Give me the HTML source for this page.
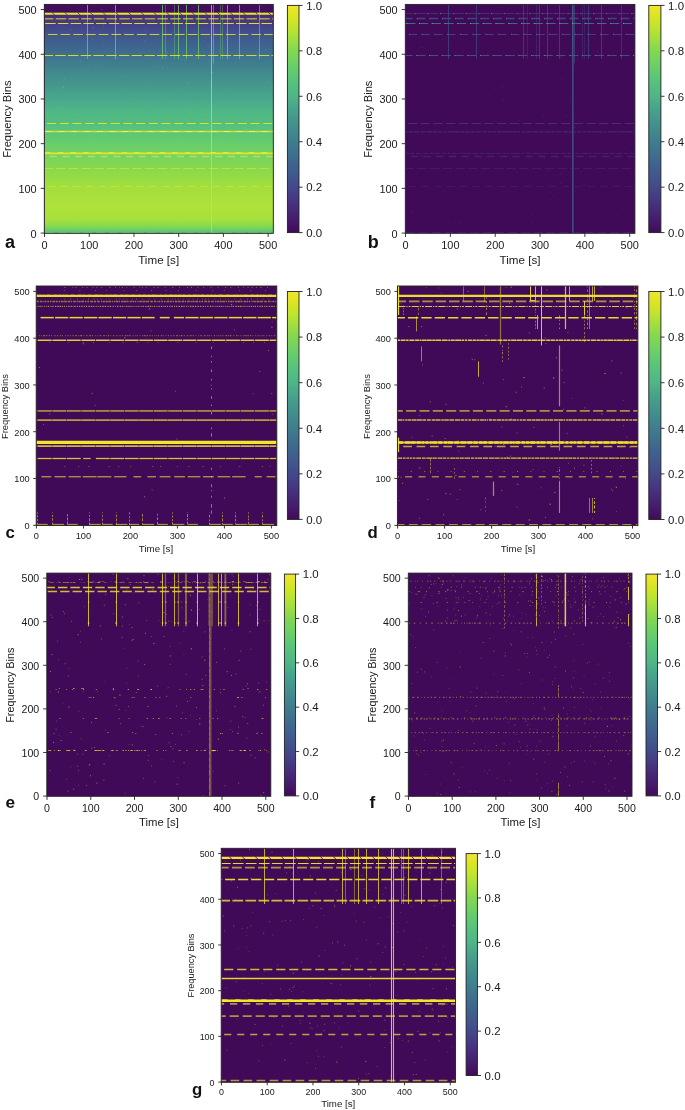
<!DOCTYPE html>
<html><head><meta charset="utf-8"><title>Spectrogram panels</title>
<style>html,body{margin:0;padding:0;background:#fff;}body{width:685px;height:1110px;overflow:hidden;font-family:"Liberation Sans",sans-serif;}svg{display:block}</style>
</head><body>
<svg width="685" height="1110" viewBox="0 0 685 1110" font-family="Liberation Sans, sans-serif">
<defs><linearGradient id="vir" x1="0" y1="1" x2="0" y2="0">
<stop offset="0.00" stop-color="#410a59"/>
<stop offset="0.05" stop-color="#451a6a"/>
<stop offset="0.10" stop-color="#462979"/>
<stop offset="0.15" stop-color="#463983"/>
<stop offset="0.20" stop-color="#43498a"/>
<stop offset="0.25" stop-color="#41578d"/>
<stop offset="0.30" stop-color="#3f638e"/>
<stop offset="0.35" stop-color="#3e708f"/>
<stop offset="0.40" stop-color="#3f7d8e"/>
<stop offset="0.45" stop-color="#418a8e"/>
<stop offset="0.50" stop-color="#45978c"/>
<stop offset="0.55" stop-color="#47a58b"/>
<stop offset="0.60" stop-color="#50b587"/>
<stop offset="0.65" stop-color="#54bf7f"/>
<stop offset="0.70" stop-color="#5fc973"/>
<stop offset="0.75" stop-color="#70d163"/>
<stop offset="0.80" stop-color="#83d750"/>
<stop offset="0.85" stop-color="#a0de41"/>
<stop offset="0.90" stop-color="#bee430"/>
<stop offset="0.95" stop-color="#dae522"/>
<stop offset="1.00" stop-color="#f1e62f"/>
</linearGradient>
<linearGradient id="abg" x1="0" y1="0" x2="0" y2="1">
<stop offset="0.0000" stop-color="#420d5d"/>
<stop offset="0.0340" stop-color="#420d5d"/>
<stop offset="0.0352" stop-color="#462777"/>
<stop offset="0.0469" stop-color="#462b7b"/>
<stop offset="0.0625" stop-color="#463380"/>
<stop offset="0.0781" stop-color="#453c85"/>
<stop offset="0.0938" stop-color="#444388"/>
<stop offset="0.1094" stop-color="#434a8a"/>
<stop offset="0.1250" stop-color="#42518c"/>
<stop offset="0.1406" stop-color="#41578d"/>
<stop offset="0.1562" stop-color="#405c8e"/>
<stop offset="0.1719" stop-color="#3f618e"/>
<stop offset="0.1875" stop-color="#3e668e"/>
<stop offset="0.2031" stop-color="#3e6b8e"/>
<stop offset="0.2188" stop-color="#3e718f"/>
<stop offset="0.2344" stop-color="#3e768f"/>
<stop offset="0.2500" stop-color="#3f7b8e"/>
<stop offset="0.2656" stop-color="#3f808e"/>
<stop offset="0.2812" stop-color="#40858e"/>
<stop offset="0.2969" stop-color="#41898e"/>
<stop offset="0.3125" stop-color="#428d8e"/>
<stop offset="0.3281" stop-color="#43918d"/>
<stop offset="0.3438" stop-color="#44958d"/>
<stop offset="0.3594" stop-color="#45998c"/>
<stop offset="0.3750" stop-color="#469d8c"/>
<stop offset="0.3906" stop-color="#46a28b"/>
<stop offset="0.4062" stop-color="#48a58b"/>
<stop offset="0.4219" stop-color="#49aa8a"/>
<stop offset="0.4375" stop-color="#4bae89"/>
<stop offset="0.4531" stop-color="#4eb388"/>
<stop offset="0.4688" stop-color="#50b686"/>
<stop offset="0.4844" stop-color="#51b984"/>
<stop offset="0.5000" stop-color="#51bb82"/>
<stop offset="0.5156" stop-color="#53be7f"/>
<stop offset="0.5312" stop-color="#55c17d"/>
<stop offset="0.5469" stop-color="#58c47a"/>
<stop offset="0.5625" stop-color="#5bc677"/>
<stop offset="0.5781" stop-color="#5fc973"/>
<stop offset="0.5938" stop-color="#62cb70"/>
<stop offset="0.6094" stop-color="#68ce6b"/>
<stop offset="0.6250" stop-color="#6ccf67"/>
<stop offset="0.6406" stop-color="#70d163"/>
<stop offset="0.6562" stop-color="#74d35e"/>
<stop offset="0.6719" stop-color="#79d45a"/>
<stop offset="0.6875" stop-color="#7ed655"/>
<stop offset="0.7031" stop-color="#81d752"/>
<stop offset="0.7188" stop-color="#87d94e"/>
<stop offset="0.7344" stop-color="#8eda4a"/>
<stop offset="0.7500" stop-color="#92db48"/>
<stop offset="0.7656" stop-color="#99dd44"/>
<stop offset="0.7812" stop-color="#9dde42"/>
<stop offset="0.7969" stop-color="#a2df3f"/>
<stop offset="0.8125" stop-color="#a4df3e"/>
<stop offset="0.8281" stop-color="#a7e03d"/>
<stop offset="0.8438" stop-color="#a9e03c"/>
<stop offset="0.8594" stop-color="#abe13a"/>
<stop offset="0.8750" stop-color="#aee139"/>
<stop offset="0.8906" stop-color="#aee139"/>
<stop offset="0.9062" stop-color="#abe13a"/>
<stop offset="0.9219" stop-color="#a9e03c"/>
<stop offset="0.9375" stop-color="#a7e03d"/>
<stop offset="0.9531" stop-color="#99dd44"/>
<stop offset="0.9688" stop-color="#85d84f"/>
<stop offset="0.9844" stop-color="#6acf68"/>
<stop offset="0.9922" stop-color="#5bc677"/>
<stop offset="0.9961" stop-color="#55c07e"/>
<stop offset="1.0000" stop-color="#50b984"/>
</linearGradient></defs>
<rect width="685" height="1110" fill="#fff"/>
<g id="pa">
<rect x="44.30" y="4.40" width="229.00" height="228.90" fill="#410a59"/>
<clipPath id="clipa"><rect x="44.30" y="4.40" width="229.00" height="228.90"/></clipPath>
<g clip-path="url(#clipa)">
<rect x="44.30" y="4.40" width="229.00" height="228.90" fill="url(#abg)"/>
<rect x="147.42" y="104.71" width="1.08" height="1.08" fill="#dae522" opacity="0.19"/>
<rect x="160.16" y="98.54" width="0.86" height="0.86" fill="#dae522" opacity="0.2"/>
<rect x="187.95" y="51.77" width="0.83" height="0.83" fill="#dae522" opacity="0.16"/>
<rect x="65.11" y="47.88" width="1.01" height="1.01" fill="#dae522" opacity="0.11"/>
<rect x="268.08" y="12.59" width="1.00" height="1.00" fill="#dae522" opacity="0.22"/>
<rect x="80.35" y="228.74" width="0.96" height="0.96" fill="#dae522" opacity="0.11"/>
<rect x="87.87" y="177.17" width="0.81" height="0.81" fill="#dae522" opacity="0.19"/>
<rect x="144.78" y="40.45" width="0.96" height="0.96" fill="#dae522" opacity="0.23"/>
<rect x="158.28" y="81.41" width="0.94" height="0.94" fill="#dae522" opacity="0.16"/>
<rect x="271.57" y="5.52" width="1.05" height="1.05" fill="#dae522" opacity="0.24"/>
<rect x="116.30" y="179.92" width="0.89" height="0.89" fill="#dae522" opacity="0.11"/>
<rect x="218.90" y="140.99" width="1.05" height="1.05" fill="#dae522" opacity="0.18"/>
<rect x="262.68" y="39.42" width="0.80" height="0.80" fill="#dae522" opacity="0.14"/>
<rect x="251.65" y="125.13" width="1.09" height="1.09" fill="#dae522" opacity="0.18"/>
<rect x="61.08" y="88.87" width="1.03" height="1.03" fill="#dae522" opacity="0.15"/>
<rect x="64.27" y="156.40" width="1.09" height="1.09" fill="#dae522" opacity="0.25"/>
<rect x="71.42" y="176.15" width="0.83" height="0.83" fill="#dae522" opacity="0.11"/>
<rect x="225.94" y="191.71" width="0.97" height="0.97" fill="#dae522" opacity="0.19"/>
<rect x="87.96" y="65.66" width="0.84" height="0.84" fill="#dae522" opacity="0.23"/>
<rect x="71.06" y="136.45" width="0.86" height="0.86" fill="#dae522" opacity="0.15"/>
<rect x="265.57" y="49.36" width="0.89" height="0.89" fill="#dae522" opacity="0.28"/>
<rect x="92.41" y="142.38" width="1.06" height="1.06" fill="#dae522" opacity="0.23"/>
<rect x="67.38" y="7.07" width="0.86" height="0.86" fill="#dae522" opacity="0.15"/>
<rect x="220.44" y="157.33" width="0.89" height="0.89" fill="#dae522" opacity="0.11"/>
<rect x="65.05" y="99.59" width="0.87" height="0.87" fill="#dae522" opacity="0.22"/>
<rect x="129.05" y="128.95" width="1.09" height="1.09" fill="#dae522" opacity="0.2"/>
<rect x="175.35" y="35.02" width="0.85" height="0.85" fill="#dae522" opacity="0.13"/>
<rect x="251.34" y="46.09" width="0.87" height="0.87" fill="#dae522" opacity="0.14"/>
<rect x="212.88" y="18.20" width="0.86" height="0.86" fill="#dae522" opacity="0.29"/>
<rect x="245.35" y="94.83" width="0.93" height="0.93" fill="#dae522" opacity="0.12"/>
<rect x="53.34" y="13.13" width="0.87" height="0.87" fill="#dae522" opacity="0.24"/>
<rect x="102.99" y="44.70" width="0.98" height="0.98" fill="#dae522" opacity="0.16"/>
<rect x="84.50" y="68.30" width="0.82" height="0.82" fill="#dae522" opacity="0.15"/>
<rect x="171.82" y="38.17" width="0.98" height="0.98" fill="#dae522" opacity="0.16"/>
<rect x="253.41" y="185.81" width="0.80" height="0.80" fill="#dae522" opacity="0.15"/>
<rect x="146.01" y="218.45" width="0.85" height="0.85" fill="#dae522" opacity="0.17"/>
<rect x="174.78" y="202.23" width="0.91" height="0.91" fill="#dae522" opacity="0.28"/>
<rect x="267.68" y="82.64" width="1.01" height="1.01" fill="#dae522" opacity="0.22"/>
<rect x="76.52" y="224.24" width="0.81" height="0.81" fill="#dae522" opacity="0.28"/>
<rect x="204.15" y="13.14" width="0.81" height="0.81" fill="#dae522" opacity="0.23"/>
<rect x="154.31" y="65.95" width="0.90" height="0.90" fill="#dae522" opacity="0.3"/>
<rect x="61.59" y="107.85" width="1.02" height="1.02" fill="#dae522" opacity="0.28"/>
<rect x="212.26" y="71.98" width="1.04" height="1.04" fill="#dae522" opacity="0.28"/>
<rect x="124.53" y="76.18" width="1.07" height="1.07" fill="#dae522" opacity="0.27"/>
<rect x="139.41" y="52.21" width="1.06" height="1.06" fill="#dae522" opacity="0.21"/>
<rect x="186.76" y="145.14" width="0.97" height="0.97" fill="#dae522" opacity="0.22"/>
<rect x="62.68" y="86.58" width="1.10" height="1.10" fill="#dae522" opacity="0.28"/>
<rect x="210.24" y="143.73" width="1.02" height="1.02" fill="#dae522" opacity="0.22"/>
<rect x="144.85" y="41.44" width="0.83" height="0.83" fill="#dae522" opacity="0.25"/>
<rect x="51.28" y="95.33" width="0.94" height="0.94" fill="#dae522" opacity="0.15"/>
<rect x="203.46" y="118.98" width="0.98" height="0.98" fill="#dae522" opacity="0.28"/>
<rect x="102.77" y="229.61" width="0.89" height="0.89" fill="#dae522" opacity="0.24"/>
<rect x="90.55" y="193.50" width="1.07" height="1.07" fill="#dae522" opacity="0.23"/>
<rect x="145.13" y="29.26" width="0.90" height="0.90" fill="#dae522" opacity="0.23"/>
<rect x="89.64" y="134.05" width="1.04" height="1.04" fill="#dae522" opacity="0.28"/>
<rect x="244.88" y="144.66" width="0.97" height="0.97" fill="#dae522" opacity="0.16"/>
<rect x="75.45" y="119.13" width="1.05" height="1.05" fill="#dae522" opacity="0.27"/>
<rect x="206.44" y="16.01" width="0.88" height="0.88" fill="#dae522" opacity="0.13"/>
<rect x="147.13" y="169.58" width="0.86" height="0.86" fill="#dae522" opacity="0.18"/>
<rect x="186.98" y="119.80" width="0.89" height="0.89" fill="#dae522" opacity="0.27"/>
<rect x="268.13" y="129.25" width="0.82" height="0.82" fill="#dae522" opacity="0.11"/>
<rect x="243.17" y="222.68" width="1.01" height="1.01" fill="#dae522" opacity="0.21"/>
<rect x="114.92" y="52.11" width="0.81" height="0.81" fill="#dae522" opacity="0.13"/>
<rect x="147.99" y="226.48" width="1.05" height="1.05" fill="#dae522" opacity="0.15"/>
<rect x="76.55" y="221.45" width="0.99" height="0.99" fill="#dae522" opacity="0.19"/>
<rect x="187.87" y="83.05" width="1.04" height="1.04" fill="#dae522" opacity="0.29"/>
<rect x="200.33" y="186.80" width="0.94" height="0.94" fill="#dae522" opacity="0.14"/>
<rect x="46.91" y="124.67" width="1.01" height="1.01" fill="#dae522" opacity="0.14"/>
<rect x="106.47" y="153.45" width="1.01" height="1.01" fill="#dae522" opacity="0.2"/>
<rect x="184.40" y="60.09" width="0.92" height="0.92" fill="#dae522" opacity="0.26"/>
<rect x="250.74" y="212.24" width="1.08" height="1.08" fill="#dae522" opacity="0.24"/>
<rect x="74.05" y="128.93" width="0.99" height="0.99" fill="#dae522" opacity="0.28"/>
<rect x="130.22" y="102.66" width="1.06" height="1.06" fill="#dae522" opacity="0.26"/>
<rect x="259.44" y="126.61" width="1.00" height="1.00" fill="#dae522" opacity="0.14"/>
<rect x="208.83" y="45.91" width="0.99" height="0.99" fill="#dae522" opacity="0.24"/>
<rect x="92.98" y="27.28" width="1.09" height="1.09" fill="#dae522" opacity="0.3"/>
<rect x="166.77" y="52.23" width="0.90" height="0.90" fill="#dae522" opacity="0.28"/>
<rect x="239.38" y="152.91" width="0.82" height="0.82" fill="#dae522" opacity="0.19"/>
<rect x="169.78" y="57.34" width="0.95" height="0.95" fill="#dae522" opacity="0.11"/>
<rect x="228.66" y="217.53" width="1.04" height="1.04" fill="#dae522" opacity="0.13"/>
<rect x="120.82" y="52.91" width="0.84" height="0.84" fill="#dae522" opacity="0.13"/>
<rect x="162.04" y="67.45" width="1.05" height="1.05" fill="#dae522" opacity="0.24"/>
<rect x="259.74" y="120.00" width="1.08" height="1.08" fill="#dae522" opacity="0.12"/>
<rect x="94.93" y="112.34" width="0.89" height="0.89" fill="#dae522" opacity="0.25"/>
<rect x="189.89" y="113.14" width="1.05" height="1.05" fill="#dae522" opacity="0.21"/>
<rect x="115.40" y="145.35" width="1.05" height="1.05" fill="#dae522" opacity="0.28"/>
<rect x="91.83" y="38.48" width="1.09" height="1.09" fill="#dae522" opacity="0.2"/>
<rect x="174.94" y="186.42" width="0.96" height="0.96" fill="#dae522" opacity="0.2"/>
<rect x="182.21" y="225.77" width="1.09" height="1.09" fill="#dae522" opacity="0.2"/>
<rect x="135.68" y="49.85" width="0.97" height="0.97" fill="#dae522" opacity="0.2"/>
<rect x="201.80" y="217.15" width="0.96" height="0.96" fill="#dae522" opacity="0.18"/>
<rect x="262.37" y="22.06" width="0.88" height="0.88" fill="#dae522" opacity="0.19"/>
<rect x="73.35" y="133.42" width="1.04" height="1.04" fill="#dae522" opacity="0.28"/>
<rect x="153.03" y="160.02" width="0.86" height="0.86" fill="#dae522" opacity="0.22"/>
<rect x="255.10" y="202.65" width="1.03" height="1.03" fill="#dae522" opacity="0.1"/>
<rect x="88.66" y="180.41" width="1.01" height="1.01" fill="#dae522" opacity="0.16"/>
<rect x="125.45" y="91.18" width="0.83" height="0.83" fill="#dae522" opacity="0.25"/>
<rect x="72.49" y="116.03" width="0.88" height="0.88" fill="#dae522" opacity="0.14"/>
<rect x="165.25" y="132.78" width="0.91" height="0.91" fill="#dae522" opacity="0.18"/>
<rect x="165.05" y="195.85" width="0.86" height="0.86" fill="#dae522" opacity="0.23"/>
<rect x="189.80" y="111.58" width="1.06" height="1.06" fill="#dae522" opacity="0.22"/>
<rect x="239.51" y="179.17" width="1.02" height="1.02" fill="#dae522" opacity="0.26"/>
<rect x="250.03" y="160.30" width="0.89" height="0.89" fill="#dae522" opacity="0.28"/>
<rect x="94.10" y="4.91" width="1.07" height="1.07" fill="#dae522" opacity="0.13"/>
<rect x="99.02" y="66.85" width="0.88" height="0.88" fill="#dae522" opacity="0.12"/>
<rect x="233.90" y="136.17" width="1.04" height="1.04" fill="#dae522" opacity="0.13"/>
<rect x="136.26" y="76.30" width="0.81" height="0.81" fill="#dae522" opacity="0.14"/>
<rect x="199.78" y="24.69" width="1.09" height="1.09" fill="#dae522" opacity="0.12"/>
<rect x="159.62" y="59.63" width="0.95" height="0.95" fill="#dae522" opacity="0.24"/>
<rect x="87.58" y="216.16" width="0.83" height="0.83" fill="#dae522" opacity="0.11"/>
<rect x="170.08" y="114.99" width="0.97" height="0.97" fill="#dae522" opacity="0.13"/>
<rect x="86.46" y="185.70" width="1.05" height="1.05" fill="#dae522" opacity="0.3"/>
<rect x="255.58" y="210.55" width="0.82" height="0.82" fill="#dae522" opacity="0.29"/>
<rect x="149.72" y="58.16" width="0.90" height="0.90" fill="#dae522" opacity="0.19"/>
<rect x="161.79" y="134.27" width="0.98" height="0.98" fill="#dae522" opacity="0.1"/>
<rect x="204.14" y="40.08" width="0.85" height="0.85" fill="#dae522" opacity="0.19"/>
<rect x="212.86" y="139.97" width="0.86" height="0.86" fill="#dae522" opacity="0.13"/>
<rect x="161.13" y="228.59" width="1.07" height="1.07" fill="#dae522" opacity="0.26"/>
<rect x="204.90" y="36.27" width="0.99" height="0.99" fill="#dae522" opacity="0.18"/>
<rect x="180.93" y="117.33" width="1.09" height="1.09" fill="#dae522" opacity="0.26"/>
<rect x="103.26" y="24.74" width="1.02" height="1.02" fill="#dae522" opacity="0.26"/>
<rect x="229.90" y="139.79" width="1.07" height="1.07" fill="#dae522" opacity="0.28"/>
<rect x="202.63" y="57.52" width="1.03" height="1.03" fill="#dae522" opacity="0.18"/>
<rect x="209.03" y="216.12" width="0.90" height="0.90" fill="#dae522" opacity="0.19"/>
<rect x="46.89" y="151.21" width="0.99" height="0.99" fill="#dae522" opacity="0.22"/>
<rect x="97.31" y="17.16" width="1.00" height="1.00" fill="#dae522" opacity="0.17"/>
<rect x="194.69" y="102.54" width="0.96" height="0.96" fill="#dae522" opacity="0.18"/>
<rect x="272.10" y="85.97" width="1.01" height="1.01" fill="#dae522" opacity="0.25"/>
<rect x="267.60" y="226.94" width="0.98" height="0.98" fill="#dae522" opacity="0.25"/>
<rect x="102.99" y="140.84" width="0.82" height="0.82" fill="#dae522" opacity="0.14"/>
<rect x="130.06" y="209.79" width="0.88" height="0.88" fill="#dae522" opacity="0.28"/>
<rect x="169.65" y="116.53" width="1.09" height="1.09" fill="#dae522" opacity="0.21"/>
<rect x="270.99" y="86.92" width="1.04" height="1.04" fill="#dae522" opacity="0.12"/>
<rect x="180.60" y="59.45" width="0.81" height="0.81" fill="#dae522" opacity="0.29"/>
<rect x="80.96" y="124.85" width="0.85" height="0.85" fill="#dae522" opacity="0.2"/>
<rect x="183.57" y="218.77" width="1.08" height="1.08" fill="#dae522" opacity="0.18"/>
<rect x="164.44" y="96.13" width="0.91" height="0.91" fill="#dae522" opacity="0.16"/>
<rect x="193.67" y="104.61" width="0.89" height="0.89" fill="#dae522" opacity="0.24"/>
<rect x="111.93" y="229.00" width="0.87" height="0.87" fill="#dae522" opacity="0.11"/>
<rect x="80.16" y="60.44" width="0.92" height="0.92" fill="#dae522" opacity="0.28"/>
<rect x="214.79" y="220.67" width="1.10" height="1.10" fill="#dae522" opacity="0.29"/>
<rect x="61.24" y="26.10" width="0.93" height="0.93" fill="#dae522" opacity="0.2"/>
<rect x="266.04" y="176.69" width="0.96" height="0.96" fill="#dae522" opacity="0.29"/>
<rect x="208.96" y="125.51" width="1.09" height="1.09" fill="#dae522" opacity="0.26"/>
<rect x="181.90" y="205.95" width="0.99" height="0.99" fill="#dae522" opacity="0.19"/>
<rect x="90.86" y="220.30" width="0.96" height="0.96" fill="#dae522" opacity="0.12"/>
<rect x="145.32" y="80.18" width="0.94" height="0.94" fill="#dae522" opacity="0.15"/>
<rect x="177.01" y="136.64" width="1.03" height="1.03" fill="#dae522" opacity="0.21"/>
<rect x="271.58" y="15.34" width="1.02" height="1.02" fill="#dae522" opacity="0.15"/>
<rect x="70.38" y="28.97" width="1.04" height="1.04" fill="#dae522" opacity="0.22"/>
<rect x="126.24" y="170.34" width="1.01" height="1.01" fill="#dae522" opacity="0.21"/>
<rect x="179.16" y="88.05" width="1.03" height="1.03" fill="#dae522" opacity="0.14"/>
<rect x="101.11" y="9.15" width="1.07" height="1.07" fill="#dae522" opacity="0.28"/>
<rect x="53.52" y="218.36" width="0.88" height="0.88" fill="#dae522" opacity="0.19"/>
<rect x="186.40" y="208.83" width="0.96" height="0.96" fill="#dae522" opacity="0.11"/>
<rect x="64.17" y="78.25" width="0.97" height="0.97" fill="#dae522" opacity="0.23"/>
<rect x="129.50" y="123.30" width="0.86" height="0.86" fill="#dae522" opacity="0.17"/>
<rect x="214.13" y="41.40" width="0.82" height="0.82" fill="#dae522" opacity="0.12"/>
<rect x="228.67" y="90.18" width="1.03" height="1.03" fill="#dae522" opacity="0.14"/>
<rect x="141.06" y="173.38" width="1.04" height="1.04" fill="#dae522" opacity="0.17"/>
<rect x="193.33" y="7.08" width="0.90" height="0.90" fill="#dae522" opacity="0.21"/>
<rect x="214.36" y="22.62" width="0.93" height="0.93" fill="#dae522" opacity="0.17"/>
<rect x="66.65" y="33.06" width="0.82" height="0.82" fill="#dae522" opacity="0.12"/>
<rect x="172.92" y="121.79" width="1.01" height="1.01" fill="#dae522" opacity="0.16"/>
<rect x="221.09" y="214.88" width="0.86" height="0.86" fill="#dae522" opacity="0.23"/>
<rect x="63.06" y="162.99" width="1.02" height="1.02" fill="#dae522" opacity="0.24"/>
<rect x="108.93" y="199.65" width="0.91" height="0.91" fill="#dae522" opacity="0.25"/>
<rect x="127.88" y="205.41" width="1.01" height="1.01" fill="#dae522" opacity="0.21"/>
<rect x="253.55" y="18.20" width="1.07" height="1.07" fill="#dae522" opacity="0.19"/>
<rect x="227.34" y="162.83" width="0.90" height="0.90" fill="#dae522" opacity="0.18"/>
<line x1="87.50" y1="58.94" x2="87.50" y2="4.40" stroke="#6ccf67" stroke-width="0.9" opacity="0.85"/>
<line x1="115.50" y1="58.94" x2="115.50" y2="4.40" stroke="#6ccf67" stroke-width="0.9" opacity="0.85"/>
<line x1="162.50" y1="58.94" x2="162.50" y2="4.40" stroke="#6ccf67" stroke-width="0.9" opacity="0.85"/>
<line x1="165.50" y1="58.94" x2="165.50" y2="4.40" stroke="#6ccf67" stroke-width="0.9" opacity="0.425"/>
<line x1="174.50" y1="58.94" x2="174.50" y2="4.40" stroke="#6ccf67" stroke-width="0.9" opacity="0.425"/>
<line x1="178.50" y1="58.94" x2="178.50" y2="4.40" stroke="#6ccf67" stroke-width="0.9" opacity="0.85"/>
<line x1="186.50" y1="58.94" x2="186.50" y2="4.40" stroke="#6ccf67" stroke-width="0.9" opacity="0.85"/>
<line x1="198.50" y1="58.94" x2="198.50" y2="4.40" stroke="#6ccf67" stroke-width="0.9" opacity="0.85"/>
<line x1="220.50" y1="58.94" x2="220.50" y2="4.40" stroke="#6ccf67" stroke-width="0.9" opacity="0.3825"/>
<line x1="222.50" y1="58.94" x2="222.50" y2="4.40" stroke="#6ccf67" stroke-width="0.9" opacity="0.3825"/>
<line x1="227.50" y1="58.94" x2="227.50" y2="4.40" stroke="#6ccf67" stroke-width="0.9" opacity="0.85"/>
<line x1="239.50" y1="58.94" x2="239.50" y2="4.40" stroke="#6ccf67" stroke-width="0.9" opacity="0.85"/>
<line x1="259.50" y1="58.94" x2="259.50" y2="4.40" stroke="#6ccf67" stroke-width="0.9" opacity="0.68"/>
<line x1="211.50" y1="233.30" x2="211.50" y2="4.40" stroke="#cfe53a" stroke-width="0.9" opacity="0.8"/>
<line x1="213.50" y1="63.41" x2="213.50" y2="4.40" stroke="#7bd558" stroke-width="0.9" opacity="0.6"/>
<line x1="44.30" y1="13.79" x2="273.30" y2="13.79" stroke="#ece51b" stroke-width="1.9" opacity="1.0"/>
<line x1="26.50" y1="12.54" x2="29.50" y2="15.04" stroke="#462979" stroke-width="0.9" opacity="0.9"/>
<line x1="39.22" y1="12.54" x2="42.22" y2="15.04" stroke="#462979" stroke-width="0.9" opacity="0.9"/>
<line x1="51.94" y1="12.54" x2="54.94" y2="15.04" stroke="#462979" stroke-width="0.9" opacity="0.9"/>
<line x1="64.67" y1="12.54" x2="67.67" y2="15.04" stroke="#462979" stroke-width="0.9" opacity="0.9"/>
<line x1="77.39" y1="12.54" x2="80.39" y2="15.04" stroke="#462979" stroke-width="0.9" opacity="0.9"/>
<line x1="90.11" y1="12.54" x2="93.11" y2="15.04" stroke="#462979" stroke-width="0.9" opacity="0.9"/>
<line x1="102.83" y1="12.54" x2="105.83" y2="15.04" stroke="#462979" stroke-width="0.9" opacity="0.9"/>
<line x1="115.56" y1="12.54" x2="118.56" y2="15.04" stroke="#462979" stroke-width="0.9" opacity="0.9"/>
<line x1="128.28" y1="12.54" x2="131.28" y2="15.04" stroke="#462979" stroke-width="0.9" opacity="0.9"/>
<line x1="141.00" y1="12.54" x2="144.00" y2="15.04" stroke="#462979" stroke-width="0.9" opacity="0.9"/>
<line x1="153.72" y1="12.54" x2="156.72" y2="15.04" stroke="#462979" stroke-width="0.9" opacity="0.9"/>
<line x1="166.44" y1="12.54" x2="169.44" y2="15.04" stroke="#462979" stroke-width="0.9" opacity="0.9"/>
<line x1="179.17" y1="12.54" x2="182.17" y2="15.04" stroke="#462979" stroke-width="0.9" opacity="0.9"/>
<line x1="191.89" y1="12.54" x2="194.89" y2="15.04" stroke="#462979" stroke-width="0.9" opacity="0.9"/>
<line x1="204.61" y1="12.54" x2="207.61" y2="15.04" stroke="#462979" stroke-width="0.9" opacity="0.9"/>
<line x1="217.33" y1="12.54" x2="220.33" y2="15.04" stroke="#462979" stroke-width="0.9" opacity="0.9"/>
<line x1="230.06" y1="12.54" x2="233.06" y2="15.04" stroke="#462979" stroke-width="0.9" opacity="0.9"/>
<line x1="242.78" y1="12.54" x2="245.78" y2="15.04" stroke="#462979" stroke-width="0.9" opacity="0.9"/>
<line x1="255.50" y1="12.54" x2="258.50" y2="15.04" stroke="#462979" stroke-width="0.9" opacity="0.9"/>
<line x1="268.22" y1="12.54" x2="271.22" y2="15.04" stroke="#462979" stroke-width="0.9" opacity="0.9"/>
<line x1="44.30" y1="18.71" x2="273.30" y2="18.71" stroke="#ece51b" stroke-width="1.6" opacity="0.62" stroke-dasharray="10.51 2.21" stroke-dashoffset="1.34"/>
<line x1="44.30" y1="23.50" x2="273.30" y2="23.50" stroke="#ece51b" stroke-width="1.2" opacity="0.95" stroke-dasharray="10.51 2.21" stroke-dashoffset="-0.89"/>
<line x1="44.30" y1="34.50" x2="273.30" y2="34.50" stroke="#ece51b" stroke-width="1.0" opacity="0.85" stroke-dasharray="9.62 3.10" stroke-dashoffset="-3.58"/>
<line x1="44.30" y1="55.50" x2="273.30" y2="55.50" stroke="#ece51b" stroke-width="1.2" opacity="0.9" stroke-dasharray="10.51 2.21" stroke-dashoffset="1.79"/>
<line x1="44.30" y1="123.50" x2="273.30" y2="123.50" stroke="#ece51b" stroke-width="1.1" opacity="0.9" stroke-dasharray="9.17 3.55" stroke-dashoffset="-2.68"/>
<line x1="44.30" y1="131.50" x2="273.30" y2="131.50" stroke="#ece51b" stroke-width="1.3" opacity="0.85"/>
<line x1="44.30" y1="131.50" x2="273.30" y2="131.50" stroke="#ffffd0" stroke-width="0.8" opacity="0.55" stroke-dasharray="6.26 6.46" stroke-dashoffset="-1.34"/>
<line x1="44.30" y1="153.36" x2="273.30" y2="153.36" stroke="#ece51b" stroke-width="1.8" opacity="0.97"/>
<line x1="44.30" y1="152.50" x2="273.30" y2="152.50" stroke="#ffffb0" stroke-width="0.8" opacity="0.5" stroke-dasharray="5.37 7.35" stroke-dashoffset="-0.89"/>
<line x1="44.30" y1="156.54" x2="273.30" y2="156.54" stroke="#e8e86a" stroke-width="1.6" opacity="0.55" stroke-dasharray="7.16 5.56" stroke-dashoffset="-5.37"/>
<line x1="44.30" y1="168.50" x2="273.30" y2="168.50" stroke="#ece51b" stroke-width="0.9" opacity="0.65" stroke-dasharray="9.39 3.33" stroke-dashoffset="0.89"/>
<line x1="44.30" y1="186.50" x2="273.30" y2="186.50" stroke="#ece51b" stroke-width="0.9" opacity="0.6" stroke-dasharray="7.16 5.56" stroke-dashoffset="-3.58"/>
<line x1="44.30" y1="232.50" x2="273.30" y2="232.50" stroke="#ece51b" stroke-width="0.9" opacity="0.35" stroke-dasharray="8.95 3.77" stroke-dashoffset="-0.89"/>
</g>
<rect x="44.30" y="4.40" width="229.00" height="228.90" fill="none" stroke="#222" stroke-width="0.9"/>
<line x1="44.52" y1="233.30" x2="44.52" y2="236.90" stroke="#222" stroke-width="0.9"/>
<line x1="40.70" y1="233.08" x2="44.30" y2="233.08" stroke="#222" stroke-width="0.9"/>
<text x="44.52" y="249.30" font-size="10.5" text-anchor="middle" fill="#1a1a1a" textLength="6.08" lengthAdjust="spacingAndGlyphs">0</text>
<text x="36.70" y="237.54" font-size="10.5" text-anchor="end" fill="#1a1a1a" textLength="6.08" lengthAdjust="spacingAndGlyphs">0</text>
<line x1="89.25" y1="233.30" x2="89.25" y2="236.90" stroke="#222" stroke-width="0.9"/>
<line x1="40.70" y1="188.37" x2="44.30" y2="188.37" stroke="#222" stroke-width="0.9"/>
<text x="89.25" y="249.30" font-size="10.5" text-anchor="middle" fill="#1a1a1a" textLength="18.24" lengthAdjust="spacingAndGlyphs">100</text>
<text x="36.70" y="192.83" font-size="10.5" text-anchor="end" fill="#1a1a1a" textLength="18.24" lengthAdjust="spacingAndGlyphs">100</text>
<line x1="133.98" y1="233.30" x2="133.98" y2="236.90" stroke="#222" stroke-width="0.9"/>
<line x1="40.70" y1="143.66" x2="44.30" y2="143.66" stroke="#222" stroke-width="0.9"/>
<text x="133.98" y="249.30" font-size="10.5" text-anchor="middle" fill="#1a1a1a" textLength="18.24" lengthAdjust="spacingAndGlyphs">200</text>
<text x="36.70" y="148.12" font-size="10.5" text-anchor="end" fill="#1a1a1a" textLength="18.24" lengthAdjust="spacingAndGlyphs">200</text>
<line x1="178.70" y1="233.30" x2="178.70" y2="236.90" stroke="#222" stroke-width="0.9"/>
<line x1="40.70" y1="98.96" x2="44.30" y2="98.96" stroke="#222" stroke-width="0.9"/>
<text x="178.70" y="249.30" font-size="10.5" text-anchor="middle" fill="#1a1a1a" textLength="18.24" lengthAdjust="spacingAndGlyphs">300</text>
<text x="36.70" y="103.41" font-size="10.5" text-anchor="end" fill="#1a1a1a" textLength="18.24" lengthAdjust="spacingAndGlyphs">300</text>
<line x1="223.43" y1="233.30" x2="223.43" y2="236.90" stroke="#222" stroke-width="0.9"/>
<line x1="40.70" y1="54.25" x2="44.30" y2="54.25" stroke="#222" stroke-width="0.9"/>
<text x="223.43" y="249.30" font-size="10.5" text-anchor="middle" fill="#1a1a1a" textLength="18.24" lengthAdjust="spacingAndGlyphs">400</text>
<text x="36.70" y="58.71" font-size="10.5" text-anchor="end" fill="#1a1a1a" textLength="18.24" lengthAdjust="spacingAndGlyphs">400</text>
<line x1="268.16" y1="233.30" x2="268.16" y2="236.90" stroke="#222" stroke-width="0.9"/>
<line x1="40.70" y1="9.54" x2="44.30" y2="9.54" stroke="#222" stroke-width="0.9"/>
<text x="268.16" y="249.30" font-size="10.5" text-anchor="middle" fill="#1a1a1a" textLength="18.24" lengthAdjust="spacingAndGlyphs">500</text>
<text x="36.70" y="14.00" font-size="10.5" text-anchor="end" fill="#1a1a1a" textLength="18.24" lengthAdjust="spacingAndGlyphs">500</text>
<text x="158.70" y="263.50" font-size="11.0" text-anchor="middle" fill="#1a1a1a" textLength="41.00" lengthAdjust="spacingAndGlyphs">Time [s]</text>
<text x="10.80" y="119.20" font-size="11.0" text-anchor="middle" fill="#1a1a1a" textLength="77.30" lengthAdjust="spacingAndGlyphs" transform="rotate(-90 10.80 119.20)">Frequency Bins</text>
<text x="5.10" y="248.10" font-size="18" text-anchor="start" fill="#111" font-weight="bold">a</text>
<rect x="287.40" y="5.40" width="11.60" height="227.20" fill="url(#vir)" stroke="#222" stroke-width="0.9"/>
<line x1="299.00" y1="232.60" x2="302.60" y2="232.60" stroke="#222" stroke-width="0.9"/>
<text x="306.20" y="236.90" font-size="10.6" text-anchor="start" fill="#1a1a1a" textLength="15.90" lengthAdjust="spacingAndGlyphs">0.0</text>
<line x1="299.00" y1="187.16" x2="302.60" y2="187.16" stroke="#222" stroke-width="0.9"/>
<text x="306.20" y="191.46" font-size="10.6" text-anchor="start" fill="#1a1a1a" textLength="15.90" lengthAdjust="spacingAndGlyphs">0.2</text>
<line x1="299.00" y1="141.72" x2="302.60" y2="141.72" stroke="#222" stroke-width="0.9"/>
<text x="306.20" y="146.02" font-size="10.6" text-anchor="start" fill="#1a1a1a" textLength="15.90" lengthAdjust="spacingAndGlyphs">0.4</text>
<line x1="299.00" y1="96.28" x2="302.60" y2="96.28" stroke="#222" stroke-width="0.9"/>
<text x="306.20" y="100.58" font-size="10.6" text-anchor="start" fill="#1a1a1a" textLength="15.90" lengthAdjust="spacingAndGlyphs">0.6</text>
<line x1="299.00" y1="50.84" x2="302.60" y2="50.84" stroke="#222" stroke-width="0.9"/>
<text x="306.20" y="55.14" font-size="10.6" text-anchor="start" fill="#1a1a1a" textLength="15.90" lengthAdjust="spacingAndGlyphs">0.8</text>
<line x1="299.00" y1="5.40" x2="302.60" y2="5.40" stroke="#222" stroke-width="0.9"/>
<text x="306.20" y="9.70" font-size="10.6" text-anchor="start" fill="#1a1a1a" textLength="15.90" lengthAdjust="spacingAndGlyphs">1.0</text>
</g>
<g id="pb">
<rect x="405.30" y="4.40" width="229.60" height="228.90" fill="#410a59"/>
<clipPath id="clipb"><rect x="405.30" y="4.40" width="229.60" height="228.90"/></clipPath>
<g clip-path="url(#clipb)">
<rect x="443.13" y="75.17" width="0.99" height="0.99" fill="#3f638e" opacity="0.27"/>
<rect x="454.76" y="51.74" width="1.04" height="1.04" fill="#3f638e" opacity="0.28"/>
<rect x="520.86" y="178.51" width="0.80" height="0.80" fill="#3f638e" opacity="0.24"/>
<rect x="539.07" y="216.35" width="1.04" height="1.04" fill="#3f638e" opacity="0.21"/>
<rect x="458.54" y="222.45" width="1.10" height="1.10" fill="#3f638e" opacity="0.33"/>
<rect x="605.30" y="92.07" width="0.81" height="0.81" fill="#3f638e" opacity="0.23"/>
<rect x="519.00" y="205.73" width="1.09" height="1.09" fill="#3f638e" opacity="0.24"/>
<rect x="440.89" y="46.18" width="0.84" height="0.84" fill="#3f638e" opacity="0.38"/>
<rect x="508.95" y="106.56" width="0.90" height="0.90" fill="#3f638e" opacity="0.27"/>
<rect x="448.11" y="223.65" width="1.06" height="1.06" fill="#3f638e" opacity="0.21"/>
<rect x="583.53" y="184.62" width="1.09" height="1.09" fill="#3f638e" opacity="0.37"/>
<rect x="577.77" y="58.56" width="0.97" height="0.97" fill="#3f638e" opacity="0.33"/>
<rect x="433.40" y="123.71" width="1.05" height="1.05" fill="#3f638e" opacity="0.2"/>
<rect x="616.23" y="30.20" width="0.92" height="0.92" fill="#3f638e" opacity="0.24"/>
<rect x="508.44" y="144.29" width="1.10" height="1.10" fill="#3f638e" opacity="0.25"/>
<rect x="411.59" y="210.90" width="1.02" height="1.02" fill="#3f638e" opacity="0.4"/>
<rect x="518.71" y="120.29" width="0.97" height="0.97" fill="#3f638e" opacity="0.34"/>
<rect x="456.17" y="93.59" width="0.97" height="0.97" fill="#3f638e" opacity="0.31"/>
<rect x="446.76" y="193.47" width="0.90" height="0.90" fill="#3f638e" opacity="0.38"/>
<rect x="484.64" y="96.28" width="0.89" height="0.89" fill="#3f638e" opacity="0.18"/>
<rect x="420.44" y="46.95" width="1.03" height="1.03" fill="#3f638e" opacity="0.24"/>
<rect x="561.42" y="78.29" width="1.07" height="1.07" fill="#3f638e" opacity="0.39"/>
<rect x="498.33" y="7.00" width="1.09" height="1.09" fill="#3f638e" opacity="0.3"/>
<rect x="607.10" y="120.46" width="0.91" height="0.91" fill="#3f638e" opacity="0.21"/>
<rect x="605.55" y="195.29" width="0.82" height="0.82" fill="#3f638e" opacity="0.35"/>
<rect x="582.10" y="122.15" width="1.05" height="1.05" fill="#3f638e" opacity="0.16"/>
<rect x="464.39" y="166.20" width="0.93" height="0.93" fill="#3f638e" opacity="0.19"/>
<rect x="421.29" y="155.16" width="1.07" height="1.07" fill="#3f638e" opacity="0.4"/>
<rect x="575.78" y="123.20" width="0.88" height="0.88" fill="#3f638e" opacity="0.39"/>
<rect x="525.55" y="66.42" width="0.81" height="0.81" fill="#3f638e" opacity="0.2"/>
<rect x="596.78" y="51.14" width="1.06" height="1.06" fill="#3f638e" opacity="0.3"/>
<rect x="502.70" y="99.86" width="1.05" height="1.05" fill="#3f638e" opacity="0.23"/>
<rect x="527.42" y="169.31" width="1.03" height="1.03" fill="#3f638e" opacity="0.15"/>
<rect x="561.99" y="15.14" width="0.81" height="0.81" fill="#3f638e" opacity="0.3"/>
<rect x="552.45" y="38.33" width="0.98" height="0.98" fill="#3f638e" opacity="0.21"/>
<rect x="498.02" y="13.93" width="1.07" height="1.07" fill="#3f638e" opacity="0.18"/>
<rect x="427.22" y="210.85" width="0.81" height="0.81" fill="#3f638e" opacity="0.26"/>
<rect x="437.62" y="34.76" width="1.00" height="1.00" fill="#3f638e" opacity="0.18"/>
<rect x="528.45" y="158.36" width="0.95" height="0.95" fill="#3f638e" opacity="0.2"/>
<rect x="443.42" y="190.31" width="0.91" height="0.91" fill="#3f638e" opacity="0.33"/>
<rect x="531.01" y="221.61" width="1.01" height="1.01" fill="#3f638e" opacity="0.37"/>
<rect x="582.30" y="52.29" width="0.80" height="0.80" fill="#3f638e" opacity="0.27"/>
<rect x="420.04" y="58.37" width="0.85" height="0.85" fill="#3f638e" opacity="0.33"/>
<rect x="463.25" y="73.63" width="0.89" height="0.89" fill="#3f638e" opacity="0.16"/>
<rect x="494.20" y="161.68" width="1.07" height="1.07" fill="#3f638e" opacity="0.22"/>
<rect x="520.27" y="107.08" width="1.08" height="1.08" fill="#3f638e" opacity="0.17"/>
<rect x="542.68" y="116.47" width="1.02" height="1.02" fill="#3f638e" opacity="0.39"/>
<rect x="476.29" y="72.99" width="0.96" height="0.96" fill="#3f638e" opacity="0.29"/>
<rect x="419.97" y="46.69" width="1.09" height="1.09" fill="#3f638e" opacity="0.24"/>
<rect x="478.16" y="6.20" width="0.83" height="0.83" fill="#3f638e" opacity="0.17"/>
<rect x="422.20" y="46.81" width="1.03" height="1.03" fill="#3f638e" opacity="0.26"/>
<rect x="547.31" y="227.63" width="0.99" height="0.99" fill="#3f638e" opacity="0.26"/>
<rect x="523.62" y="143.56" width="0.92" height="0.92" fill="#3f638e" opacity="0.21"/>
<rect x="416.68" y="133.45" width="0.87" height="0.87" fill="#3f638e" opacity="0.33"/>
<rect x="592.06" y="67.46" width="0.94" height="0.94" fill="#3f638e" opacity="0.21"/>
<rect x="493.45" y="121.36" width="0.99" height="0.99" fill="#3f638e" opacity="0.39"/>
<rect x="424.99" y="122.99" width="0.95" height="0.95" fill="#3f638e" opacity="0.33"/>
<rect x="608.74" y="54.75" width="0.99" height="0.99" fill="#3f638e" opacity="0.34"/>
<rect x="557.95" y="36.67" width="1.01" height="1.01" fill="#3f638e" opacity="0.32"/>
<rect x="461.51" y="23.57" width="0.92" height="0.92" fill="#3f638e" opacity="0.3"/>
<rect x="593.70" y="12.78" width="1.10" height="1.10" fill="#3f638e" opacity="0.15"/>
<rect x="476.87" y="161.23" width="0.92" height="0.92" fill="#3f638e" opacity="0.19"/>
<rect x="531.81" y="214.09" width="0.89" height="0.89" fill="#3f638e" opacity="0.39"/>
<rect x="575.00" y="127.00" width="0.83" height="0.83" fill="#3f638e" opacity="0.39"/>
<rect x="566.20" y="185.34" width="0.90" height="0.90" fill="#3f638e" opacity="0.31"/>
<rect x="561.02" y="172.72" width="1.09" height="1.09" fill="#3f638e" opacity="0.23"/>
<rect x="463.58" y="39.83" width="0.85" height="0.85" fill="#3f638e" opacity="0.32"/>
<rect x="451.15" y="96.11" width="0.88" height="0.88" fill="#3f638e" opacity="0.24"/>
<rect x="620.23" y="125.90" width="0.93" height="0.93" fill="#3f638e" opacity="0.3"/>
<rect x="469.57" y="192.50" width="0.92" height="0.92" fill="#3f638e" opacity="0.22"/>
<rect x="448.58" y="13.59" width="0.81" height="0.81" fill="#3f638e" opacity="0.35"/>
<rect x="618.93" y="71.89" width="0.81" height="0.81" fill="#3f638e" opacity="0.28"/>
<rect x="414.43" y="93.80" width="1.01" height="1.01" fill="#3f638e" opacity="0.21"/>
<rect x="407.29" y="108.33" width="0.83" height="0.83" fill="#3f638e" opacity="0.23"/>
<rect x="509.17" y="28.63" width="0.91" height="0.91" fill="#3f638e" opacity="0.18"/>
<rect x="586.21" y="45.02" width="0.96" height="0.96" fill="#3f638e" opacity="0.16"/>
<rect x="448.30" y="140.45" width="0.97" height="0.97" fill="#3f638e" opacity="0.21"/>
<rect x="588.58" y="40.15" width="1.08" height="1.08" fill="#3f638e" opacity="0.37"/>
<rect x="409.58" y="99.76" width="0.82" height="0.82" fill="#3f638e" opacity="0.37"/>
<rect x="576.03" y="59.42" width="0.86" height="0.86" fill="#3f638e" opacity="0.16"/>
<rect x="591.55" y="94.12" width="0.99" height="0.99" fill="#3f638e" opacity="0.27"/>
<rect x="588.16" y="155.28" width="0.88" height="0.88" fill="#3f638e" opacity="0.24"/>
<rect x="473.46" y="89.39" width="1.07" height="1.07" fill="#3f638e" opacity="0.17"/>
<rect x="420.91" y="115.67" width="1.00" height="1.00" fill="#3f638e" opacity="0.2"/>
<rect x="467.16" y="218.85" width="0.81" height="0.81" fill="#3f638e" opacity="0.27"/>
<rect x="560.93" y="83.57" width="0.85" height="0.85" fill="#3f638e" opacity="0.18"/>
<rect x="617.99" y="109.61" width="0.92" height="0.92" fill="#3f638e" opacity="0.32"/>
<rect x="571.69" y="112.84" width="0.82" height="0.82" fill="#3f638e" opacity="0.36"/>
<rect x="454.30" y="222.97" width="0.91" height="0.91" fill="#3f638e" opacity="0.28"/>
<rect x="548.86" y="192.51" width="1.01" height="1.01" fill="#3f638e" opacity="0.27"/>
<rect x="442.43" y="38.47" width="1.04" height="1.04" fill="#3f638e" opacity="0.38"/>
<rect x="560.55" y="182.66" width="1.03" height="1.03" fill="#3f638e" opacity="0.38"/>
<rect x="527.15" y="25.35" width="1.09" height="1.09" fill="#3f638e" opacity="0.25"/>
<rect x="620.43" y="18.94" width="1.04" height="1.04" fill="#3f638e" opacity="0.15"/>
<rect x="485.81" y="92.51" width="0.98" height="0.98" fill="#3f638e" opacity="0.34"/>
<rect x="553.08" y="195.34" width="1.08" height="1.08" fill="#3f638e" opacity="0.28"/>
<rect x="606.67" y="185.01" width="1.10" height="1.10" fill="#3f638e" opacity="0.29"/>
<rect x="582.47" y="63.71" width="1.06" height="1.06" fill="#3f638e" opacity="0.24"/>
<rect x="424.45" y="139.91" width="0.85" height="0.85" fill="#3f638e" opacity="0.28"/>
<rect x="591.57" y="149.78" width="0.84" height="0.84" fill="#3f638e" opacity="0.16"/>
<rect x="502.11" y="100.14" width="0.81" height="0.81" fill="#3f638e" opacity="0.32"/>
<rect x="453.57" y="207.73" width="1.08" height="1.08" fill="#3f638e" opacity="0.28"/>
<rect x="609.86" y="115.26" width="0.84" height="0.84" fill="#3f638e" opacity="0.21"/>
<rect x="502.30" y="86.28" width="1.03" height="1.03" fill="#3f638e" opacity="0.34"/>
<rect x="554.05" y="174.60" width="0.93" height="0.93" fill="#3f638e" opacity="0.24"/>
<rect x="517.24" y="171.73" width="0.96" height="0.96" fill="#3f638e" opacity="0.26"/>
<rect x="413.60" y="44.88" width="0.98" height="0.98" fill="#3f638e" opacity="0.35"/>
<rect x="573.54" y="65.77" width="1.10" height="1.10" fill="#3f638e" opacity="0.24"/>
<rect x="495.32" y="231.28" width="1.00" height="1.00" fill="#3f638e" opacity="0.3"/>
<rect x="537.12" y="5.18" width="0.86" height="0.86" fill="#3f638e" opacity="0.21"/>
<rect x="573.07" y="47.29" width="0.94" height="0.94" fill="#3f638e" opacity="0.16"/>
<rect x="490.05" y="44.11" width="0.95" height="0.95" fill="#3f638e" opacity="0.27"/>
<rect x="494.38" y="89.12" width="0.98" height="0.98" fill="#3f638e" opacity="0.32"/>
<rect x="603.02" y="61.21" width="0.91" height="0.91" fill="#3f638e" opacity="0.21"/>
<rect x="583.90" y="51.65" width="1.08" height="1.08" fill="#3f638e" opacity="0.2"/>
<rect x="599.05" y="29.55" width="0.82" height="0.82" fill="#3f638e" opacity="0.23"/>
<rect x="550.09" y="198.84" width="1.05" height="1.05" fill="#3f638e" opacity="0.22"/>
<rect x="561.29" y="164.88" width="0.87" height="0.87" fill="#3f638e" opacity="0.2"/>
<rect x="519.11" y="69.94" width="0.87" height="0.87" fill="#3f638e" opacity="0.32"/>
<rect x="482.01" y="84.43" width="0.91" height="0.91" fill="#3f638e" opacity="0.2"/>
<rect x="437.66" y="218.98" width="1.01" height="1.01" fill="#3f638e" opacity="0.25"/>
<rect x="433.61" y="31.75" width="1.00" height="1.00" fill="#3f638e" opacity="0.16"/>
<rect x="570.93" y="96.85" width="0.93" height="0.93" fill="#3f638e" opacity="0.28"/>
<rect x="625.11" y="147.05" width="0.99" height="0.99" fill="#3f638e" opacity="0.31"/>
<rect x="488.94" y="153.29" width="1.03" height="1.03" fill="#3f638e" opacity="0.31"/>
<rect x="509.83" y="115.28" width="0.87" height="0.87" fill="#3f638e" opacity="0.35"/>
<rect x="410.04" y="85.80" width="0.94" height="0.94" fill="#3f638e" opacity="0.21"/>
<rect x="539.50" y="99.54" width="0.83" height="0.83" fill="#3f638e" opacity="0.27"/>
<rect x="443.20" y="50.34" width="0.90" height="0.90" fill="#3f638e" opacity="0.23"/>
<rect x="454.71" y="221.25" width="0.86" height="0.86" fill="#3f638e" opacity="0.19"/>
<rect x="548.01" y="39.38" width="0.87" height="0.87" fill="#3f638e" opacity="0.18"/>
<rect x="527.51" y="205.86" width="0.92" height="0.92" fill="#3f638e" opacity="0.34"/>
<rect x="451.86" y="72.94" width="0.96" height="0.96" fill="#3f638e" opacity="0.17"/>
<rect x="460.92" y="95.82" width="0.83" height="0.83" fill="#3f638e" opacity="0.2"/>
<rect x="537.14" y="45.99" width="0.96" height="0.96" fill="#3f638e" opacity="0.32"/>
<rect x="407.60" y="163.32" width="0.90" height="0.90" fill="#3f638e" opacity="0.38"/>
<rect x="487.17" y="53.63" width="0.81" height="0.81" fill="#3f638e" opacity="0.27"/>
<rect x="608.96" y="56.62" width="0.97" height="0.97" fill="#3f638e" opacity="0.2"/>
<rect x="616.84" y="213.93" width="1.09" height="1.09" fill="#3f638e" opacity="0.34"/>
<rect x="569.82" y="111.45" width="0.85" height="0.85" fill="#3f638e" opacity="0.24"/>
<rect x="557.06" y="82.90" width="0.92" height="0.92" fill="#3f638e" opacity="0.35"/>
<rect x="417.75" y="166.85" width="0.83" height="0.83" fill="#3f638e" opacity="0.23"/>
<rect x="586.54" y="60.75" width="0.84" height="0.84" fill="#3f638e" opacity="0.23"/>
<rect x="431.10" y="81.54" width="0.93" height="0.93" fill="#3f638e" opacity="0.21"/>
<rect x="490.92" y="35.28" width="0.93" height="0.93" fill="#3f638e" opacity="0.32"/>
<rect x="548.77" y="124.37" width="0.97" height="0.97" fill="#3f638e" opacity="0.24"/>
<rect x="450.81" y="119.67" width="0.89" height="0.89" fill="#3f638e" opacity="0.23"/>
<rect x="448.09" y="24.32" width="0.93" height="0.93" fill="#3f638e" opacity="0.2"/>
<rect x="412.68" y="183.35" width="1.06" height="1.06" fill="#3f638e" opacity="0.23"/>
<rect x="557.73" y="179.68" width="1.00" height="1.00" fill="#3f638e" opacity="0.26"/>
<rect x="573.60" y="111.92" width="0.91" height="0.91" fill="#3f638e" opacity="0.22"/>
<rect x="541.11" y="42.83" width="1.01" height="1.01" fill="#3f638e" opacity="0.27"/>
<rect x="480.43" y="29.25" width="1.05" height="1.05" fill="#3f638e" opacity="0.19"/>
<rect x="560.51" y="56.43" width="1.00" height="1.00" fill="#3f638e" opacity="0.39"/>
<rect x="606.06" y="176.09" width="1.10" height="1.10" fill="#3f638e" opacity="0.23"/>
<rect x="492.24" y="10.02" width="0.85" height="0.85" fill="#3f638e" opacity="0.25"/>
<rect x="548.40" y="170.09" width="0.88" height="0.88" fill="#3f638e" opacity="0.35"/>
<rect x="545.26" y="62.84" width="1.04" height="1.04" fill="#3f638e" opacity="0.37"/>
<rect x="609.39" y="44.72" width="1.09" height="1.09" fill="#3f638e" opacity="0.27"/>
<rect x="565.57" y="115.15" width="1.09" height="1.09" fill="#3f638e" opacity="0.31"/>
<line x1="448.50" y1="58.94" x2="448.50" y2="4.40" stroke="#40598d" stroke-width="0.9" opacity="0.68"/>
<line x1="476.50" y1="58.94" x2="476.50" y2="4.40" stroke="#40598d" stroke-width="0.9" opacity="0.68"/>
<line x1="523.50" y1="58.94" x2="523.50" y2="4.40" stroke="#40598d" stroke-width="0.9" opacity="0.68"/>
<line x1="527.50" y1="58.94" x2="527.50" y2="4.40" stroke="#40598d" stroke-width="0.9" opacity="0.34"/>
<line x1="536.50" y1="58.94" x2="536.50" y2="4.40" stroke="#40598d" stroke-width="0.9" opacity="0.34"/>
<line x1="539.50" y1="58.94" x2="539.50" y2="4.40" stroke="#40598d" stroke-width="0.9" opacity="0.68"/>
<line x1="547.50" y1="58.94" x2="547.50" y2="4.40" stroke="#40598d" stroke-width="0.9" opacity="0.68"/>
<line x1="559.50" y1="58.94" x2="559.50" y2="4.40" stroke="#40598d" stroke-width="0.9" opacity="0.68"/>
<line x1="582.50" y1="58.94" x2="582.50" y2="4.40" stroke="#40598d" stroke-width="0.9" opacity="0.30600000000000005"/>
<line x1="584.50" y1="58.94" x2="584.50" y2="4.40" stroke="#40598d" stroke-width="0.9" opacity="0.30600000000000005"/>
<line x1="588.50" y1="58.94" x2="588.50" y2="4.40" stroke="#40598d" stroke-width="0.9" opacity="0.68"/>
<line x1="601.50" y1="58.94" x2="601.50" y2="4.40" stroke="#40598d" stroke-width="0.9" opacity="0.68"/>
<line x1="621.50" y1="58.94" x2="621.50" y2="4.40" stroke="#40598d" stroke-width="0.9" opacity="0.544"/>
<line x1="572.50" y1="233.30" x2="572.50" y2="58.94" stroke="#3f638e" stroke-width="0.9" opacity="0.8"/>
<line x1="572.50" y1="58.94" x2="572.50" y2="4.40" stroke="#3e708f" stroke-width="0.9" opacity="0.85"/>
<line x1="573.50" y1="233.30" x2="573.50" y2="4.40" stroke="#41578d" stroke-width="0.9" opacity="0.6"/>
<line x1="574.50" y1="63.41" x2="574.50" y2="4.40" stroke="#40598d" stroke-width="0.9" opacity="0.6"/>
<line x1="405.30" y1="13.50" x2="634.90" y2="13.50" stroke="#405c8e" stroke-width="0.8" opacity="0.6" stroke-dasharray="11.21 1.54" stroke-dashoffset="3.59"/>
<line x1="405.30" y1="18.50" x2="634.90" y2="18.50" stroke="#41578d" stroke-width="1.3" opacity="0.75" stroke-dasharray="8.74 4.01" stroke-dashoffset="1.35"/>
<line x1="405.30" y1="23.50" x2="634.90" y2="23.50" stroke="#3f758f" stroke-width="1.1" opacity="0.9" stroke-dasharray="9.19 3.56" stroke-dashoffset="-0.90"/>
<line x1="405.30" y1="34.50" x2="634.90" y2="34.50" stroke="#405e8e" stroke-width="0.9" opacity="0.75" stroke-dasharray="8.30 4.46" stroke-dashoffset="-3.59"/>
<line x1="405.30" y1="55.50" x2="634.90" y2="55.50" stroke="#3f618e" stroke-width="1.0" opacity="0.8" stroke-dasharray="9.19 3.56" stroke-dashoffset="1.79"/>
<line x1="405.30" y1="123.50" x2="634.90" y2="123.50" stroke="#43498a" stroke-width="0.9" opacity="0.65" stroke-dasharray="9.19 3.56" stroke-dashoffset="-2.69"/>
<line x1="405.30" y1="131.90" x2="634.90" y2="131.90" stroke="#444589" stroke-width="1.2" opacity="0.55" stroke-dasharray="2.3 0.7 4.7 0.7 5.8 1.3 5.0 1.0 5.3 0.7 4.4 0.9 4.0 1.5 2.9 1.3 5.1 0.6 6.0 0.9 4.2 0.8 4.2 1.5 3.4 1.2 5.1 1.4 4.8 0.9 3.4 0.9 3.5 1.4 5.3 0.7 3.1 0.5 5.7 0.6 3.6 0.7 2.8 1.4 3.7 1.1 5.3 1.0 5.3 1.3 4.4 1.1 5.5 1.2 3.4 1.4 5.3 1.5 4.7 0.9 3.4 1.1 2.7 1.2 4.8 1.4 2.9 1.1 4.2 1.1 3.6 0.5 5.7 1.4 2.6 1.4 4.4 0.5 4.5 0.8"/>
<line x1="405.30" y1="153.36" x2="634.90" y2="153.36" stroke="#453f86" stroke-width="1.0" opacity="0.5" stroke-dasharray="3.7 1.3 4.2 1.4 5.2 2.0 4.7 1.7 4.3 1.2 5.4 2.0 4.3 1.4 2.2 1.8 4.6 1.5 2.7 1.4 4.4 0.7 3.6 1.6 5.1 1.6 4.7 1.9 5.2 0.6 3.4 0.6 5.6 1.5 2.9 0.8 2.9 1.4 3.9 0.5 4.6 0.9 3.1 2.0 5.6 1.8 5.6 1.4 2.2 1.1 4.4 1.9 3.3 0.6 5.8 1.6 5.4 1.2 3.2 1.0 2.6 1.1 4.2 1.9 5.9 1.2 2.9 1.9 2.0 0.6 4.7 1.4 5.9 1.5 5.2 1.8 5.8 1.8 4.0 1.5"/>
<line x1="405.30" y1="156.54" x2="634.90" y2="156.54" stroke="#463983" stroke-width="1.4" opacity="0.5" stroke-dasharray="7.17 5.58" stroke-dashoffset="-5.38"/>
<line x1="405.30" y1="168.50" x2="634.90" y2="168.50" stroke="#463380" stroke-width="0.9" opacity="0.5" stroke-dasharray="9.42 3.34" stroke-dashoffset="0.90"/>
<line x1="405.30" y1="186.50" x2="634.90" y2="186.50" stroke="#462f7d" stroke-width="0.9" opacity="0.45" stroke-dasharray="7.17 5.58" stroke-dashoffset="-3.59"/>
<line x1="405.30" y1="232.50" x2="634.90" y2="232.50" stroke="#453f86" stroke-width="0.9" opacity="0.5" stroke-dasharray="8.97 3.78" stroke-dashoffset="-0.90"/>
<rect x="414.42" y="13.06" width="1.00" height="1.00" fill="#a0de41" opacity="0.5"/>
<rect x="427.17" y="13.06" width="1.00" height="1.00" fill="#a0de41" opacity="0.5"/>
<rect x="439.93" y="13.06" width="1.00" height="1.00" fill="#a0de41" opacity="0.5"/>
<rect x="452.68" y="13.06" width="1.00" height="1.00" fill="#a0de41" opacity="0.5"/>
<rect x="465.44" y="13.06" width="1.00" height="1.00" fill="#a0de41" opacity="0.5"/>
<rect x="478.19" y="13.06" width="1.00" height="1.00" fill="#a0de41" opacity="0.5"/>
<rect x="490.95" y="13.06" width="1.00" height="1.00" fill="#a0de41" opacity="0.5"/>
<rect x="503.71" y="13.06" width="1.00" height="1.00" fill="#a0de41" opacity="0.5"/>
<rect x="516.46" y="13.06" width="1.00" height="1.00" fill="#a0de41" opacity="0.5"/>
<rect x="529.22" y="13.06" width="1.00" height="1.00" fill="#a0de41" opacity="0.5"/>
<rect x="541.97" y="13.06" width="1.00" height="1.00" fill="#a0de41" opacity="0.5"/>
<rect x="554.73" y="13.06" width="1.00" height="1.00" fill="#a0de41" opacity="0.5"/>
<rect x="567.48" y="13.06" width="1.00" height="1.00" fill="#a0de41" opacity="0.5"/>
<rect x="580.24" y="13.06" width="1.00" height="1.00" fill="#a0de41" opacity="0.5"/>
<rect x="592.99" y="13.06" width="1.00" height="1.00" fill="#a0de41" opacity="0.5"/>
<rect x="605.75" y="13.06" width="1.00" height="1.00" fill="#a0de41" opacity="0.5"/>
<rect x="618.51" y="13.06" width="1.00" height="1.00" fill="#a0de41" opacity="0.5"/>
<rect x="631.26" y="13.06" width="1.00" height="1.00" fill="#a0de41" opacity="0.5"/>
<rect x="416.66" y="18.21" width="1.00" height="1.00" fill="#a0de41" opacity="0.35"/>
<rect x="429.41" y="18.21" width="1.00" height="1.00" fill="#a0de41" opacity="0.35"/>
<rect x="442.17" y="18.21" width="1.00" height="1.00" fill="#a0de41" opacity="0.35"/>
<rect x="454.93" y="18.21" width="1.00" height="1.00" fill="#a0de41" opacity="0.35"/>
<rect x="467.68" y="18.21" width="1.00" height="1.00" fill="#a0de41" opacity="0.35"/>
<rect x="480.44" y="18.21" width="1.00" height="1.00" fill="#a0de41" opacity="0.35"/>
<rect x="493.19" y="18.21" width="1.00" height="1.00" fill="#a0de41" opacity="0.35"/>
<rect x="505.95" y="18.21" width="1.00" height="1.00" fill="#a0de41" opacity="0.35"/>
<rect x="518.70" y="18.21" width="1.00" height="1.00" fill="#a0de41" opacity="0.35"/>
<rect x="531.46" y="18.21" width="1.00" height="1.00" fill="#a0de41" opacity="0.35"/>
<rect x="544.21" y="18.21" width="1.00" height="1.00" fill="#a0de41" opacity="0.35"/>
<rect x="556.97" y="18.21" width="1.00" height="1.00" fill="#a0de41" opacity="0.35"/>
<rect x="569.73" y="18.21" width="1.00" height="1.00" fill="#a0de41" opacity="0.35"/>
<rect x="582.48" y="18.21" width="1.00" height="1.00" fill="#a0de41" opacity="0.35"/>
<rect x="595.24" y="18.21" width="1.00" height="1.00" fill="#a0de41" opacity="0.35"/>
<rect x="607.99" y="18.21" width="1.00" height="1.00" fill="#a0de41" opacity="0.35"/>
<rect x="620.75" y="18.21" width="1.00" height="1.00" fill="#a0de41" opacity="0.35"/>
<rect x="633.50" y="18.21" width="1.00" height="1.00" fill="#a0de41" opacity="0.35"/>
<rect x="406.15" y="22.90" width="1.00" height="1.00" fill="#a0de41" opacity="0.6"/>
<rect x="418.90" y="22.90" width="1.00" height="1.00" fill="#a0de41" opacity="0.6"/>
<rect x="431.66" y="22.90" width="1.00" height="1.00" fill="#a0de41" opacity="0.6"/>
<rect x="444.41" y="22.90" width="1.00" height="1.00" fill="#a0de41" opacity="0.6"/>
<rect x="457.17" y="22.90" width="1.00" height="1.00" fill="#a0de41" opacity="0.6"/>
<rect x="469.92" y="22.90" width="1.00" height="1.00" fill="#a0de41" opacity="0.6"/>
<rect x="482.68" y="22.90" width="1.00" height="1.00" fill="#a0de41" opacity="0.6"/>
<rect x="495.43" y="22.90" width="1.00" height="1.00" fill="#a0de41" opacity="0.6"/>
<rect x="508.19" y="22.90" width="1.00" height="1.00" fill="#a0de41" opacity="0.6"/>
<rect x="520.95" y="22.90" width="1.00" height="1.00" fill="#a0de41" opacity="0.6"/>
<rect x="533.70" y="22.90" width="1.00" height="1.00" fill="#a0de41" opacity="0.6"/>
<rect x="546.46" y="22.90" width="1.00" height="1.00" fill="#a0de41" opacity="0.6"/>
<rect x="559.21" y="22.90" width="1.00" height="1.00" fill="#a0de41" opacity="0.6"/>
<rect x="571.97" y="22.90" width="1.00" height="1.00" fill="#a0de41" opacity="0.6"/>
<rect x="584.72" y="22.90" width="1.00" height="1.00" fill="#a0de41" opacity="0.6"/>
<rect x="597.48" y="22.90" width="1.00" height="1.00" fill="#a0de41" opacity="0.6"/>
<rect x="610.23" y="22.90" width="1.00" height="1.00" fill="#a0de41" opacity="0.6"/>
<rect x="622.99" y="22.90" width="1.00" height="1.00" fill="#a0de41" opacity="0.6"/>
<rect x="408.84" y="33.63" width="1.00" height="1.00" fill="#a0de41" opacity="0.4"/>
<rect x="421.59" y="33.63" width="1.00" height="1.00" fill="#a0de41" opacity="0.4"/>
<rect x="434.35" y="33.63" width="1.00" height="1.00" fill="#a0de41" opacity="0.4"/>
<rect x="447.10" y="33.63" width="1.00" height="1.00" fill="#a0de41" opacity="0.4"/>
<rect x="459.86" y="33.63" width="1.00" height="1.00" fill="#a0de41" opacity="0.4"/>
<rect x="472.61" y="33.63" width="1.00" height="1.00" fill="#a0de41" opacity="0.4"/>
<rect x="485.37" y="33.63" width="1.00" height="1.00" fill="#a0de41" opacity="0.4"/>
<rect x="498.12" y="33.63" width="1.00" height="1.00" fill="#a0de41" opacity="0.4"/>
<rect x="510.88" y="33.63" width="1.00" height="1.00" fill="#a0de41" opacity="0.4"/>
<rect x="523.64" y="33.63" width="1.00" height="1.00" fill="#a0de41" opacity="0.4"/>
<rect x="536.39" y="33.63" width="1.00" height="1.00" fill="#a0de41" opacity="0.4"/>
<rect x="549.15" y="33.63" width="1.00" height="1.00" fill="#a0de41" opacity="0.4"/>
<rect x="561.90" y="33.63" width="1.00" height="1.00" fill="#a0de41" opacity="0.4"/>
<rect x="574.66" y="33.63" width="1.00" height="1.00" fill="#a0de41" opacity="0.4"/>
<rect x="587.41" y="33.63" width="1.00" height="1.00" fill="#a0de41" opacity="0.4"/>
<rect x="600.17" y="33.63" width="1.00" height="1.00" fill="#a0de41" opacity="0.4"/>
<rect x="612.92" y="33.63" width="1.00" height="1.00" fill="#a0de41" opacity="0.4"/>
<rect x="625.68" y="33.63" width="1.00" height="1.00" fill="#a0de41" opacity="0.4"/>
<rect x="416.21" y="55.09" width="1.00" height="1.00" fill="#a0de41" opacity="0.45"/>
<rect x="428.97" y="55.09" width="1.00" height="1.00" fill="#a0de41" opacity="0.45"/>
<rect x="441.72" y="55.09" width="1.00" height="1.00" fill="#a0de41" opacity="0.45"/>
<rect x="454.48" y="55.09" width="1.00" height="1.00" fill="#a0de41" opacity="0.45"/>
<rect x="467.23" y="55.09" width="1.00" height="1.00" fill="#a0de41" opacity="0.45"/>
<rect x="479.99" y="55.09" width="1.00" height="1.00" fill="#a0de41" opacity="0.45"/>
<rect x="492.74" y="55.09" width="1.00" height="1.00" fill="#a0de41" opacity="0.45"/>
<rect x="505.50" y="55.09" width="1.00" height="1.00" fill="#a0de41" opacity="0.45"/>
<rect x="518.25" y="55.09" width="1.00" height="1.00" fill="#a0de41" opacity="0.45"/>
<rect x="531.01" y="55.09" width="1.00" height="1.00" fill="#a0de41" opacity="0.45"/>
<rect x="543.77" y="55.09" width="1.00" height="1.00" fill="#a0de41" opacity="0.45"/>
<rect x="556.52" y="55.09" width="1.00" height="1.00" fill="#a0de41" opacity="0.45"/>
<rect x="569.28" y="55.09" width="1.00" height="1.00" fill="#a0de41" opacity="0.45"/>
<rect x="582.03" y="55.09" width="1.00" height="1.00" fill="#a0de41" opacity="0.45"/>
<rect x="594.79" y="55.09" width="1.00" height="1.00" fill="#a0de41" opacity="0.45"/>
<rect x="607.54" y="55.09" width="1.00" height="1.00" fill="#a0de41" opacity="0.45"/>
<rect x="620.30" y="55.09" width="1.00" height="1.00" fill="#a0de41" opacity="0.45"/>
<rect x="633.05" y="55.09" width="1.00" height="1.00" fill="#a0de41" opacity="0.45"/>
</g>
<rect x="405.30" y="4.40" width="229.60" height="228.90" fill="none" stroke="#222" stroke-width="0.9"/>
<line x1="405.52" y1="233.30" x2="405.52" y2="236.90" stroke="#222" stroke-width="0.9"/>
<line x1="401.70" y1="233.08" x2="405.30" y2="233.08" stroke="#222" stroke-width="0.9"/>
<text x="405.52" y="249.30" font-size="10.5" text-anchor="middle" fill="#1a1a1a" textLength="6.08" lengthAdjust="spacingAndGlyphs">0</text>
<text x="397.70" y="237.54" font-size="10.5" text-anchor="end" fill="#1a1a1a" textLength="6.08" lengthAdjust="spacingAndGlyphs">0</text>
<line x1="450.37" y1="233.30" x2="450.37" y2="236.90" stroke="#222" stroke-width="0.9"/>
<line x1="401.70" y1="188.37" x2="405.30" y2="188.37" stroke="#222" stroke-width="0.9"/>
<text x="450.37" y="249.30" font-size="10.5" text-anchor="middle" fill="#1a1a1a" textLength="18.24" lengthAdjust="spacingAndGlyphs">100</text>
<text x="397.70" y="192.83" font-size="10.5" text-anchor="end" fill="#1a1a1a" textLength="18.24" lengthAdjust="spacingAndGlyphs">100</text>
<line x1="495.21" y1="233.30" x2="495.21" y2="236.90" stroke="#222" stroke-width="0.9"/>
<line x1="401.70" y1="143.66" x2="405.30" y2="143.66" stroke="#222" stroke-width="0.9"/>
<text x="495.21" y="249.30" font-size="10.5" text-anchor="middle" fill="#1a1a1a" textLength="18.24" lengthAdjust="spacingAndGlyphs">200</text>
<text x="397.70" y="148.12" font-size="10.5" text-anchor="end" fill="#1a1a1a" textLength="18.24" lengthAdjust="spacingAndGlyphs">200</text>
<line x1="540.06" y1="233.30" x2="540.06" y2="236.90" stroke="#222" stroke-width="0.9"/>
<line x1="401.70" y1="98.96" x2="405.30" y2="98.96" stroke="#222" stroke-width="0.9"/>
<text x="540.06" y="249.30" font-size="10.5" text-anchor="middle" fill="#1a1a1a" textLength="18.24" lengthAdjust="spacingAndGlyphs">300</text>
<text x="397.70" y="103.41" font-size="10.5" text-anchor="end" fill="#1a1a1a" textLength="18.24" lengthAdjust="spacingAndGlyphs">300</text>
<line x1="584.90" y1="233.30" x2="584.90" y2="236.90" stroke="#222" stroke-width="0.9"/>
<line x1="401.70" y1="54.25" x2="405.30" y2="54.25" stroke="#222" stroke-width="0.9"/>
<text x="584.90" y="249.30" font-size="10.5" text-anchor="middle" fill="#1a1a1a" textLength="18.24" lengthAdjust="spacingAndGlyphs">400</text>
<text x="397.70" y="58.71" font-size="10.5" text-anchor="end" fill="#1a1a1a" textLength="18.24" lengthAdjust="spacingAndGlyphs">400</text>
<line x1="629.74" y1="233.30" x2="629.74" y2="236.90" stroke="#222" stroke-width="0.9"/>
<line x1="401.70" y1="9.54" x2="405.30" y2="9.54" stroke="#222" stroke-width="0.9"/>
<text x="629.74" y="249.30" font-size="10.5" text-anchor="middle" fill="#1a1a1a" textLength="18.24" lengthAdjust="spacingAndGlyphs">500</text>
<text x="397.70" y="14.00" font-size="10.5" text-anchor="end" fill="#1a1a1a" textLength="18.24" lengthAdjust="spacingAndGlyphs">500</text>
<text x="520.00" y="263.50" font-size="11.0" text-anchor="middle" fill="#1a1a1a" textLength="41.00" lengthAdjust="spacingAndGlyphs">Time [s]</text>
<text x="372.20" y="119.20" font-size="11.0" text-anchor="middle" fill="#1a1a1a" textLength="77.30" lengthAdjust="spacingAndGlyphs" transform="rotate(-90 372.20 119.20)">Frequency Bins</text>
<text x="367.80" y="248.10" font-size="18" text-anchor="start" fill="#111" font-weight="bold">b</text>
<rect x="648.80" y="5.40" width="12.10" height="227.20" fill="url(#vir)" stroke="#222" stroke-width="0.9"/>
<line x1="660.90" y1="232.60" x2="664.50" y2="232.60" stroke="#222" stroke-width="0.9"/>
<text x="668.10" y="236.90" font-size="10.6" text-anchor="start" fill="#1a1a1a" textLength="15.90" lengthAdjust="spacingAndGlyphs">0.0</text>
<line x1="660.90" y1="187.16" x2="664.50" y2="187.16" stroke="#222" stroke-width="0.9"/>
<text x="668.10" y="191.46" font-size="10.6" text-anchor="start" fill="#1a1a1a" textLength="15.90" lengthAdjust="spacingAndGlyphs">0.2</text>
<line x1="660.90" y1="141.72" x2="664.50" y2="141.72" stroke="#222" stroke-width="0.9"/>
<text x="668.10" y="146.02" font-size="10.6" text-anchor="start" fill="#1a1a1a" textLength="15.90" lengthAdjust="spacingAndGlyphs">0.4</text>
<line x1="660.90" y1="96.28" x2="664.50" y2="96.28" stroke="#222" stroke-width="0.9"/>
<text x="668.10" y="100.58" font-size="10.6" text-anchor="start" fill="#1a1a1a" textLength="15.90" lengthAdjust="spacingAndGlyphs">0.6</text>
<line x1="660.90" y1="50.84" x2="664.50" y2="50.84" stroke="#222" stroke-width="0.9"/>
<text x="668.10" y="55.14" font-size="10.6" text-anchor="start" fill="#1a1a1a" textLength="15.90" lengthAdjust="spacingAndGlyphs">0.8</text>
<line x1="660.90" y1="5.40" x2="664.50" y2="5.40" stroke="#222" stroke-width="0.9"/>
<text x="668.10" y="9.70" font-size="10.6" text-anchor="start" fill="#1a1a1a" textLength="15.90" lengthAdjust="spacingAndGlyphs">1.0</text>
</g>
<g id="pe">
<rect x="46.80" y="573.10" width="224.00" height="223.20" fill="#410a59"/>
<clipPath id="clipe"><rect x="46.80" y="573.10" width="224.00" height="223.20"/></clipPath>
<g clip-path="url(#clipe)">
<rect x="49.74" y="770.26" width="0.89" height="0.89" fill="#f3e52c" opacity="0.49"/>
<rect x="77.92" y="770.28" width="0.84" height="0.84" fill="#f3e52c" opacity="0.52"/>
<rect x="79.79" y="630.81" width="0.99" height="0.99" fill="#f3e52c" opacity="0.3"/>
<rect x="166.29" y="695.84" width="0.90" height="0.90" fill="#f3e52c" opacity="0.6"/>
<rect x="67.65" y="790.59" width="1.08" height="1.08" fill="#f3e52c" opacity="0.39"/>
<rect x="91.22" y="721.91" width="0.88" height="0.88" fill="#f3e52c" opacity="0.58"/>
<rect x="93.82" y="747.03" width="0.96" height="0.96" fill="#f3e52c" opacity="0.44"/>
<rect x="259.40" y="609.11" width="0.88" height="0.88" fill="#f3e52c" opacity="0.32"/>
<rect x="233.33" y="575.81" width="0.77" height="0.77" fill="#f3e52c" opacity="0.51"/>
<rect x="240.41" y="650.74" width="0.83" height="0.83" fill="#f3e52c" opacity="0.53"/>
<rect x="209.49" y="752.15" width="0.98" height="0.98" fill="#f3e52c" opacity="0.33"/>
<rect x="56.24" y="720.65" width="0.87" height="0.87" fill="#f3e52c" opacity="0.39"/>
<rect x="190.94" y="609.56" width="1.09" height="1.09" fill="#f3e52c" opacity="0.59"/>
<rect x="268.27" y="619.95" width="0.86" height="0.86" fill="#f3e52c" opacity="0.31"/>
<rect x="185.86" y="674.04" width="0.99" height="0.99" fill="#f3e52c" opacity="0.28"/>
<rect x="89.91" y="590.80" width="0.96" height="0.96" fill="#f3e52c" opacity="0.49"/>
<rect x="68.22" y="706.54" width="1.07" height="1.07" fill="#f3e52c" opacity="0.48"/>
<rect x="267.83" y="751.50" width="0.91" height="0.91" fill="#f3e52c" opacity="0.53"/>
<rect x="146.00" y="620.12" width="0.95" height="0.95" fill="#f3e52c" opacity="0.29"/>
<rect x="69.07" y="577.13" width="0.80" height="0.80" fill="#f3e52c" opacity="0.32"/>
<rect x="121.58" y="636.81" width="1.05" height="1.05" fill="#f3e52c" opacity="0.42"/>
<rect x="157.96" y="620.27" width="0.85" height="0.85" fill="#f3e52c" opacity="0.38"/>
<rect x="183.52" y="654.09" width="0.77" height="0.77" fill="#f3e52c" opacity="0.29"/>
<rect x="77.67" y="634.25" width="1.00" height="1.00" fill="#f3e52c" opacity="0.59"/>
<rect x="217.87" y="738.61" width="1.02" height="1.02" fill="#f3e52c" opacity="0.59"/>
<rect x="124.66" y="792.72" width="0.89" height="0.89" fill="#f3e52c" opacity="0.35"/>
<rect x="86.27" y="785.24" width="0.80" height="0.80" fill="#f3e52c" opacity="0.55"/>
<rect x="58.17" y="659.00" width="0.83" height="0.83" fill="#f3e52c" opacity="0.32"/>
<rect x="229.81" y="728.95" width="0.82" height="0.82" fill="#f3e52c" opacity="0.41"/>
<rect x="201.68" y="678.76" width="1.05" height="1.05" fill="#f3e52c" opacity="0.39"/>
<rect x="163.69" y="636.07" width="0.92" height="0.92" fill="#f3e52c" opacity="0.5"/>
<rect x="151.03" y="765.59" width="0.80" height="0.80" fill="#f3e52c" opacity="0.52"/>
<rect x="212.83" y="585.96" width="0.99" height="0.99" fill="#f3e52c" opacity="0.45"/>
<rect x="84.06" y="605.94" width="0.80" height="0.80" fill="#f3e52c" opacity="0.4"/>
<rect x="78.34" y="710.74" width="0.86" height="0.86" fill="#f3e52c" opacity="0.4"/>
<rect x="205.39" y="675.06" width="0.84" height="0.84" fill="#f3e52c" opacity="0.52"/>
<rect x="210.77" y="611.71" width="0.77" height="0.77" fill="#f3e52c" opacity="0.47"/>
<rect x="246.43" y="737.80" width="0.83" height="0.83" fill="#f3e52c" opacity="0.53"/>
<rect x="127.97" y="706.09" width="1.04" height="1.04" fill="#f3e52c" opacity="0.38"/>
<rect x="91.21" y="747.64" width="0.88" height="0.88" fill="#f3e52c" opacity="0.49"/>
<rect x="129.07" y="624.16" width="0.78" height="0.78" fill="#f3e52c" opacity="0.34"/>
<rect x="186.15" y="688.78" width="0.93" height="0.93" fill="#f3e52c" opacity="0.58"/>
<rect x="108.83" y="754.97" width="0.77" height="0.77" fill="#f3e52c" opacity="0.42"/>
<rect x="113.25" y="690.14" width="0.76" height="0.76" fill="#f3e52c" opacity="0.25"/>
<rect x="131.57" y="627.11" width="0.86" height="0.86" fill="#f3e52c" opacity="0.57"/>
<rect x="175.97" y="705.61" width="1.02" height="1.02" fill="#f3e52c" opacity="0.33"/>
<rect x="181.75" y="607.34" width="0.94" height="0.94" fill="#f3e52c" opacity="0.36"/>
<rect x="68.42" y="667.84" width="0.82" height="0.82" fill="#f3e52c" opacity="0.38"/>
<rect x="167.76" y="586.33" width="0.99" height="0.99" fill="#f3e52c" opacity="0.43"/>
<rect x="238.15" y="726.72" width="0.89" height="0.89" fill="#f3e52c" opacity="0.49"/>
<rect x="170.43" y="746.02" width="0.90" height="0.90" fill="#f3e52c" opacity="0.54"/>
<rect x="101.03" y="638.64" width="0.78" height="0.78" fill="#f3e52c" opacity="0.58"/>
<rect x="199.24" y="723.27" width="1.09" height="1.09" fill="#f3e52c" opacity="0.53"/>
<rect x="60.73" y="740.09" width="0.93" height="0.93" fill="#f3e52c" opacity="0.6"/>
<rect x="78.35" y="784.64" width="0.87" height="0.87" fill="#f3e52c" opacity="0.27"/>
<rect x="138.06" y="675.70" width="0.91" height="0.91" fill="#f3e52c" opacity="0.3"/>
<rect x="52.16" y="617.04" width="0.91" height="0.91" fill="#f3e52c" opacity="0.42"/>
<rect x="153.38" y="642.97" width="1.07" height="1.07" fill="#f3e52c" opacity="0.54"/>
<rect x="208.98" y="720.05" width="0.82" height="0.82" fill="#f3e52c" opacity="0.28"/>
<rect x="238.28" y="782.55" width="0.95" height="0.95" fill="#f3e52c" opacity="0.57"/>
<rect x="118.77" y="708.85" width="0.90" height="0.90" fill="#f3e52c" opacity="0.58"/>
<rect x="199.42" y="609.13" width="0.77" height="0.77" fill="#f3e52c" opacity="0.51"/>
<rect x="147.36" y="706.04" width="1.04" height="1.04" fill="#f3e52c" opacity="0.51"/>
<rect x="249.67" y="631.24" width="1.07" height="1.07" fill="#f3e52c" opacity="0.4"/>
<rect x="170.84" y="621.06" width="0.91" height="0.91" fill="#f3e52c" opacity="0.3"/>
<rect x="177.30" y="601.80" width="1.06" height="1.06" fill="#f3e52c" opacity="0.29"/>
<rect x="131.88" y="744.49" width="0.88" height="0.88" fill="#f3e52c" opacity="0.59"/>
<rect x="140.80" y="725.72" width="0.85" height="0.85" fill="#f3e52c" opacity="0.4"/>
<rect x="196.18" y="719.22" width="0.82" height="0.82" fill="#f3e52c" opacity="0.33"/>
<rect x="104.93" y="594.15" width="0.82" height="0.82" fill="#f3e52c" opacity="0.51"/>
<rect x="71.12" y="620.83" width="0.85" height="0.85" fill="#f3e52c" opacity="0.52"/>
<rect x="143.28" y="777.89" width="0.79" height="0.79" fill="#f3e52c" opacity="0.53"/>
<rect x="167.71" y="687.37" width="0.88" height="0.88" fill="#f3e52c" opacity="0.49"/>
<rect x="154.39" y="781.40" width="0.96" height="0.96" fill="#f3e52c" opacity="0.36"/>
<rect x="235.49" y="673.31" width="1.02" height="1.02" fill="#f3e52c" opacity="0.29"/>
<rect x="204.39" y="659.66" width="1.05" height="1.05" fill="#f3e52c" opacity="0.56"/>
<rect x="169.75" y="663.76" width="1.02" height="1.02" fill="#f3e52c" opacity="0.34"/>
<rect x="168.32" y="620.57" width="0.96" height="0.96" fill="#f3e52c" opacity="0.44"/>
<rect x="237.61" y="578.81" width="0.85" height="0.85" fill="#f3e52c" opacity="0.28"/>
<rect x="183.51" y="762.15" width="1.09" height="1.09" fill="#f3e52c" opacity="0.42"/>
<rect x="165.87" y="613.75" width="1.06" height="1.06" fill="#f3e52c" opacity="0.3"/>
<rect x="147.96" y="755.15" width="0.92" height="0.92" fill="#f3e52c" opacity="0.3"/>
<rect x="242.31" y="716.27" width="0.89" height="0.89" fill="#f3e52c" opacity="0.56"/>
<rect x="230.35" y="720.62" width="0.93" height="0.93" fill="#f3e52c" opacity="0.48"/>
<rect x="88.76" y="764.90" width="1.05" height="1.05" fill="#f3e52c" opacity="0.31"/>
<rect x="204.60" y="631.41" width="0.96" height="0.96" fill="#f3e52c" opacity="0.37"/>
<rect x="238.06" y="620.73" width="0.78" height="0.78" fill="#f3e52c" opacity="0.56"/>
<rect x="188.82" y="731.03" width="0.82" height="0.82" fill="#f3e52c" opacity="0.28"/>
<rect x="227.70" y="607.07" width="0.88" height="0.88" fill="#f3e52c" opacity="0.31"/>
<rect x="63.34" y="703.35" width="0.86" height="0.86" fill="#f3e52c" opacity="0.27"/>
<rect x="113.36" y="613.04" width="0.78" height="0.78" fill="#f3e52c" opacity="0.39"/>
<rect x="161.59" y="759.35" width="0.77" height="0.77" fill="#f3e52c" opacity="0.28"/>
<rect x="78.96" y="578.90" width="1.05" height="1.05" fill="#f3e52c" opacity="0.5"/>
<rect x="247.35" y="723.01" width="0.84" height="0.84" fill="#f3e52c" opacity="0.55"/>
<rect x="182.03" y="590.31" width="0.88" height="0.88" fill="#f3e52c" opacity="0.39"/>
<rect x="206.90" y="599.44" width="0.82" height="0.82" fill="#f3e52c" opacity="0.34"/>
<rect x="49.97" y="670.94" width="1.07" height="1.07" fill="#f3e52c" opacity="0.45"/>
<rect x="80.06" y="641.78" width="0.98" height="0.98" fill="#f3e52c" opacity="0.29"/>
<rect x="250.58" y="648.75" width="0.93" height="0.93" fill="#f3e52c" opacity="0.37"/>
<rect x="82.75" y="691.41" width="0.88" height="0.88" fill="#f3e52c" opacity="0.33"/>
<rect x="190.86" y="648.26" width="1.08" height="1.08" fill="#f3e52c" opacity="0.59"/>
<rect x="150.77" y="636.28" width="0.89" height="0.89" fill="#f3e52c" opacity="0.4"/>
<rect x="173.33" y="577.52" width="0.77" height="0.77" fill="#f3e52c" opacity="0.41"/>
<rect x="121.83" y="616.52" width="1.08" height="1.08" fill="#f3e52c" opacity="0.42"/>
<rect x="64.74" y="663.28" width="0.96" height="0.96" fill="#f3e52c" opacity="0.49"/>
<rect x="219.92" y="692.37" width="0.95" height="0.95" fill="#f3e52c" opacity="0.52"/>
<rect x="53.06" y="741.89" width="0.99" height="0.99" fill="#f3e52c" opacity="0.59"/>
<rect x="256.97" y="732.58" width="1.09" height="1.09" fill="#f3e52c" opacity="0.35"/>
<rect x="147.80" y="759.93" width="0.96" height="0.96" fill="#f3e52c" opacity="0.39"/>
<rect x="199.61" y="582.86" width="0.80" height="0.80" fill="#f3e52c" opacity="0.48"/>
<rect x="181.04" y="734.41" width="0.77" height="0.77" fill="#f3e52c" opacity="0.58"/>
<rect x="201.86" y="656.52" width="0.79" height="0.79" fill="#f3e52c" opacity="0.56"/>
<rect x="135.84" y="691.95" width="0.95" height="0.95" fill="#f3e52c" opacity="0.41"/>
<rect x="259.31" y="691.44" width="0.99" height="0.99" fill="#f3e52c" opacity="0.52"/>
<rect x="254.76" y="757.41" width="0.88" height="0.88" fill="#f3e52c" opacity="0.58"/>
<rect x="181.90" y="712.44" width="1.06" height="1.06" fill="#f3e52c" opacity="0.29"/>
<rect x="103.36" y="779.81" width="0.99" height="0.99" fill="#f3e52c" opacity="0.42"/>
<rect x="114.83" y="697.70" width="0.85" height="0.85" fill="#f3e52c" opacity="0.5"/>
<rect x="216.10" y="710.45" width="1.06" height="1.06" fill="#f3e52c" opacity="0.27"/>
<rect x="173.03" y="761.19" width="0.80" height="0.80" fill="#f3e52c" opacity="0.45"/>
<rect x="66.42" y="778.77" width="0.81" height="0.81" fill="#f3e52c" opacity="0.38"/>
<rect x="231.95" y="731.11" width="0.80" height="0.80" fill="#f3e52c" opacity="0.52"/>
<rect x="229.03" y="574.22" width="0.78" height="0.78" fill="#f3e52c" opacity="0.31"/>
<rect x="143.53" y="575.20" width="0.94" height="0.94" fill="#f3e52c" opacity="0.56"/>
<rect x="96.89" y="690.71" width="0.99" height="0.99" fill="#f3e52c" opacity="0.33"/>
<rect x="163.26" y="612.07" width="1.04" height="1.04" fill="#f3e52c" opacity="0.49"/>
<rect x="231.55" y="574.16" width="0.97" height="0.97" fill="#f3e52c" opacity="0.34"/>
<rect x="96.35" y="782.56" width="1.07" height="1.07" fill="#f3e52c" opacity="0.45"/>
<rect x="181.20" y="601.49" width="0.99" height="0.99" fill="#f3e52c" opacity="0.39"/>
<rect x="177.45" y="776.99" width="0.85" height="0.85" fill="#f3e52c" opacity="0.37"/>
<rect x="223.93" y="648.40" width="0.97" height="0.97" fill="#f3e52c" opacity="0.39"/>
<rect x="125.40" y="709.91" width="0.78" height="0.78" fill="#f3e52c" opacity="0.38"/>
<rect x="249.53" y="614.35" width="0.84" height="0.84" fill="#f3e52c" opacity="0.42"/>
<rect x="212.84" y="750.79" width="0.88" height="0.88" fill="#f3e52c" opacity="0.46"/>
<rect x="88.89" y="593.46" width="0.77" height="0.77" fill="#f3e52c" opacity="0.56"/>
<rect x="196.04" y="707.03" width="0.86" height="0.86" fill="#f3e52c" opacity="0.55"/>
<rect x="205.48" y="748.50" width="0.87" height="0.87" fill="#f3e52c" opacity="0.28"/>
<rect x="187.02" y="701.20" width="0.87" height="0.87" fill="#f3e52c" opacity="0.5"/>
<rect x="103.53" y="763.66" width="1.03" height="1.03" fill="#f3e52c" opacity="0.56"/>
<rect x="226.72" y="671.19" width="1.00" height="1.00" fill="#f3e52c" opacity="0.55"/>
<rect x="55.66" y="728.79" width="0.88" height="0.88" fill="#f3e52c" opacity="0.51"/>
<rect x="121.86" y="625.71" width="0.85" height="0.85" fill="#f3e52c" opacity="0.58"/>
<rect x="143.90" y="664.13" width="0.97" height="0.97" fill="#f3e52c" opacity="0.54"/>
<rect x="172.50" y="748.25" width="0.91" height="0.91" fill="#f3e52c" opacity="0.45"/>
<rect x="63.17" y="611.26" width="0.86" height="0.86" fill="#f3e52c" opacity="0.57"/>
<rect x="129.78" y="584.11" width="1.01" height="1.01" fill="#f3e52c" opacity="0.39"/>
<rect x="203.24" y="795.19" width="0.79" height="0.79" fill="#f3e52c" opacity="0.45"/>
<rect x="115.46" y="704.87" width="1.00" height="1.00" fill="#f3e52c" opacity="0.42"/>
<rect x="183.28" y="630.49" width="1.04" height="1.04" fill="#f3e52c" opacity="0.29"/>
<rect x="231.56" y="630.33" width="0.84" height="0.84" fill="#f3e52c" opacity="0.28"/>
<rect x="89.99" y="775.33" width="0.95" height="0.95" fill="#f3e52c" opacity="0.6"/>
<rect x="155.26" y="733.99" width="0.82" height="0.82" fill="#f3e52c" opacity="0.59"/>
<rect x="168.62" y="742.23" width="1.07" height="1.07" fill="#f3e52c" opacity="0.4"/>
<rect x="266.31" y="681.84" width="0.85" height="0.85" fill="#f3e52c" opacity="0.32"/>
<rect x="50.70" y="614.54" width="0.87" height="0.87" fill="#f3e52c" opacity="0.5"/>
<rect x="234.39" y="705.91" width="0.93" height="0.93" fill="#f3e52c" opacity="0.5"/>
<rect x="190.13" y="714.69" width="0.83" height="0.83" fill="#f3e52c" opacity="0.35"/>
<rect x="51.61" y="654.19" width="0.98" height="0.98" fill="#f3e52c" opacity="0.52"/>
<rect x="144.87" y="632.84" width="0.95" height="0.95" fill="#f3e52c" opacity="0.55"/>
<rect x="169.53" y="645.86" width="0.96" height="0.96" fill="#f3e52c" opacity="0.32"/>
<rect x="64.13" y="613.23" width="1.00" height="1.00" fill="#f3e52c" opacity="0.43"/>
<rect x="250.43" y="754.73" width="1.01" height="1.01" fill="#f3e52c" opacity="0.43"/>
<rect x="70.52" y="766.65" width="0.77" height="0.77" fill="#f3e52c" opacity="0.32"/>
<rect x="220.09" y="689.13" width="0.78" height="0.78" fill="#f3e52c" opacity="0.42"/>
<rect x="263.71" y="620.55" width="0.86" height="0.86" fill="#f3e52c" opacity="0.42"/>
<rect x="128.69" y="743.85" width="0.98" height="0.98" fill="#f3e52c" opacity="0.26"/>
<rect x="152.33" y="589.30" width="1.02" height="1.02" fill="#f3e52c" opacity="0.48"/>
<rect x="232.27" y="583.99" width="0.85" height="0.85" fill="#f3e52c" opacity="0.58"/>
<rect x="246.07" y="685.59" width="0.81" height="0.81" fill="#f3e52c" opacity="0.44"/>
<rect x="157.66" y="574.17" width="0.84" height="0.84" fill="#f3e52c" opacity="0.5"/>
<rect x="216.05" y="661.83" width="0.86" height="0.86" fill="#f3e52c" opacity="0.57"/>
<rect x="103.75" y="604.71" width="1.06" height="1.06" fill="#f3e52c" opacity="0.44"/>
<rect x="58.66" y="734.81" width="0.78" height="0.78" fill="#f3e52c" opacity="0.32"/>
<rect x="126.20" y="667.78" width="1.03" height="1.03" fill="#f3e52c" opacity="0.27"/>
<rect x="212.73" y="770.75" width="1.00" height="1.00" fill="#f3e52c" opacity="0.25"/>
<rect x="126.31" y="589.34" width="1.06" height="1.06" fill="#f3e52c" opacity="0.27"/>
<rect x="133.48" y="592.39" width="0.82" height="0.82" fill="#f3e52c" opacity="0.41"/>
<rect x="105.20" y="729.49" width="0.93" height="0.93" fill="#f3e52c" opacity="0.3"/>
<rect x="81.28" y="578.76" width="1.02" height="1.02" fill="#f3e52c" opacity="0.46"/>
<rect x="77.23" y="765.71" width="0.97" height="0.97" fill="#f3e52c" opacity="0.47"/>
<rect x="49.29" y="581.33" width="0.89" height="0.89" fill="#f3e52c" opacity="0.34"/>
<rect x="188.51" y="592.36" width="0.88" height="0.88" fill="#f3e52c" opacity="0.43"/>
<rect x="57.81" y="691.50" width="1.07" height="1.07" fill="#f3e52c" opacity="0.58"/>
<rect x="124.83" y="604.10" width="1.10" height="1.10" fill="#f3e52c" opacity="0.36"/>
<rect x="237.40" y="732.81" width="1.09" height="1.09" fill="#f3e52c" opacity="0.57"/>
<rect x="263.16" y="704.66" width="0.99" height="0.99" fill="#f3e52c" opacity="0.5"/>
<rect x="176.66" y="783.71" width="0.99" height="0.99" fill="#f3e52c" opacity="0.53"/>
<rect x="189.98" y="594.76" width="1.09" height="1.09" fill="#f3e52c" opacity="0.47"/>
<rect x="126.42" y="682.67" width="0.82" height="0.82" fill="#f3e52c" opacity="0.33"/>
<rect x="264.96" y="697.18" width="0.92" height="0.92" fill="#f3e52c" opacity="0.56"/>
<rect x="224.53" y="785.30" width="0.90" height="0.90" fill="#f3e52c" opacity="0.44"/>
<rect x="99.78" y="625.45" width="0.97" height="0.97" fill="#f3e52c" opacity="0.55"/>
<rect x="77.03" y="753.63" width="0.86" height="0.86" fill="#f3e52c" opacity="0.43"/>
<rect x="103.69" y="681.16" width="0.88" height="0.88" fill="#f3e52c" opacity="0.27"/>
<rect x="230.89" y="674.92" width="1.07" height="1.07" fill="#f3e52c" opacity="0.43"/>
<rect x="238.47" y="659.96" width="0.93" height="0.93" fill="#f3e52c" opacity="0.58"/>
<rect x="127.38" y="578.32" width="0.96" height="0.96" fill="#f3e52c" opacity="0.58"/>
<rect x="67.81" y="675.50" width="0.87" height="0.87" fill="#f3e52c" opacity="0.54"/>
<rect x="249.86" y="604.42" width="0.89" height="0.89" fill="#f3e52c" opacity="0.28"/>
<rect x="263.89" y="749.30" width="1.04" height="1.04" fill="#f3e52c" opacity="0.46"/>
<rect x="209.89" y="638.36" width="0.84" height="0.84" fill="#f3e52c" opacity="0.39"/>
<rect x="132.56" y="639.11" width="0.99" height="0.99" fill="#f3e52c" opacity="0.6"/>
<rect x="166.78" y="717.59" width="0.80" height="0.80" fill="#f3e52c" opacity="0.4"/>
<rect x="179.67" y="642.59" width="0.77" height="0.77" fill="#f3e52c" opacity="0.32"/>
<rect x="188.62" y="620.85" width="1.08" height="1.08" fill="#f3e52c" opacity="0.3"/>
<rect x="209.12" y="695.63" width="0.96" height="0.96" fill="#f3e52c" opacity="0.49"/>
<rect x="137.49" y="660.48" width="1.09" height="1.09" fill="#f3e52c" opacity="0.26"/>
<rect x="169.58" y="573.28" width="1.06" height="1.06" fill="#f3e52c" opacity="0.34"/>
<rect x="221.26" y="592.46" width="0.90" height="0.90" fill="#f3e52c" opacity="0.44"/>
<rect x="112.72" y="573.95" width="0.82" height="0.82" fill="#f3e52c" opacity="0.5"/>
<rect x="267.38" y="578.79" width="1.05" height="1.05" fill="#f3e52c" opacity="0.4"/>
<rect x="255.95" y="604.91" width="0.90" height="0.90" fill="#f3e52c" opacity="0.38"/>
<rect x="120.15" y="723.22" width="0.95" height="0.95" fill="#f3e52c" opacity="0.4"/>
<rect x="260.45" y="794.96" width="0.97" height="0.97" fill="#f3e52c" opacity="0.4"/>
<rect x="269.18" y="574.21" width="1.00" height="1.00" fill="#f3e52c" opacity="0.51"/>
<rect x="131.58" y="640.30" width="0.84" height="0.84" fill="#f3e52c" opacity="0.54"/>
<rect x="175.03" y="743.93" width="0.83" height="0.83" fill="#f3e52c" opacity="0.39"/>
<rect x="123.94" y="647.72" width="0.92" height="0.92" fill="#f3e52c" opacity="0.26"/>
<rect x="119.43" y="694.52" width="1.10" height="1.10" fill="#f3e52c" opacity="0.57"/>
<rect x="184.21" y="581.24" width="0.81" height="0.81" fill="#f3e52c" opacity="0.32"/>
<rect x="80.64" y="738.35" width="0.86" height="0.86" fill="#f3e52c" opacity="0.44"/>
<rect x="244.58" y="716.85" width="0.87" height="0.87" fill="#f3e52c" opacity="0.42"/>
<rect x="258.17" y="682.71" width="1.09" height="1.09" fill="#f3e52c" opacity="0.36"/>
<rect x="169.91" y="655.45" width="1.00" height="1.00" fill="#f3e52c" opacity="0.54"/>
<rect x="73.60" y="749.52" width="0.80" height="0.80" fill="#f3e52c" opacity="0.52"/>
<rect x="157.06" y="685.74" width="0.77" height="0.77" fill="#f3e52c" opacity="0.53"/>
<rect x="263.09" y="791.99" width="1.10" height="1.10" fill="#f3e52c" opacity="0.42"/>
<rect x="73.18" y="788.65" width="1.00" height="1.00" fill="#f3e52c" opacity="0.53"/>
<rect x="138.41" y="602.44" width="0.76" height="0.76" fill="#f3e52c" opacity="0.55"/>
<rect x="82.30" y="753.86" width="0.87" height="0.87" fill="#f3e52c" opacity="0.37"/>
<rect x="247.09" y="683.25" width="0.91" height="0.91" fill="#f3e52c" opacity="0.53"/>
<rect x="143.17" y="726.11" width="0.88" height="0.88" fill="#f3e52c" opacity="0.45"/>
<rect x="249.65" y="589.94" width="0.77" height="0.77" fill="#f3e52c" opacity="0.38"/>
<rect x="202.29" y="685.11" width="1.01" height="1.01" fill="#f3e52c" opacity="0.58"/>
<rect x="57.22" y="640.69" width="0.84" height="0.84" fill="#f3e52c" opacity="0.48"/>
<rect x="89.26" y="763.96" width="1.05" height="1.05" fill="#f3e52c" opacity="0.48"/>
<rect x="189.34" y="699.89" width="0.85" height="0.85" fill="#f3e52c" opacity="0.27"/>
<rect x="258.26" y="619.18" width="1.02" height="1.02" fill="#f3e52c" opacity="0.28"/>
<rect x="49.74" y="691.62" width="0.79" height="0.79" fill="#f3e52c" opacity="0.46"/>
<rect x="115.55" y="622.62" width="0.82" height="0.82" fill="#f3e52c" opacity="0.42"/>
<line x1="64.81" y1="582.50" x2="65.78" y2="582.50" stroke="#f3e52c" stroke-width="1.0" opacity="0.2810161756219596"/>
<line x1="246.96" y1="582.50" x2="249.37" y2="582.50" stroke="#f3e52c" stroke-width="1.0" opacity="0.3498396941971838"/>
<line x1="69.86" y1="582.50" x2="71.31" y2="582.50" stroke="#f3e52c" stroke-width="1.0" opacity="0.31726188627588453"/>
<line x1="256.81" y1="581.50" x2="259.21" y2="581.50" stroke="#f3e52c" stroke-width="1.0" opacity="0.33020002464296744"/>
<line x1="167.75" y1="582.50" x2="168.71" y2="582.50" stroke="#f3e52c" stroke-width="1.0" opacity="0.31110246433737043"/>
<line x1="218.80" y1="581.50" x2="219.76" y2="581.50" stroke="#f3e52c" stroke-width="1.0" opacity="0.38831692550807817"/>
<line x1="92.32" y1="581.50" x2="93.28" y2="581.50" stroke="#f3e52c" stroke-width="1.0" opacity="0.25092376030088326"/>
<line x1="264.12" y1="582.50" x2="265.09" y2="582.50" stroke="#f3e52c" stroke-width="1.0" opacity="0.3034114278205963"/>
<line x1="143.17" y1="581.50" x2="144.14" y2="581.50" stroke="#f3e52c" stroke-width="1.0" opacity="0.26841980740382726"/>
<line x1="151.28" y1="582.50" x2="153.69" y2="582.50" stroke="#f3e52c" stroke-width="1.0" opacity="0.3192158774835526"/>
<line x1="227.55" y1="582.50" x2="229.00" y2="582.50" stroke="#f3e52c" stroke-width="1.0" opacity="0.35807382407388416"/>
<line x1="177.64" y1="581.50" x2="178.61" y2="581.50" stroke="#f3e52c" stroke-width="1.0" opacity="0.2853639037980325"/>
<line x1="101.69" y1="581.50" x2="104.10" y2="581.50" stroke="#f3e52c" stroke-width="1.0" opacity="0.301414068735728"/>
<line x1="63.09" y1="582.50" x2="65.50" y2="582.50" stroke="#f3e52c" stroke-width="1.0" opacity="0.36509346744211835"/>
<line x1="146.31" y1="582.50" x2="147.27" y2="582.50" stroke="#f3e52c" stroke-width="1.0" opacity="0.25282841602107875"/>
<line x1="105.21" y1="582.50" x2="106.65" y2="582.50" stroke="#f3e52c" stroke-width="1.0" opacity="0.2944627616348019"/>
<line x1="90.51" y1="582.50" x2="91.48" y2="582.50" stroke="#f3e52c" stroke-width="1.0" opacity="0.23211184308842048"/>
<line x1="258.34" y1="581.50" x2="259.79" y2="581.50" stroke="#f3e52c" stroke-width="1.0" opacity="0.312131550624806"/>
<line x1="258.96" y1="581.50" x2="259.92" y2="581.50" stroke="#f3e52c" stroke-width="1.0" opacity="0.3176514695005728"/>
<line x1="160.28" y1="582.50" x2="161.24" y2="582.50" stroke="#f3e52c" stroke-width="1.0" opacity="0.2930750337153432"/>
<line x1="207.71" y1="582.50" x2="208.67" y2="582.50" stroke="#f3e52c" stroke-width="1.0" opacity="0.3306878225201053"/>
<line x1="229.61" y1="582.50" x2="231.05" y2="582.50" stroke="#f3e52c" stroke-width="1.0" opacity="0.33349702957182414"/>
<line x1="261.91" y1="582.50" x2="264.32" y2="582.50" stroke="#f3e52c" stroke-width="1.0" opacity="0.24877059668298276"/>
<line x1="47.93" y1="581.50" x2="48.89" y2="581.50" stroke="#f3e52c" stroke-width="1.0" opacity="0.359317802694311"/>
<line x1="139.95" y1="582.50" x2="140.91" y2="582.50" stroke="#f3e52c" stroke-width="1.0" opacity="0.2971077507863808"/>
<line x1="264.21" y1="582.50" x2="266.62" y2="582.50" stroke="#f3e52c" stroke-width="1.0" opacity="0.3861317085722186"/>
<line x1="114.73" y1="582.50" x2="115.69" y2="582.50" stroke="#f3e52c" stroke-width="1.0" opacity="0.3597057273398601"/>
<line x1="177.05" y1="581.50" x2="179.46" y2="581.50" stroke="#f3e52c" stroke-width="1.0" opacity="0.29325690499214957"/>
<line x1="229.44" y1="582.50" x2="230.40" y2="582.50" stroke="#f3e52c" stroke-width="1.0" opacity="0.37682015131128604"/>
<line x1="58.36" y1="581.50" x2="59.32" y2="581.50" stroke="#f3e52c" stroke-width="1.0" opacity="0.2932647250175797"/>
<line x1="73.00" y1="582.50" x2="74.45" y2="582.50" stroke="#f3e52c" stroke-width="1.0" opacity="0.38835372195456835"/>
<line x1="264.95" y1="582.50" x2="265.91" y2="582.50" stroke="#f3e52c" stroke-width="1.0" opacity="0.2405648099806217"/>
<line x1="198.35" y1="582.50" x2="199.31" y2="582.50" stroke="#f3e52c" stroke-width="1.0" opacity="0.3076545527191496"/>
<line x1="234.99" y1="582.50" x2="235.95" y2="582.50" stroke="#f3e52c" stroke-width="1.0" opacity="0.2523013299360323"/>
<line x1="66.29" y1="582.50" x2="67.25" y2="582.50" stroke="#f3e52c" stroke-width="1.0" opacity="0.39135005935904194"/>
<line x1="239.13" y1="581.50" x2="240.09" y2="581.50" stroke="#f3e52c" stroke-width="1.0" opacity="0.3282346869480176"/>
<line x1="267.33" y1="582.50" x2="268.29" y2="582.50" stroke="#f3e52c" stroke-width="1.0" opacity="0.2614775475904426"/>
<line x1="266.38" y1="582.50" x2="267.35" y2="582.50" stroke="#f3e52c" stroke-width="1.0" opacity="0.3920309800322668"/>
<line x1="128.42" y1="582.50" x2="129.86" y2="582.50" stroke="#f3e52c" stroke-width="1.0" opacity="0.33260790489939945"/>
<line x1="49.70" y1="582.50" x2="51.14" y2="582.50" stroke="#f3e52c" stroke-width="1.0" opacity="0.23462749895178703"/>
<line x1="160.66" y1="582.50" x2="161.62" y2="582.50" stroke="#f3e52c" stroke-width="1.0" opacity="0.24539550859825232"/>
<line x1="207.97" y1="582.50" x2="208.94" y2="582.50" stroke="#f3e52c" stroke-width="1.0" opacity="0.32465198394686706"/>
<line x1="59.44" y1="582.50" x2="60.40" y2="582.50" stroke="#f3e52c" stroke-width="1.0" opacity="0.27636185522517515"/>
<line x1="93.30" y1="581.50" x2="94.26" y2="581.50" stroke="#f3e52c" stroke-width="1.0" opacity="0.2455516539251162"/>
<line x1="134.28" y1="582.50" x2="135.24" y2="582.50" stroke="#f3e52c" stroke-width="1.0" opacity="0.28413242430652186"/>
<line x1="260.90" y1="582.50" x2="262.34" y2="582.50" stroke="#f3e52c" stroke-width="1.0" opacity="0.369898937623185"/>
<line x1="95.06" y1="582.50" x2="96.51" y2="582.50" stroke="#f3e52c" stroke-width="1.0" opacity="0.2354840517464304"/>
<line x1="129.64" y1="582.50" x2="132.05" y2="582.50" stroke="#f3e52c" stroke-width="1.0" opacity="0.27311148000754654"/>
<line x1="251.85" y1="582.50" x2="253.29" y2="582.50" stroke="#f3e52c" stroke-width="1.0" opacity="0.23138364648778528"/>
<line x1="146.73" y1="582.50" x2="147.69" y2="582.50" stroke="#f3e52c" stroke-width="1.0" opacity="0.3607482009463739"/>
<line x1="140.87" y1="582.50" x2="141.84" y2="582.50" stroke="#f3e52c" stroke-width="1.0" opacity="0.3628787698156658"/>
<line x1="182.21" y1="581.50" x2="183.17" y2="581.50" stroke="#f3e52c" stroke-width="1.0" opacity="0.39311419572588574"/>
<line x1="114.47" y1="581.50" x2="116.88" y2="581.50" stroke="#f3e52c" stroke-width="1.0" opacity="0.3089398260538017"/>
<line x1="51.70" y1="582.50" x2="54.11" y2="582.50" stroke="#f3e52c" stroke-width="1.0" opacity="0.2732155083493157"/>
<line x1="205.18" y1="581.50" x2="206.14" y2="581.50" stroke="#f3e52c" stroke-width="1.0" opacity="0.28868076044793467"/>
<line x1="70.87" y1="582.50" x2="72.31" y2="582.50" stroke="#f3e52c" stroke-width="1.0" opacity="0.3302687674434565"/>
<line x1="221.87" y1="582.50" x2="222.83" y2="582.50" stroke="#f3e52c" stroke-width="1.0" opacity="0.3408996706686492"/>
<line x1="174.93" y1="581.50" x2="175.89" y2="581.50" stroke="#f3e52c" stroke-width="1.0" opacity="0.2771660150209541"/>
<line x1="98.63" y1="581.50" x2="101.04" y2="581.50" stroke="#f3e52c" stroke-width="1.0" opacity="0.3001092595127194"/>
<line x1="51.50" y1="582.50" x2="52.46" y2="582.50" stroke="#f3e52c" stroke-width="1.0" opacity="0.3748712415907716"/>
<line x1="201.68" y1="582.50" x2="202.64" y2="582.50" stroke="#f3e52c" stroke-width="1.0" opacity="0.28848730868566796"/>
<line x1="139.92" y1="582.50" x2="140.88" y2="582.50" stroke="#f3e52c" stroke-width="1.0" opacity="0.33446317918710516"/>
<line x1="255.38" y1="582.50" x2="256.34" y2="582.50" stroke="#f3e52c" stroke-width="1.0" opacity="0.2976896686360473"/>
<line x1="217.19" y1="582.50" x2="218.16" y2="582.50" stroke="#f3e52c" stroke-width="1.0" opacity="0.36843605598512424"/>
<line x1="170.96" y1="582.50" x2="171.93" y2="582.50" stroke="#f3e52c" stroke-width="1.0" opacity="0.25235176146392274"/>
<line x1="146.59" y1="582.50" x2="149.00" y2="582.50" stroke="#f3e52c" stroke-width="1.0" opacity="0.26170877441862744"/>
<line x1="188.40" y1="582.50" x2="190.81" y2="582.50" stroke="#f3e52c" stroke-width="1.0" opacity="0.2505206919576831"/>
<line x1="232.58" y1="581.50" x2="234.02" y2="581.50" stroke="#f3e52c" stroke-width="1.0" opacity="0.2508021380348214"/>
<line x1="213.00" y1="581.50" x2="213.97" y2="581.50" stroke="#f3e52c" stroke-width="1.0" opacity="0.3109299433662291"/>
<line x1="256.74" y1="582.50" x2="259.15" y2="582.50" stroke="#f3e52c" stroke-width="1.0" opacity="0.2901648162090391"/>
<line x1="138.63" y1="582.50" x2="139.59" y2="582.50" stroke="#f3e52c" stroke-width="1.0" opacity="0.2542928186399627"/>
<line x1="96.90" y1="582.50" x2="99.31" y2="582.50" stroke="#f3e52c" stroke-width="1.0" opacity="0.32347115885966043"/>
<line x1="110.47" y1="581.50" x2="111.43" y2="581.50" stroke="#f3e52c" stroke-width="1.0" opacity="0.27055584255231624"/>
<line x1="210.78" y1="582.50" x2="211.74" y2="582.50" stroke="#f3e52c" stroke-width="1.0" opacity="0.32365673736710027"/>
<line x1="66.37" y1="582.50" x2="68.78" y2="582.50" stroke="#f3e52c" stroke-width="1.0" opacity="0.3048429158583362"/>
<line x1="89.73" y1="581.50" x2="90.69" y2="581.50" stroke="#f3e52c" stroke-width="1.0" opacity="0.28984270230249976"/>
<line x1="224.48" y1="582.50" x2="226.88" y2="582.50" stroke="#f3e52c" stroke-width="1.0" opacity="0.24157301616446974"/>
<line x1="194.73" y1="582.50" x2="195.69" y2="582.50" stroke="#f3e52c" stroke-width="1.0" opacity="0.30518057739012905"/>
<line x1="232.04" y1="582.50" x2="233.00" y2="582.50" stroke="#f3e52c" stroke-width="1.0" opacity="0.38800295648351296"/>
<line x1="217.18" y1="581.50" x2="218.14" y2="581.50" stroke="#f3e52c" stroke-width="1.0" opacity="0.3062250550477749"/>
<line x1="231.65" y1="581.50" x2="234.06" y2="581.50" stroke="#f3e52c" stroke-width="1.0" opacity="0.3586605174645428"/>
<line x1="236.36" y1="582.50" x2="237.80" y2="582.50" stroke="#f3e52c" stroke-width="1.0" opacity="0.34440725226507074"/>
<line x1="250.83" y1="582.50" x2="251.79" y2="582.50" stroke="#f3e52c" stroke-width="1.0" opacity="0.25572605467013293"/>
<line x1="136.12" y1="582.50" x2="137.08" y2="582.50" stroke="#f3e52c" stroke-width="1.0" opacity="0.2809408675586046"/>
<line x1="146.53" y1="582.50" x2="147.49" y2="582.50" stroke="#f3e52c" stroke-width="1.0" opacity="0.24175430311745158"/>
<line x1="257.43" y1="582.50" x2="258.40" y2="582.50" stroke="#f3e52c" stroke-width="1.0" opacity="0.3101685504289878"/>
<line x1="62.77" y1="582.50" x2="63.73" y2="582.50" stroke="#f3e52c" stroke-width="1.0" opacity="0.29475081596516167"/>
<line x1="243.28" y1="581.50" x2="245.69" y2="581.50" stroke="#f3e52c" stroke-width="1.0" opacity="0.3854940172076379"/>
<line x1="193.33" y1="581.50" x2="195.74" y2="581.50" stroke="#f3e52c" stroke-width="1.0" opacity="0.3480758656980705"/>
<line x1="143.45" y1="582.50" x2="144.89" y2="582.50" stroke="#f3e52c" stroke-width="1.0" opacity="0.2631628132506562"/>
<line x1="145.14" y1="582.50" x2="147.55" y2="582.50" stroke="#f3e52c" stroke-width="1.0" opacity="0.26403971762912554"/>
<line x1="202.42" y1="582.50" x2="203.87" y2="582.50" stroke="#f3e52c" stroke-width="1.0" opacity="0.24289589265164918"/>
<line x1="88.47" y1="582.50" x2="89.43" y2="582.50" stroke="#f3e52c" stroke-width="1.0" opacity="0.26676346362824654"/>
<line x1="80.48" y1="582.50" x2="81.44" y2="582.50" stroke="#f3e52c" stroke-width="1.0" opacity="0.2425453809040253"/>
<line x1="98.22" y1="582.50" x2="99.18" y2="582.50" stroke="#f3e52c" stroke-width="1.0" opacity="0.2535582115487137"/>
<line x1="145.47" y1="582.50" x2="146.91" y2="582.50" stroke="#f3e52c" stroke-width="1.0" opacity="0.29201538913171227"/>
<line x1="184.70" y1="582.50" x2="185.66" y2="582.50" stroke="#f3e52c" stroke-width="1.0" opacity="0.2704651780004761"/>
<line x1="122.42" y1="582.50" x2="124.83" y2="582.50" stroke="#f3e52c" stroke-width="1.0" opacity="0.3006204856296372"/>
<line x1="179.64" y1="582.50" x2="182.05" y2="582.50" stroke="#f3e52c" stroke-width="1.0" opacity="0.3236563599729557"/>
<line x1="218.51" y1="582.50" x2="220.91" y2="582.50" stroke="#f3e52c" stroke-width="1.0" opacity="0.3024522513703798"/>
<line x1="245.22" y1="582.50" x2="247.62" y2="582.50" stroke="#f3e52c" stroke-width="1.0" opacity="0.23820324267350984"/>
<line x1="200.41" y1="582.50" x2="201.37" y2="582.50" stroke="#f3e52c" stroke-width="1.0" opacity="0.25087620683406114"/>
<line x1="120.56" y1="582.50" x2="122.01" y2="582.50" stroke="#f3e52c" stroke-width="1.0" opacity="0.34143181638197995"/>
<line x1="49.93" y1="582.50" x2="50.89" y2="582.50" stroke="#f3e52c" stroke-width="1.0" opacity="0.32316821214873104"/>
<line x1="248.06" y1="582.50" x2="250.47" y2="582.50" stroke="#f3e52c" stroke-width="1.0" opacity="0.30885464666169393"/>
<line x1="73.25" y1="582.50" x2="75.66" y2="582.50" stroke="#f3e52c" stroke-width="1.0" opacity="0.3403377218401795"/>
<line x1="233.18" y1="582.50" x2="234.62" y2="582.50" stroke="#f3e52c" stroke-width="1.0" opacity="0.23892820130146356"/>
<line x1="144.62" y1="582.50" x2="145.59" y2="582.50" stroke="#f3e52c" stroke-width="1.0" opacity="0.27802018989776245"/>
<line x1="203.19" y1="582.50" x2="204.63" y2="582.50" stroke="#f3e52c" stroke-width="1.0" opacity="0.32741300951095775"/>
<line x1="199.99" y1="582.50" x2="200.95" y2="582.50" stroke="#f3e52c" stroke-width="1.0" opacity="0.32509569076391986"/>
<line x1="89.45" y1="582.50" x2="91.85" y2="582.50" stroke="#f3e52c" stroke-width="1.0" opacity="0.3471763767883117"/>
<line x1="245.65" y1="582.50" x2="247.09" y2="582.50" stroke="#f3e52c" stroke-width="1.0" opacity="0.3615257428100362"/>
<line x1="264.13" y1="581.50" x2="265.57" y2="581.50" stroke="#f3e52c" stroke-width="1.0" opacity="0.30681310296516334"/>
<line x1="212.97" y1="582.50" x2="215.38" y2="582.50" stroke="#f3e52c" stroke-width="1.0" opacity="0.25326207173432846"/>
<line x1="175.93" y1="582.50" x2="176.89" y2="582.50" stroke="#f3e52c" stroke-width="1.0" opacity="0.2710878420371484"/>
<line x1="135.80" y1="582.50" x2="137.24" y2="582.50" stroke="#f3e52c" stroke-width="1.0" opacity="0.30646003481043693"/>
<line x1="224.66" y1="581.50" x2="226.10" y2="581.50" stroke="#f3e52c" stroke-width="1.0" opacity="0.3084181501881014"/>
<line x1="232.74" y1="581.50" x2="233.70" y2="581.50" stroke="#f3e52c" stroke-width="1.0" opacity="0.37163505952043957"/>
<line x1="247.99" y1="582.50" x2="249.44" y2="582.50" stroke="#f3e52c" stroke-width="1.0" opacity="0.3702745854642497"/>
<line x1="58.41" y1="582.50" x2="60.82" y2="582.50" stroke="#f3e52c" stroke-width="1.0" opacity="0.2509857042455597"/>
<line x1="197.42" y1="582.50" x2="198.38" y2="582.50" stroke="#f3e52c" stroke-width="1.0" opacity="0.2727199857120566"/>
<line x1="238.49" y1="582.50" x2="240.89" y2="582.50" stroke="#f3e52c" stroke-width="1.0" opacity="0.2850176735132341"/>
<line x1="67.07" y1="582.50" x2="68.51" y2="582.50" stroke="#f3e52c" stroke-width="1.0" opacity="0.335870670663307"/>
<line x1="119.38" y1="582.50" x2="121.78" y2="582.50" stroke="#f3e52c" stroke-width="1.0" opacity="0.24875975716949708"/>
<line x1="91.24" y1="582.50" x2="93.65" y2="582.50" stroke="#f3e52c" stroke-width="1.0" opacity="0.32024499649381993"/>
<line x1="250.89" y1="582.50" x2="251.85" y2="582.50" stroke="#f3e52c" stroke-width="1.0" opacity="0.2589187529242812"/>
<line x1="203.41" y1="582.50" x2="205.82" y2="582.50" stroke="#f3e52c" stroke-width="1.0" opacity="0.24078474137792855"/>
<line x1="143.81" y1="582.50" x2="145.25" y2="582.50" stroke="#f3e52c" stroke-width="1.0" opacity="0.3453521520592772"/>
<line x1="196.14" y1="582.50" x2="198.54" y2="582.50" stroke="#f3e52c" stroke-width="1.0" opacity="0.32857320548511526"/>
<line x1="253.12" y1="582.50" x2="254.08" y2="582.50" stroke="#f3e52c" stroke-width="1.0" opacity="0.35437827170468417"/>
<line x1="196.50" y1="582.50" x2="197.94" y2="582.50" stroke="#f3e52c" stroke-width="1.0" opacity="0.27188198625491905"/>
<line x1="264.48" y1="582.50" x2="266.88" y2="582.50" stroke="#f3e52c" stroke-width="1.0" opacity="0.2900604768751284"/>
<line x1="197.47" y1="582.50" x2="198.91" y2="582.50" stroke="#f3e52c" stroke-width="1.0" opacity="0.2330138139692027"/>
<line x1="138.08" y1="582.50" x2="139.04" y2="582.50" stroke="#f3e52c" stroke-width="1.0" opacity="0.24381307033432092"/>
<line x1="99.08" y1="582.50" x2="100.04" y2="582.50" stroke="#f3e52c" stroke-width="1.0" opacity="0.23955595666781612"/>
<line x1="97.81" y1="582.50" x2="100.22" y2="582.50" stroke="#f3e52c" stroke-width="1.0" opacity="0.39121372906531726"/>
<line x1="56.58" y1="582.50" x2="57.54" y2="582.50" stroke="#f3e52c" stroke-width="1.0" opacity="0.27873807677125073"/>
<line x1="161.58" y1="582.50" x2="163.03" y2="582.50" stroke="#f3e52c" stroke-width="1.0" opacity="0.3869957185159087"/>
<line x1="223.93" y1="582.50" x2="224.89" y2="582.50" stroke="#f3e52c" stroke-width="1.0" opacity="0.25066790775526343"/>
<line x1="256.02" y1="582.50" x2="256.98" y2="582.50" stroke="#f3e52c" stroke-width="1.0" opacity="0.2918059812279571"/>
<line x1="246.23" y1="582.50" x2="247.20" y2="582.50" stroke="#f3e52c" stroke-width="1.0" opacity="0.24728516622468585"/>
<line x1="122.68" y1="581.50" x2="123.64" y2="581.50" stroke="#f3e52c" stroke-width="1.0" opacity="0.2676697985945508"/>
<line x1="249.93" y1="582.50" x2="252.33" y2="582.50" stroke="#f3e52c" stroke-width="1.0" opacity="0.3934243978819874"/>
<line x1="103.88" y1="582.50" x2="104.85" y2="582.50" stroke="#f3e52c" stroke-width="1.0" opacity="0.37801380794346107"/>
<line x1="115.74" y1="582.50" x2="118.14" y2="582.50" stroke="#f3e52c" stroke-width="1.0" opacity="0.264096712040285"/>
<line x1="192.11" y1="582.50" x2="193.07" y2="582.50" stroke="#f3e52c" stroke-width="1.0" opacity="0.313550919941077"/>
<line x1="83.54" y1="582.50" x2="84.98" y2="582.50" stroke="#f3e52c" stroke-width="1.0" opacity="0.2829068984579348"/>
<line x1="160.08" y1="581.50" x2="162.49" y2="581.50" stroke="#f3e52c" stroke-width="1.0" opacity="0.3679686097586378"/>
<line x1="186.17" y1="581.50" x2="188.58" y2="581.50" stroke="#f3e52c" stroke-width="1.0" opacity="0.24276367689212042"/>
<line x1="87.31" y1="581.50" x2="88.27" y2="581.50" stroke="#f3e52c" stroke-width="1.0" opacity="0.34906521921555667"/>
<line x1="127.71" y1="689.50" x2="128.86" y2="689.50" stroke="#f3e52c" stroke-width="1.0" opacity="0.6757066654055582"/>
<line x1="193.82" y1="689.50" x2="194.97" y2="689.50" stroke="#f3e52c" stroke-width="1.0" opacity="0.4798404655194069"/>
<line x1="137.63" y1="689.50" x2="138.79" y2="689.50" stroke="#f3e52c" stroke-width="1.0" opacity="0.6593744483705071"/>
<line x1="242.73" y1="689.50" x2="243.88" y2="689.50" stroke="#f3e52c" stroke-width="1.0" opacity="0.5212096190120362"/>
<line x1="266.08" y1="689.50" x2="267.23" y2="689.50" stroke="#f3e52c" stroke-width="1.0" opacity="0.516864118918248"/>
<line x1="200.60" y1="689.50" x2="201.75" y2="689.50" stroke="#f3e52c" stroke-width="1.0" opacity="0.5949667702805478"/>
<line x1="202.15" y1="689.50" x2="203.31" y2="689.50" stroke="#f3e52c" stroke-width="1.0" opacity="0.6525842968592502"/>
<line x1="73.23" y1="688.50" x2="74.39" y2="688.50" stroke="#f3e52c" stroke-width="1.0" opacity="0.46446777034841763"/>
<line x1="65.93" y1="689.50" x2="67.08" y2="689.50" stroke="#f3e52c" stroke-width="1.0" opacity="0.45268982063504315"/>
<line x1="58.81" y1="688.50" x2="59.97" y2="688.50" stroke="#f3e52c" stroke-width="1.0" opacity="0.46133902368007385"/>
<line x1="81.18" y1="688.50" x2="82.33" y2="688.50" stroke="#f3e52c" stroke-width="1.0" opacity="0.5526997888129158"/>
<line x1="247.45" y1="688.50" x2="248.60" y2="688.50" stroke="#f3e52c" stroke-width="1.0" opacity="0.5583769451474097"/>
<line x1="190.10" y1="689.50" x2="191.26" y2="689.50" stroke="#f3e52c" stroke-width="1.0" opacity="0.6447142073931403"/>
<line x1="150.49" y1="689.50" x2="151.64" y2="689.50" stroke="#f3e52c" stroke-width="1.0" opacity="0.699395235344131"/>
<line x1="257.19" y1="689.50" x2="258.34" y2="689.50" stroke="#f3e52c" stroke-width="1.0" opacity="0.7116305326216754"/>
<line x1="223.40" y1="689.50" x2="224.55" y2="689.50" stroke="#f3e52c" stroke-width="1.0" opacity="0.6397036667886644"/>
<line x1="112.84" y1="688.50" x2="114.00" y2="688.50" stroke="#f3e52c" stroke-width="1.0" opacity="0.46898683125789137"/>
<line x1="112.92" y1="689.50" x2="114.08" y2="689.50" stroke="#f3e52c" stroke-width="1.0" opacity="0.6031116354450973"/>
<line x1="71.89" y1="689.50" x2="73.05" y2="689.50" stroke="#f3e52c" stroke-width="1.0" opacity="0.425413752862035"/>
<line x1="137.31" y1="689.50" x2="138.47" y2="689.50" stroke="#f3e52c" stroke-width="1.0" opacity="0.4919553920790347"/>
<line x1="82.55" y1="688.50" x2="83.71" y2="688.50" stroke="#f3e52c" stroke-width="1.0" opacity="0.6918979728202972"/>
<line x1="82.90" y1="689.50" x2="84.06" y2="689.50" stroke="#f3e52c" stroke-width="1.0" opacity="0.5758399408472336"/>
<line x1="55.58" y1="689.50" x2="56.73" y2="689.50" stroke="#f3e52c" stroke-width="1.0" opacity="0.43323038738978636"/>
<line x1="179.38" y1="689.50" x2="180.54" y2="689.50" stroke="#f3e52c" stroke-width="1.0" opacity="0.46014111832013493"/>
<line x1="213.72" y1="689.50" x2="214.87" y2="689.50" stroke="#f3e52c" stroke-width="1.0" opacity="0.5170592779545123"/>
<line x1="150.88" y1="689.50" x2="152.04" y2="689.50" stroke="#f3e52c" stroke-width="1.0" opacity="0.6083732477811523"/>
<line x1="73.25" y1="688.50" x2="74.40" y2="688.50" stroke="#f3e52c" stroke-width="1.0" opacity="0.5367162826099324"/>
<line x1="95.77" y1="689.50" x2="96.92" y2="689.50" stroke="#f3e52c" stroke-width="1.0" opacity="0.49745202136628963"/>
<line x1="90.34" y1="697.50" x2="91.49" y2="697.50" stroke="#f3e52c" stroke-width="1.0" opacity="0.5479402878862897"/>
<line x1="190.16" y1="697.50" x2="191.32" y2="697.50" stroke="#f3e52c" stroke-width="1.0" opacity="0.4017620066904123"/>
<line x1="155.39" y1="697.50" x2="156.55" y2="697.50" stroke="#f3e52c" stroke-width="1.0" opacity="0.44664576413909773"/>
<line x1="133.60" y1="697.50" x2="134.75" y2="697.50" stroke="#f3e52c" stroke-width="1.0" opacity="0.5214611814738732"/>
<line x1="88.52" y1="697.50" x2="89.68" y2="697.50" stroke="#f3e52c" stroke-width="1.0" opacity="0.3988036298128814"/>
<line x1="237.29" y1="697.50" x2="238.44" y2="697.50" stroke="#f3e52c" stroke-width="1.0" opacity="0.4817619141673671"/>
<line x1="241.35" y1="697.50" x2="242.51" y2="697.50" stroke="#f3e52c" stroke-width="1.0" opacity="0.5334755092714152"/>
<line x1="144.53" y1="697.50" x2="145.69" y2="697.50" stroke="#f3e52c" stroke-width="1.0" opacity="0.5899981663681895"/>
<line x1="237.19" y1="697.50" x2="238.34" y2="697.50" stroke="#f3e52c" stroke-width="1.0" opacity="0.43531245990955736"/>
<line x1="93.03" y1="697.50" x2="94.18" y2="697.50" stroke="#f3e52c" stroke-width="1.0" opacity="0.5516829499791394"/>
<line x1="159.22" y1="697.50" x2="160.38" y2="697.50" stroke="#f3e52c" stroke-width="1.0" opacity="0.4336704798622546"/>
<line x1="131.57" y1="697.50" x2="132.72" y2="697.50" stroke="#f3e52c" stroke-width="1.0" opacity="0.44082066892190497"/>
<line x1="237.81" y1="697.50" x2="238.96" y2="697.50" stroke="#f3e52c" stroke-width="1.0" opacity="0.5492128830305523"/>
<line x1="113.81" y1="697.50" x2="114.96" y2="697.50" stroke="#f3e52c" stroke-width="1.0" opacity="0.4439128980127397"/>
<line x1="199.24" y1="718.50" x2="200.40" y2="718.50" stroke="#f3e52c" stroke-width="1.0" opacity="0.43989357359184955"/>
<line x1="59.39" y1="718.50" x2="60.55" y2="718.50" stroke="#f3e52c" stroke-width="1.0" opacity="0.5822871195762456"/>
<line x1="158.44" y1="718.50" x2="159.59" y2="718.50" stroke="#f3e52c" stroke-width="1.0" opacity="0.4638411459802155"/>
<line x1="146.75" y1="718.50" x2="147.90" y2="718.50" stroke="#f3e52c" stroke-width="1.0" opacity="0.5335908800286429"/>
<line x1="262.28" y1="718.50" x2="263.44" y2="718.50" stroke="#f3e52c" stroke-width="1.0" opacity="0.6108466289663363"/>
<line x1="169.54" y1="718.50" x2="170.70" y2="718.50" stroke="#f3e52c" stroke-width="1.0" opacity="0.6210439266983934"/>
<line x1="94.79" y1="718.50" x2="95.95" y2="718.50" stroke="#f3e52c" stroke-width="1.0" opacity="0.6042016144973796"/>
<line x1="152.87" y1="718.50" x2="154.03" y2="718.50" stroke="#f3e52c" stroke-width="1.0" opacity="0.5537791175629939"/>
<line x1="180.57" y1="718.50" x2="181.73" y2="718.50" stroke="#f3e52c" stroke-width="1.0" opacity="0.4496727711858027"/>
<line x1="128.60" y1="718.50" x2="129.76" y2="718.50" stroke="#f3e52c" stroke-width="1.0" opacity="0.4822286262892154"/>
<line x1="217.05" y1="718.50" x2="218.20" y2="718.50" stroke="#f3e52c" stroke-width="1.0" opacity="0.5218577766040284"/>
<line x1="118.39" y1="718.50" x2="119.54" y2="718.50" stroke="#f3e52c" stroke-width="1.0" opacity="0.4131317867634305"/>
<line x1="82.76" y1="718.50" x2="83.92" y2="718.50" stroke="#f3e52c" stroke-width="1.0" opacity="0.43377475857248765"/>
<line x1="261.45" y1="718.50" x2="262.61" y2="718.50" stroke="#f3e52c" stroke-width="1.0" opacity="0.524239998170047"/>
<line x1="96.09" y1="718.50" x2="97.25" y2="718.50" stroke="#f3e52c" stroke-width="1.0" opacity="0.5818033997727738"/>
<line x1="158.20" y1="718.50" x2="159.35" y2="718.50" stroke="#f3e52c" stroke-width="1.0" opacity="0.485070464420746"/>
<line x1="185.25" y1="718.50" x2="186.40" y2="718.50" stroke="#f3e52c" stroke-width="1.0" opacity="0.3870583385768624"/>
<line x1="212.42" y1="718.50" x2="213.57" y2="718.50" stroke="#f3e52c" stroke-width="1.0" opacity="0.4730465887097974"/>
<line x1="221.69" y1="733.50" x2="222.84" y2="733.50" stroke="#f3e52c" stroke-width="1.0" opacity="0.5649669524028242"/>
<line x1="261.32" y1="733.50" x2="262.48" y2="733.50" stroke="#f3e52c" stroke-width="1.0" opacity="0.5439078946429265"/>
<line x1="70.36" y1="732.50" x2="71.51" y2="732.50" stroke="#f3e52c" stroke-width="1.0" opacity="0.4411314615954264"/>
<line x1="256.15" y1="733.50" x2="257.31" y2="733.50" stroke="#f3e52c" stroke-width="1.0" opacity="0.3894183692230425"/>
<line x1="135.16" y1="733.50" x2="136.32" y2="733.50" stroke="#f3e52c" stroke-width="1.0" opacity="0.4061185137827145"/>
<line x1="171.93" y1="733.50" x2="173.09" y2="733.50" stroke="#f3e52c" stroke-width="1.0" opacity="0.3928933282045527"/>
<line x1="107.47" y1="732.50" x2="108.63" y2="732.50" stroke="#f3e52c" stroke-width="1.0" opacity="0.581342423699946"/>
<line x1="53.71" y1="733.50" x2="54.87" y2="733.50" stroke="#f3e52c" stroke-width="1.0" opacity="0.37212415285727324"/>
<line x1="132.01" y1="732.50" x2="133.17" y2="732.50" stroke="#f3e52c" stroke-width="1.0" opacity="0.43517531878223814"/>
<line x1="219.81" y1="733.50" x2="220.97" y2="733.50" stroke="#f3e52c" stroke-width="1.0" opacity="0.581325376265664"/>
<line x1="145.02" y1="750.50" x2="145.98" y2="750.50" stroke="#f3e52c" stroke-width="1.0" opacity="0.7789405433912209"/>
<line x1="48.84" y1="750.50" x2="51.24" y2="750.50" stroke="#f3e52c" stroke-width="1.0" opacity="0.7188274704895904"/>
<line x1="48.03" y1="750.50" x2="49.00" y2="750.50" stroke="#f3e52c" stroke-width="1.0" opacity="0.5398951652481719"/>
<line x1="243.64" y1="750.50" x2="246.04" y2="750.50" stroke="#f3e52c" stroke-width="1.0" opacity="0.7688375340640747"/>
<line x1="200.51" y1="750.50" x2="201.48" y2="750.50" stroke="#f3e52c" stroke-width="1.0" opacity="0.5780514822652512"/>
<line x1="112.20" y1="750.50" x2="113.64" y2="750.50" stroke="#f3e52c" stroke-width="1.0" opacity="0.5952924166889358"/>
<line x1="266.12" y1="750.50" x2="267.08" y2="750.50" stroke="#f3e52c" stroke-width="1.0" opacity="0.49326388165176915"/>
<line x1="94.36" y1="750.50" x2="96.77" y2="750.50" stroke="#f3e52c" stroke-width="1.0" opacity="0.4950818467168056"/>
<line x1="57.98" y1="750.50" x2="58.94" y2="750.50" stroke="#f3e52c" stroke-width="1.0" opacity="0.6901587029648851"/>
<line x1="249.24" y1="750.50" x2="250.69" y2="750.50" stroke="#f3e52c" stroke-width="1.0" opacity="0.5951139529737167"/>
<line x1="203.57" y1="750.50" x2="205.98" y2="750.50" stroke="#f3e52c" stroke-width="1.0" opacity="0.6158059114349801"/>
<line x1="84.61" y1="750.50" x2="87.02" y2="750.50" stroke="#f3e52c" stroke-width="1.0" opacity="0.5438906849649523"/>
<line x1="178.46" y1="750.50" x2="180.86" y2="750.50" stroke="#f3e52c" stroke-width="1.0" opacity="0.4597275947779277"/>
<line x1="212.05" y1="750.50" x2="214.46" y2="750.50" stroke="#f3e52c" stroke-width="1.0" opacity="0.7063463418767677"/>
<line x1="95.78" y1="750.50" x2="98.19" y2="750.50" stroke="#f3e52c" stroke-width="1.0" opacity="0.549575595091681"/>
<line x1="125.18" y1="750.50" x2="126.62" y2="750.50" stroke="#f3e52c" stroke-width="1.0" opacity="0.5989773188439517"/>
<line x1="165.45" y1="750.50" x2="166.41" y2="750.50" stroke="#f3e52c" stroke-width="1.0" opacity="0.4847119872650617"/>
<line x1="136.43" y1="750.50" x2="137.87" y2="750.50" stroke="#f3e52c" stroke-width="1.0" opacity="0.5570980026713512"/>
<line x1="260.01" y1="750.50" x2="260.97" y2="750.50" stroke="#f3e52c" stroke-width="1.0" opacity="0.6840808218658546"/>
<line x1="128.23" y1="750.50" x2="129.19" y2="750.50" stroke="#f3e52c" stroke-width="1.0" opacity="0.7412987880354001"/>
<line x1="110.75" y1="750.50" x2="113.16" y2="750.50" stroke="#f3e52c" stroke-width="1.0" opacity="0.5692406741901072"/>
<line x1="73.41" y1="750.50" x2="74.86" y2="750.50" stroke="#f3e52c" stroke-width="1.0" opacity="0.4934452345868162"/>
<line x1="141.30" y1="750.50" x2="142.27" y2="750.50" stroke="#f3e52c" stroke-width="1.0" opacity="0.5837830712955335"/>
<line x1="94.98" y1="750.50" x2="95.94" y2="750.50" stroke="#f3e52c" stroke-width="1.0" opacity="0.7269777220281094"/>
<line x1="136.47" y1="750.50" x2="137.43" y2="750.50" stroke="#f3e52c" stroke-width="1.0" opacity="0.732609166571023"/>
<line x1="143.89" y1="750.50" x2="144.85" y2="750.50" stroke="#f3e52c" stroke-width="1.0" opacity="0.6699940692112436"/>
<line x1="138.43" y1="750.50" x2="139.87" y2="750.50" stroke="#f3e52c" stroke-width="1.0" opacity="0.6194360523853102"/>
<line x1="103.23" y1="750.50" x2="104.19" y2="750.50" stroke="#f3e52c" stroke-width="1.0" opacity="0.6856131774562721"/>
<line x1="98.20" y1="750.50" x2="99.65" y2="750.50" stroke="#f3e52c" stroke-width="1.0" opacity="0.564905637413401"/>
<line x1="53.99" y1="750.50" x2="54.95" y2="750.50" stroke="#f3e52c" stroke-width="1.0" opacity="0.5227339167299402"/>
<line x1="258.47" y1="750.50" x2="259.43" y2="750.50" stroke="#f3e52c" stroke-width="1.0" opacity="0.5493378670703964"/>
<line x1="58.34" y1="750.50" x2="59.31" y2="750.50" stroke="#f3e52c" stroke-width="1.0" opacity="0.48866717683891797"/>
<line x1="217.00" y1="750.50" x2="217.96" y2="750.50" stroke="#f3e52c" stroke-width="1.0" opacity="0.49554088254953604"/>
<line x1="162.94" y1="750.50" x2="163.90" y2="750.50" stroke="#f3e52c" stroke-width="1.0" opacity="0.5528742253574996"/>
<line x1="98.33" y1="750.50" x2="99.77" y2="750.50" stroke="#f3e52c" stroke-width="1.0" opacity="0.5399638170311472"/>
<line x1="74.60" y1="750.50" x2="75.56" y2="750.50" stroke="#f3e52c" stroke-width="1.0" opacity="0.5117320919369769"/>
<line x1="122.41" y1="750.50" x2="123.86" y2="750.50" stroke="#f3e52c" stroke-width="1.0" opacity="0.6765829036997053"/>
<line x1="228.93" y1="750.50" x2="230.37" y2="750.50" stroke="#f3e52c" stroke-width="1.0" opacity="0.5056636436740395"/>
<line x1="211.47" y1="750.50" x2="212.43" y2="750.50" stroke="#f3e52c" stroke-width="1.0" opacity="0.6330853538659768"/>
<line x1="130.38" y1="750.50" x2="132.79" y2="750.50" stroke="#f3e52c" stroke-width="1.0" opacity="0.7751839942190596"/>
<line x1="73.86" y1="750.50" x2="74.82" y2="750.50" stroke="#f3e52c" stroke-width="1.0" opacity="0.7361649463918748"/>
<line x1="196.31" y1="750.50" x2="197.27" y2="750.50" stroke="#f3e52c" stroke-width="1.0" opacity="0.4876157925909579"/>
<line x1="101.98" y1="750.50" x2="104.39" y2="750.50" stroke="#f3e52c" stroke-width="1.0" opacity="0.5537381966517247"/>
<line x1="66.02" y1="750.50" x2="68.43" y2="750.50" stroke="#f3e52c" stroke-width="1.0" opacity="0.5777923156327016"/>
<line x1="239.66" y1="750.50" x2="242.07" y2="750.50" stroke="#f3e52c" stroke-width="1.0" opacity="0.5166230010402457"/>
<line x1="231.22" y1="750.50" x2="233.63" y2="750.50" stroke="#f3e52c" stroke-width="1.0" opacity="0.4554778285827766"/>
<line x1="134.18" y1="750.50" x2="135.62" y2="750.50" stroke="#f3e52c" stroke-width="1.0" opacity="0.5445526197949656"/>
<line x1="115.61" y1="750.50" x2="118.02" y2="750.50" stroke="#f3e52c" stroke-width="1.0" opacity="0.4699879173584931"/>
<line x1="156.55" y1="750.50" x2="157.52" y2="750.50" stroke="#f3e52c" stroke-width="1.0" opacity="0.6996717389262218"/>
<line x1="57.66" y1="750.50" x2="59.10" y2="750.50" stroke="#f3e52c" stroke-width="1.0" opacity="0.5001452910720654"/>
<line x1="196.10" y1="750.50" x2="197.55" y2="750.50" stroke="#f3e52c" stroke-width="1.0" opacity="0.5200519771092547"/>
<line x1="239.82" y1="750.50" x2="240.78" y2="750.50" stroke="#f3e52c" stroke-width="1.0" opacity="0.7589226312056814"/>
<line x1="58.10" y1="750.50" x2="59.54" y2="750.50" stroke="#f3e52c" stroke-width="1.0" opacity="0.6906566112485444"/>
<line x1="243.69" y1="750.50" x2="245.13" y2="750.50" stroke="#f3e52c" stroke-width="1.0" opacity="0.5422231949979655"/>
<line x1="67.79" y1="750.50" x2="70.20" y2="750.50" stroke="#f3e52c" stroke-width="1.0" opacity="0.7629870591139158"/>
<line x1="213.04" y1="750.50" x2="215.44" y2="750.50" stroke="#f3e52c" stroke-width="1.0" opacity="0.530667189772459"/>
<line x1="213.45" y1="750.50" x2="215.86" y2="750.50" stroke="#f3e52c" stroke-width="1.0" opacity="0.7512272751508643"/>
<line x1="59.92" y1="750.50" x2="60.88" y2="750.50" stroke="#f3e52c" stroke-width="1.0" opacity="0.5105192650736611"/>
<line x1="99.87" y1="750.50" x2="101.31" y2="750.50" stroke="#f3e52c" stroke-width="1.0" opacity="0.6098502156628953"/>
<line x1="186.14" y1="750.50" x2="187.58" y2="750.50" stroke="#f3e52c" stroke-width="1.0" opacity="0.6092436098935577"/>
<line x1="88.50" y1="626.28" x2="88.50" y2="573.10" stroke="#f3e52c" stroke-width="1" opacity="0.78"/>
<rect x="87.98" y="601.49" width="1.20" height="1.20" fill="#f3e52c" opacity="0.7"/>
<rect x="87.88" y="622.31" width="1.40" height="1.40" fill="#f3e52c" opacity="0.8"/>
<line x1="116.50" y1="626.28" x2="116.50" y2="573.10" stroke="#f3e52c" stroke-width="1" opacity="0.78"/>
<rect x="115.54" y="601.49" width="1.20" height="1.20" fill="#f3e52c" opacity="0.7"/>
<rect x="115.44" y="622.31" width="1.40" height="1.40" fill="#f3e52c" opacity="0.8"/>
<line x1="162.50" y1="626.28" x2="162.50" y2="573.10" stroke="#f3e52c" stroke-width="1" opacity="0.78"/>
<rect x="161.92" y="601.49" width="1.20" height="1.20" fill="#f3e52c" opacity="0.7"/>
<rect x="161.82" y="622.31" width="1.40" height="1.40" fill="#f3e52c" opacity="0.8"/>
<line x1="165.50" y1="626.28" x2="165.50" y2="573.10" stroke="#f3e52c" stroke-width="1.2" opacity="0.4"/>
<rect x="165.29" y="601.49" width="1.20" height="1.20" fill="#f3e52c" opacity="0.7"/>
<rect x="165.19" y="622.31" width="1.40" height="1.40" fill="#f3e52c" opacity="0.8"/>
<line x1="174.50" y1="626.28" x2="174.50" y2="573.10" stroke="#f3e52c" stroke-width="1" opacity="0.72"/>
<rect x="174.17" y="601.49" width="1.20" height="1.20" fill="#f3e52c" opacity="0.7"/>
<rect x="174.07" y="622.31" width="1.40" height="1.40" fill="#f3e52c" opacity="0.8"/>
<line x1="178.50" y1="626.28" x2="178.50" y2="573.10" stroke="#f3e52c" stroke-width="1.2" opacity="0.4"/>
<rect x="177.49" y="601.49" width="1.20" height="1.20" fill="#f3e52c" opacity="0.7"/>
<rect x="177.39" y="622.31" width="1.40" height="1.40" fill="#f3e52c" opacity="0.8"/>
<line x1="186.01" y1="626.28" x2="186.01" y2="573.10" stroke="#f3e52c" stroke-width="1.8" opacity="0.42"/>
<rect x="185.41" y="601.49" width="1.20" height="1.20" fill="#f3e52c" opacity="0.7"/>
<rect x="185.31" y="622.31" width="1.40" height="1.40" fill="#f3e52c" opacity="0.8"/>
<line x1="197.50" y1="626.28" x2="197.50" y2="573.10" stroke="#f3e52c" stroke-width="1" opacity="0.78"/>
<rect x="196.61" y="601.49" width="1.20" height="1.20" fill="#f3e52c" opacity="0.7"/>
<rect x="196.51" y="622.31" width="1.40" height="1.40" fill="#f3e52c" opacity="0.8"/>
<line x1="218.50" y1="626.28" x2="218.50" y2="573.10" stroke="#f3e52c" stroke-width="1" opacity="0.72"/>
<rect x="218.36" y="601.49" width="1.20" height="1.20" fill="#f3e52c" opacity="0.7"/>
<rect x="218.26" y="622.31" width="1.40" height="1.40" fill="#f3e52c" opacity="0.8"/>
<line x1="221.50" y1="626.28" x2="221.50" y2="573.10" stroke="#f3e52c" stroke-width="1" opacity="0.72"/>
<rect x="220.54" y="601.49" width="1.20" height="1.20" fill="#f3e52c" opacity="0.7"/>
<rect x="220.44" y="622.31" width="1.40" height="1.40" fill="#f3e52c" opacity="0.8"/>
<line x1="225.39" y1="626.28" x2="225.39" y2="573.10" stroke="#f3e52c" stroke-width="1.8" opacity="0.42"/>
<rect x="224.79" y="601.49" width="1.20" height="1.20" fill="#f3e52c" opacity="0.7"/>
<rect x="224.69" y="622.31" width="1.40" height="1.40" fill="#f3e52c" opacity="0.8"/>
<line x1="238.50" y1="626.28" x2="238.50" y2="573.10" stroke="#f3e52c" stroke-width="1" opacity="0.78"/>
<rect x="237.87" y="601.49" width="1.20" height="1.20" fill="#f3e52c" opacity="0.7"/>
<rect x="237.77" y="622.31" width="1.40" height="1.40" fill="#f3e52c" opacity="0.8"/>
<line x1="257.50" y1="626.28" x2="257.50" y2="573.10" stroke="#f3e52c" stroke-width="1" opacity="0.72"/>
<rect x="257.21" y="601.49" width="1.20" height="1.20" fill="#f3e52c" opacity="0.7"/>
<rect x="257.11" y="622.31" width="1.40" height="1.40" fill="#f3e52c" opacity="0.8"/>
<rect x="208.36" y="573.10" width="4.6" height="53.18" fill="#f3e52c" opacity="0.3"/>
<rect x="208.96" y="626.28" width="2.5" height="170.02" fill="#f3e52c" opacity="0.32"/>
<line x1="209.50" y1="796.30" x2="209.50" y2="573.10" stroke="#f3e52c" stroke-width="0.9" opacity="0.25" stroke-dasharray="4.3 2.3 5.3 1.6 4.6 2.8 5.6 1.4 4.6 2.2 4.0 2.9 4.1 1.9 5.8 2.3 3.2 1.6 4.0 1.1 4.4 2.5 3.7 2.7 5.7 2.1 4.7 1.2 2.2 3.0 3.1 1.4 5.6 2.5 2.5 1.6 3.0 1.5 2.0 2.0"/>
<line x1="46.80" y1="587.50" x2="270.80" y2="587.50" stroke="#f3e52c" stroke-width="1.3" opacity="0.85" stroke-dasharray="9.41 3.04" stroke-dashoffset="1.31"/>
<line x1="46.80" y1="591.50" x2="270.80" y2="591.50" stroke="#f3e52c" stroke-width="1.3" opacity="0.8" stroke-dasharray="9.41 3.04" stroke-dashoffset="-0.88"/>
</g>
<rect x="46.80" y="573.10" width="224.00" height="223.20" fill="none" stroke="#222" stroke-width="0.9"/>
<line x1="47.02" y1="796.30" x2="47.02" y2="799.90" stroke="#222" stroke-width="0.9"/>
<line x1="43.20" y1="796.08" x2="46.80" y2="796.08" stroke="#222" stroke-width="0.9"/>
<text x="47.02" y="811.50" font-size="10.2" text-anchor="middle" fill="#1a1a1a" textLength="5.90" lengthAdjust="spacingAndGlyphs">0</text>
<text x="39.20" y="800.43" font-size="10.2" text-anchor="end" fill="#1a1a1a" textLength="5.90" lengthAdjust="spacingAndGlyphs">0</text>
<line x1="90.77" y1="796.30" x2="90.77" y2="799.90" stroke="#222" stroke-width="0.9"/>
<line x1="43.20" y1="752.49" x2="46.80" y2="752.49" stroke="#222" stroke-width="0.9"/>
<text x="90.77" y="811.50" font-size="10.2" text-anchor="middle" fill="#1a1a1a" textLength="17.70" lengthAdjust="spacingAndGlyphs">100</text>
<text x="39.20" y="756.84" font-size="10.2" text-anchor="end" fill="#1a1a1a" textLength="17.70" lengthAdjust="spacingAndGlyphs">100</text>
<line x1="134.52" y1="796.30" x2="134.52" y2="799.90" stroke="#222" stroke-width="0.9"/>
<line x1="43.20" y1="708.89" x2="46.80" y2="708.89" stroke="#222" stroke-width="0.9"/>
<text x="134.52" y="811.50" font-size="10.2" text-anchor="middle" fill="#1a1a1a" textLength="17.70" lengthAdjust="spacingAndGlyphs">200</text>
<text x="39.20" y="713.25" font-size="10.2" text-anchor="end" fill="#1a1a1a" textLength="17.70" lengthAdjust="spacingAndGlyphs">200</text>
<line x1="178.27" y1="796.30" x2="178.27" y2="799.90" stroke="#222" stroke-width="0.9"/>
<line x1="43.20" y1="665.30" x2="46.80" y2="665.30" stroke="#222" stroke-width="0.9"/>
<text x="178.27" y="811.50" font-size="10.2" text-anchor="middle" fill="#1a1a1a" textLength="17.70" lengthAdjust="spacingAndGlyphs">300</text>
<text x="39.20" y="669.65" font-size="10.2" text-anchor="end" fill="#1a1a1a" textLength="17.70" lengthAdjust="spacingAndGlyphs">300</text>
<line x1="222.02" y1="796.30" x2="222.02" y2="799.90" stroke="#222" stroke-width="0.9"/>
<line x1="43.20" y1="621.71" x2="46.80" y2="621.71" stroke="#222" stroke-width="0.9"/>
<text x="222.02" y="811.50" font-size="10.2" text-anchor="middle" fill="#1a1a1a" textLength="17.70" lengthAdjust="spacingAndGlyphs">400</text>
<text x="39.20" y="626.06" font-size="10.2" text-anchor="end" fill="#1a1a1a" textLength="17.70" lengthAdjust="spacingAndGlyphs">400</text>
<line x1="265.77" y1="796.30" x2="265.77" y2="799.90" stroke="#222" stroke-width="0.9"/>
<line x1="43.20" y1="578.11" x2="46.80" y2="578.11" stroke="#222" stroke-width="0.9"/>
<text x="265.77" y="811.50" font-size="10.2" text-anchor="middle" fill="#1a1a1a" textLength="17.70" lengthAdjust="spacingAndGlyphs">500</text>
<text x="39.20" y="582.46" font-size="10.2" text-anchor="end" fill="#1a1a1a" textLength="17.70" lengthAdjust="spacingAndGlyphs">500</text>
<text x="158.90" y="825.50" font-size="10.7" text-anchor="middle" fill="#1a1a1a" textLength="39.90" lengthAdjust="spacingAndGlyphs">Time [s]</text>
<text x="14.40" y="685.20" font-size="10.7" text-anchor="middle" fill="#1a1a1a" textLength="75.30" lengthAdjust="spacingAndGlyphs" transform="rotate(-90 14.40 685.20)">Frequency Bins</text>
<text x="5.50" y="808.30" font-size="17.2" text-anchor="start" fill="#111" font-weight="bold">e</text>
<rect x="284.40" y="574.10" width="11.20" height="221.80" fill="url(#vir)" stroke="#222" stroke-width="0.9"/>
<line x1="295.60" y1="795.90" x2="299.20" y2="795.90" stroke="#222" stroke-width="0.9"/>
<text x="302.80" y="800.20" font-size="10.6" text-anchor="start" fill="#1a1a1a" textLength="15.90" lengthAdjust="spacingAndGlyphs">0.0</text>
<line x1="295.60" y1="751.54" x2="299.20" y2="751.54" stroke="#222" stroke-width="0.9"/>
<text x="302.80" y="755.84" font-size="10.6" text-anchor="start" fill="#1a1a1a" textLength="15.90" lengthAdjust="spacingAndGlyphs">0.2</text>
<line x1="295.60" y1="707.18" x2="299.20" y2="707.18" stroke="#222" stroke-width="0.9"/>
<text x="302.80" y="711.48" font-size="10.6" text-anchor="start" fill="#1a1a1a" textLength="15.90" lengthAdjust="spacingAndGlyphs">0.4</text>
<line x1="295.60" y1="662.82" x2="299.20" y2="662.82" stroke="#222" stroke-width="0.9"/>
<text x="302.80" y="667.12" font-size="10.6" text-anchor="start" fill="#1a1a1a" textLength="15.90" lengthAdjust="spacingAndGlyphs">0.6</text>
<line x1="295.60" y1="618.46" x2="299.20" y2="618.46" stroke="#222" stroke-width="0.9"/>
<text x="302.80" y="622.76" font-size="10.6" text-anchor="start" fill="#1a1a1a" textLength="15.90" lengthAdjust="spacingAndGlyphs">0.8</text>
<line x1="295.60" y1="574.10" x2="299.20" y2="574.10" stroke="#222" stroke-width="0.9"/>
<text x="302.80" y="578.40" font-size="10.6" text-anchor="start" fill="#1a1a1a" textLength="15.90" lengthAdjust="spacingAndGlyphs">1.0</text>
</g>
<g id="pg">
<rect x="221.20" y="848.30" width="234.30" height="234.00" fill="#410a59"/>
<clipPath id="clipg"><rect x="221.20" y="848.30" width="234.30" height="234.00"/></clipPath>
<g clip-path="url(#clipg)">
<rect x="310.23" y="1027.53" width="0.82" height="0.82" fill="#f3e52c" opacity="0.47"/>
<rect x="356.03" y="920.60" width="0.95" height="0.95" fill="#f3e52c" opacity="0.32"/>
<rect x="391.79" y="947.01" width="1.03" height="1.03" fill="#f3e52c" opacity="0.4"/>
<rect x="416.98" y="978.99" width="0.81" height="0.81" fill="#f3e52c" opacity="0.24"/>
<rect x="389.84" y="1042.16" width="0.98" height="0.98" fill="#f3e52c" opacity="0.39"/>
<rect x="235.36" y="898.77" width="0.77" height="0.77" fill="#f3e52c" opacity="0.46"/>
<rect x="417.29" y="1030.89" width="1.01" height="1.01" fill="#f3e52c" opacity="0.42"/>
<rect x="250.60" y="925.36" width="0.80" height="0.80" fill="#f3e52c" opacity="0.47"/>
<rect x="381.95" y="853.25" width="0.78" height="0.78" fill="#f3e52c" opacity="0.3"/>
<rect x="365.87" y="939.72" width="0.82" height="0.82" fill="#f3e52c" opacity="0.47"/>
<rect x="418.66" y="1011.09" width="0.81" height="0.81" fill="#f3e52c" opacity="0.4"/>
<rect x="316.27" y="926.84" width="0.93" height="0.93" fill="#f3e52c" opacity="0.32"/>
<rect x="226.47" y="1049.76" width="0.92" height="0.92" fill="#f3e52c" opacity="0.42"/>
<rect x="320.56" y="907.96" width="0.94" height="0.94" fill="#f3e52c" opacity="0.46"/>
<rect x="374.08" y="1006.33" width="0.81" height="0.81" fill="#f3e52c" opacity="0.22"/>
<rect x="230.58" y="880.45" width="1.06" height="1.06" fill="#f3e52c" opacity="0.43"/>
<rect x="246.95" y="927.56" width="0.80" height="0.80" fill="#f3e52c" opacity="0.47"/>
<rect x="374.07" y="906.75" width="0.97" height="0.97" fill="#f3e52c" opacity="0.33"/>
<rect x="419.08" y="857.48" width="0.84" height="0.84" fill="#f3e52c" opacity="0.33"/>
<rect x="392.27" y="922.99" width="0.90" height="0.90" fill="#f3e52c" opacity="0.34"/>
<rect x="446.86" y="1017.01" width="0.83" height="0.83" fill="#f3e52c" opacity="0.41"/>
<rect x="285.96" y="872.41" width="0.87" height="0.87" fill="#f3e52c" opacity="0.48"/>
<rect x="309.85" y="875.20" width="1.02" height="1.02" fill="#f3e52c" opacity="0.42"/>
<rect x="271.42" y="1043.02" width="0.77" height="0.77" fill="#f3e52c" opacity="0.25"/>
<rect x="376.72" y="1066.22" width="0.84" height="0.84" fill="#f3e52c" opacity="0.37"/>
<rect x="257.61" y="1004.64" width="0.84" height="0.84" fill="#f3e52c" opacity="0.4"/>
<rect x="249.01" y="849.08" width="0.96" height="0.96" fill="#f3e52c" opacity="0.41"/>
<rect x="350.05" y="965.26" width="1.09" height="1.09" fill="#f3e52c" opacity="0.47"/>
<rect x="412.86" y="1074.19" width="0.96" height="0.96" fill="#f3e52c" opacity="0.48"/>
<rect x="370.07" y="961.79" width="0.98" height="0.98" fill="#f3e52c" opacity="0.25"/>
<rect x="390.99" y="898.91" width="0.78" height="0.78" fill="#f3e52c" opacity="0.35"/>
<rect x="360.04" y="999.23" width="0.99" height="0.99" fill="#f3e52c" opacity="0.48"/>
<rect x="432.56" y="1009.61" width="0.81" height="0.81" fill="#f3e52c" opacity="0.46"/>
<rect x="363.90" y="888.12" width="1.06" height="1.06" fill="#f3e52c" opacity="0.28"/>
<rect x="358.19" y="1010.56" width="1.03" height="1.03" fill="#f3e52c" opacity="0.41"/>
<rect x="277.09" y="964.79" width="0.96" height="0.96" fill="#f3e52c" opacity="0.27"/>
<rect x="264.00" y="970.90" width="0.78" height="0.78" fill="#f3e52c" opacity="0.35"/>
<rect x="440.44" y="889.08" width="0.78" height="0.78" fill="#f3e52c" opacity="0.45"/>
<rect x="388.38" y="916.49" width="0.77" height="0.77" fill="#f3e52c" opacity="0.43"/>
<rect x="266.97" y="894.37" width="0.87" height="0.87" fill="#f3e52c" opacity="0.31"/>
<rect x="261.59" y="879.37" width="0.84" height="0.84" fill="#f3e52c" opacity="0.46"/>
<rect x="341.08" y="1046.58" width="0.98" height="0.98" fill="#f3e52c" opacity="0.36"/>
<rect x="227.76" y="889.60" width="0.85" height="0.85" fill="#f3e52c" opacity="0.21"/>
<rect x="399.95" y="912.04" width="0.89" height="0.89" fill="#f3e52c" opacity="0.26"/>
<rect x="344.13" y="944.70" width="0.99" height="0.99" fill="#f3e52c" opacity="0.35"/>
<rect x="353.74" y="913.53" width="0.82" height="0.82" fill="#f3e52c" opacity="0.25"/>
<rect x="334.21" y="905.66" width="1.03" height="1.03" fill="#f3e52c" opacity="0.46"/>
<rect x="323.73" y="915.19" width="0.80" height="0.80" fill="#f3e52c" opacity="0.32"/>
<rect x="236.89" y="886.75" width="1.10" height="1.10" fill="#f3e52c" opacity="0.4"/>
<rect x="396.64" y="994.51" width="1.03" height="1.03" fill="#f3e52c" opacity="0.23"/>
<rect x="307.69" y="999.48" width="1.05" height="1.05" fill="#f3e52c" opacity="0.25"/>
<rect x="258.43" y="1060.30" width="1.05" height="1.05" fill="#f3e52c" opacity="0.29"/>
<rect x="431.72" y="1008.28" width="1.04" height="1.04" fill="#f3e52c" opacity="0.26"/>
<rect x="431.57" y="854.58" width="1.06" height="1.06" fill="#f3e52c" opacity="0.41"/>
<rect x="430.13" y="868.37" width="1.09" height="1.09" fill="#f3e52c" opacity="0.28"/>
<rect x="419.41" y="899.80" width="0.88" height="0.88" fill="#f3e52c" opacity="0.25"/>
<rect x="430.97" y="971.26" width="0.94" height="0.94" fill="#f3e52c" opacity="0.47"/>
<rect x="334.09" y="1022.38" width="0.99" height="0.99" fill="#f3e52c" opacity="0.36"/>
<rect x="284.80" y="920.09" width="1.07" height="1.07" fill="#f3e52c" opacity="0.27"/>
<rect x="410.73" y="905.82" width="0.94" height="0.94" fill="#f3e52c" opacity="0.26"/>
<rect x="376.34" y="1015.73" width="0.85" height="0.85" fill="#f3e52c" opacity="0.46"/>
<rect x="284.39" y="1059.58" width="1.05" height="1.05" fill="#f3e52c" opacity="0.5"/>
<rect x="292.54" y="986.93" width="0.95" height="0.95" fill="#f3e52c" opacity="0.43"/>
<rect x="224.31" y="930.46" width="0.84" height="0.84" fill="#f3e52c" opacity="0.48"/>
<rect x="318.01" y="861.50" width="0.91" height="0.91" fill="#f3e52c" opacity="0.4"/>
<rect x="230.28" y="1034.03" width="0.86" height="0.86" fill="#f3e52c" opacity="0.31"/>
<rect x="261.80" y="983.27" width="0.79" height="0.79" fill="#f3e52c" opacity="0.37"/>
<rect x="445.69" y="881.72" width="0.97" height="0.97" fill="#f3e52c" opacity="0.49"/>
<rect x="391.12" y="933.62" width="0.92" height="0.92" fill="#f3e52c" opacity="0.22"/>
<rect x="429.42" y="872.62" width="1.03" height="1.03" fill="#f3e52c" opacity="0.41"/>
<rect x="410.64" y="858.08" width="1.09" height="1.09" fill="#f3e52c" opacity="0.43"/>
<rect x="225.20" y="860.76" width="0.95" height="0.95" fill="#f3e52c" opacity="0.34"/>
<rect x="321.89" y="1018.32" width="0.77" height="0.77" fill="#f3e52c" opacity="0.39"/>
<rect x="365.19" y="1060.98" width="1.07" height="1.07" fill="#f3e52c" opacity="0.47"/>
<rect x="422.85" y="956.15" width="0.89" height="0.89" fill="#f3e52c" opacity="0.34"/>
<rect x="307.67" y="858.79" width="1.07" height="1.07" fill="#f3e52c" opacity="0.47"/>
<rect x="342.46" y="962.24" width="0.99" height="0.99" fill="#f3e52c" opacity="0.29"/>
<rect x="264.35" y="852.07" width="0.85" height="0.85" fill="#f3e52c" opacity="0.28"/>
<rect x="336.09" y="1060.61" width="0.94" height="0.94" fill="#f3e52c" opacity="0.25"/>
<rect x="414.50" y="1062.05" width="1.03" height="1.03" fill="#f3e52c" opacity="0.28"/>
<rect x="404.89" y="894.80" width="1.08" height="1.08" fill="#f3e52c" opacity="0.25"/>
<rect x="450.81" y="1046.74" width="0.88" height="0.88" fill="#f3e52c" opacity="0.2"/>
<rect x="336.48" y="1062.07" width="0.95" height="0.95" fill="#f3e52c" opacity="0.48"/>
<rect x="403.57" y="930.54" width="0.79" height="0.79" fill="#f3e52c" opacity="0.5"/>
<rect x="306.44" y="860.34" width="0.81" height="0.81" fill="#f3e52c" opacity="0.29"/>
<rect x="442.22" y="907.43" width="0.82" height="0.82" fill="#f3e52c" opacity="0.34"/>
<rect x="347.80" y="1022.61" width="0.83" height="0.83" fill="#f3e52c" opacity="0.23"/>
<rect x="340.11" y="984.43" width="0.88" height="0.88" fill="#f3e52c" opacity="0.34"/>
<rect x="302.11" y="991.24" width="1.02" height="1.02" fill="#f3e52c" opacity="0.24"/>
<rect x="243.69" y="977.21" width="0.86" height="0.86" fill="#f3e52c" opacity="0.34"/>
<rect x="421.62" y="860.97" width="1.04" height="1.04" fill="#f3e52c" opacity="0.48"/>
<rect x="275.21" y="1000.67" width="0.80" height="0.80" fill="#f3e52c" opacity="0.29"/>
<rect x="282.15" y="1025.39" width="0.87" height="0.87" fill="#f3e52c" opacity="0.48"/>
<rect x="341.43" y="871.85" width="0.94" height="0.94" fill="#f3e52c" opacity="0.42"/>
<rect x="377.42" y="943.23" width="1.07" height="1.07" fill="#f3e52c" opacity="0.38"/>
<rect x="338.77" y="1027.85" width="0.79" height="0.79" fill="#f3e52c" opacity="0.33"/>
<rect x="315.96" y="1050.70" width="1.08" height="1.08" fill="#f3e52c" opacity="0.21"/>
<rect x="324.25" y="1023.79" width="0.90" height="0.90" fill="#f3e52c" opacity="0.45"/>
<rect x="445.89" y="988.41" width="1.00" height="1.00" fill="#f3e52c" opacity="0.47"/>
<rect x="289.03" y="988.87" width="0.91" height="0.91" fill="#f3e52c" opacity="0.45"/>
<rect x="292.10" y="872.64" width="0.82" height="0.82" fill="#f3e52c" opacity="0.4"/>
<rect x="368.39" y="1073.28" width="0.87" height="0.87" fill="#f3e52c" opacity="0.45"/>
<rect x="315.03" y="1067.85" width="0.92" height="0.92" fill="#f3e52c" opacity="0.36"/>
<rect x="330.70" y="983.13" width="1.08" height="1.08" fill="#f3e52c" opacity="0.4"/>
<rect x="324.83" y="977.15" width="1.02" height="1.02" fill="#f3e52c" opacity="0.27"/>
<rect x="333.77" y="904.33" width="0.79" height="0.79" fill="#f3e52c" opacity="0.24"/>
<rect x="233.20" y="925.28" width="1.03" height="1.03" fill="#f3e52c" opacity="0.4"/>
<rect x="365.85" y="1073.79" width="0.88" height="0.88" fill="#f3e52c" opacity="0.34"/>
<rect x="299.89" y="1022.94" width="0.89" height="0.89" fill="#f3e52c" opacity="0.27"/>
<rect x="237.81" y="948.36" width="0.77" height="0.77" fill="#f3e52c" opacity="0.33"/>
<rect x="314.94" y="892.61" width="1.00" height="1.00" fill="#f3e52c" opacity="0.34"/>
<rect x="222.80" y="915.54" width="1.01" height="1.01" fill="#f3e52c" opacity="0.39"/>
<rect x="452.18" y="966.75" width="0.89" height="0.89" fill="#f3e52c" opacity="0.36"/>
<rect x="245.88" y="935.46" width="0.80" height="0.80" fill="#f3e52c" opacity="0.4"/>
<rect x="364.00" y="921.90" width="0.82" height="0.82" fill="#f3e52c" opacity="0.41"/>
<rect x="441.03" y="851.81" width="1.02" height="1.02" fill="#f3e52c" opacity="0.25"/>
<rect x="401.68" y="1039.83" width="1.09" height="1.09" fill="#f3e52c" opacity="0.21"/>
<rect x="225.39" y="987.73" width="0.79" height="0.79" fill="#f3e52c" opacity="0.49"/>
<rect x="438.06" y="1020.68" width="1.06" height="1.06" fill="#f3e52c" opacity="0.3"/>
<rect x="411.91" y="1052.09" width="1.08" height="1.08" fill="#f3e52c" opacity="0.33"/>
<rect x="276.47" y="977.73" width="0.76" height="0.76" fill="#f3e52c" opacity="0.21"/>
<rect x="331.92" y="942.38" width="1.10" height="1.10" fill="#f3e52c" opacity="0.36"/>
<rect x="299.76" y="1020.41" width="0.77" height="0.77" fill="#f3e52c" opacity="0.47"/>
<rect x="384.30" y="1019.59" width="1.02" height="1.02" fill="#f3e52c" opacity="0.41"/>
<rect x="370.24" y="975.92" width="1.06" height="1.06" fill="#f3e52c" opacity="0.48"/>
<rect x="398.04" y="1037.97" width="0.91" height="0.91" fill="#f3e52c" opacity="0.39"/>
<rect x="443.11" y="963.64" width="0.92" height="0.92" fill="#f3e52c" opacity="0.22"/>
<rect x="236.39" y="1018.65" width="0.99" height="0.99" fill="#f3e52c" opacity="0.26"/>
<rect x="397.29" y="931.63" width="0.86" height="0.86" fill="#f3e52c" opacity="0.36"/>
<rect x="415.77" y="1073.85" width="0.97" height="0.97" fill="#f3e52c" opacity="0.43"/>
<rect x="446.53" y="1003.81" width="0.98" height="0.98" fill="#f3e52c" opacity="0.44"/>
<rect x="291.98" y="900.76" width="1.01" height="1.01" fill="#f3e52c" opacity="0.49"/>
<rect x="317.96" y="1055.75" width="0.94" height="0.94" fill="#f3e52c" opacity="0.4"/>
<rect x="434.27" y="905.20" width="0.95" height="0.95" fill="#f3e52c" opacity="0.46"/>
<rect x="419.59" y="938.80" width="0.85" height="0.85" fill="#f3e52c" opacity="0.2"/>
<rect x="357.99" y="1078.08" width="0.88" height="0.88" fill="#f3e52c" opacity="0.5"/>
<rect x="281.55" y="920.82" width="1.01" height="1.01" fill="#f3e52c" opacity="0.3"/>
<rect x="361.53" y="875.08" width="1.01" height="1.01" fill="#f3e52c" opacity="0.3"/>
<rect x="453.14" y="925.15" width="0.84" height="0.84" fill="#f3e52c" opacity="0.44"/>
<rect x="403.92" y="876.98" width="1.04" height="1.04" fill="#f3e52c" opacity="0.44"/>
<rect x="312.44" y="905.24" width="1.02" height="1.02" fill="#f3e52c" opacity="0.45"/>
<rect x="271.52" y="851.67" width="0.96" height="0.96" fill="#f3e52c" opacity="0.47"/>
<rect x="341.83" y="899.55" width="0.97" height="0.97" fill="#f3e52c" opacity="0.29"/>
<rect x="335.72" y="890.06" width="0.85" height="0.85" fill="#f3e52c" opacity="0.48"/>
<rect x="391.85" y="897.83" width="0.94" height="0.94" fill="#f3e52c" opacity="0.41"/>
<rect x="369.52" y="984.62" width="0.76" height="0.76" fill="#f3e52c" opacity="0.37"/>
<rect x="382.23" y="952.12" width="0.90" height="0.90" fill="#f3e52c" opacity="0.36"/>
<rect x="245.88" y="931.37" width="0.78" height="0.78" fill="#f3e52c" opacity="0.24"/>
<rect x="239.87" y="859.48" width="1.07" height="1.07" fill="#f3e52c" opacity="0.39"/>
<rect x="439.79" y="1032.39" width="0.99" height="0.99" fill="#f3e52c" opacity="0.34"/>
<rect x="246.58" y="946.90" width="0.80" height="0.80" fill="#f3e52c" opacity="0.28"/>
<rect x="254.57" y="1023.95" width="1.06" height="1.06" fill="#f3e52c" opacity="0.35"/>
<rect x="349.47" y="1047.61" width="0.81" height="0.81" fill="#f3e52c" opacity="0.23"/>
<rect x="384.74" y="946.52" width="1.01" height="1.01" fill="#f3e52c" opacity="0.38"/>
<rect x="279.92" y="988.46" width="0.88" height="0.88" fill="#f3e52c" opacity="0.48"/>
<rect x="385.12" y="887.47" width="0.98" height="0.98" fill="#f3e52c" opacity="0.49"/>
<rect x="399.59" y="1081.14" width="0.79" height="0.79" fill="#f3e52c" opacity="0.21"/>
<rect x="429.55" y="1032.30" width="0.92" height="0.92" fill="#f3e52c" opacity="0.38"/>
<rect x="273.55" y="1016.88" width="1.06" height="1.06" fill="#f3e52c" opacity="0.25"/>
<rect x="415.12" y="972.06" width="0.99" height="0.99" fill="#f3e52c" opacity="0.32"/>
<rect x="379.47" y="917.28" width="0.90" height="0.90" fill="#f3e52c" opacity="0.29"/>
<rect x="321.55" y="907.80" width="0.76" height="0.76" fill="#f3e52c" opacity="0.26"/>
<rect x="303.12" y="918.98" width="0.93" height="0.93" fill="#f3e52c" opacity="0.27"/>
<rect x="426.02" y="947.37" width="1.06" height="1.06" fill="#f3e52c" opacity="0.31"/>
<rect x="442.83" y="946.02" width="0.88" height="0.88" fill="#f3e52c" opacity="0.25"/>
<rect x="407.82" y="1040.54" width="1.04" height="1.04" fill="#f3e52c" opacity="0.44"/>
<rect x="252.20" y="911.80" width="1.00" height="1.00" fill="#f3e52c" opacity="0.23"/>
<rect x="398.30" y="860.25" width="0.87" height="0.87" fill="#f3e52c" opacity="0.36"/>
<rect x="317.10" y="1025.70" width="0.81" height="0.81" fill="#f3e52c" opacity="0.4"/>
<rect x="446.87" y="1051.71" width="0.77" height="0.77" fill="#f3e52c" opacity="0.36"/>
<rect x="283.26" y="879.21" width="0.86" height="0.86" fill="#f3e52c" opacity="0.21"/>
<rect x="293.71" y="985.68" width="0.91" height="0.91" fill="#f3e52c" opacity="0.32"/>
<rect x="287.86" y="857.16" width="0.76" height="0.76" fill="#f3e52c" opacity="0.27"/>
<rect x="412.44" y="1034.34" width="0.83" height="0.83" fill="#f3e52c" opacity="0.32"/>
<rect x="368.63" y="889.33" width="1.03" height="1.03" fill="#f3e52c" opacity="0.25"/>
<rect x="438.46" y="1040.39" width="1.03" height="1.03" fill="#f3e52c" opacity="0.46"/>
<rect x="248.35" y="993.14" width="0.83" height="0.83" fill="#f3e52c" opacity="0.34"/>
<rect x="403.59" y="894.34" width="1.02" height="1.02" fill="#f3e52c" opacity="0.21"/>
<rect x="288.85" y="866.37" width="1.01" height="1.01" fill="#f3e52c" opacity="0.43"/>
<rect x="261.96" y="1044.89" width="0.93" height="0.93" fill="#f3e52c" opacity="0.38"/>
<rect x="250.43" y="877.67" width="0.95" height="0.95" fill="#f3e52c" opacity="0.48"/>
<rect x="432.58" y="988.17" width="0.85" height="0.85" fill="#f3e52c" opacity="0.45"/>
<rect x="337.26" y="941.44" width="1.01" height="1.01" fill="#f3e52c" opacity="0.49"/>
<rect x="341.27" y="974.40" width="1.05" height="1.05" fill="#f3e52c" opacity="0.22"/>
<rect x="323.52" y="1030.09" width="0.97" height="0.97" fill="#f3e52c" opacity="0.45"/>
<rect x="320.70" y="1032.93" width="0.80" height="0.80" fill="#f3e52c" opacity="0.47"/>
<rect x="357.82" y="863.59" width="0.85" height="0.85" fill="#f3e52c" opacity="0.29"/>
<rect x="263.28" y="932.80" width="0.95" height="0.95" fill="#f3e52c" opacity="0.46"/>
<rect x="358.71" y="1003.45" width="0.79" height="0.79" fill="#f3e52c" opacity="0.44"/>
<rect x="442.34" y="1004.86" width="0.87" height="0.87" fill="#f3e52c" opacity="0.36"/>
<rect x="308.85" y="907.95" width="0.92" height="0.92" fill="#f3e52c" opacity="0.34"/>
<rect x="309.30" y="1022.75" width="1.07" height="1.07" fill="#f3e52c" opacity="0.48"/>
<rect x="270.25" y="993.67" width="1.00" height="1.00" fill="#f3e52c" opacity="0.31"/>
<rect x="324.31" y="949.94" width="0.85" height="0.85" fill="#f3e52c" opacity="0.32"/>
<rect x="388.80" y="862.75" width="0.78" height="0.78" fill="#f3e52c" opacity="0.46"/>
<rect x="241.78" y="928.13" width="0.78" height="0.78" fill="#f3e52c" opacity="0.36"/>
<rect x="274.79" y="893.08" width="0.77" height="0.77" fill="#f3e52c" opacity="0.35"/>
<rect x="445.25" y="957.51" width="0.91" height="0.91" fill="#f3e52c" opacity="0.39"/>
<rect x="406.40" y="921.69" width="0.90" height="0.90" fill="#f3e52c" opacity="0.26"/>
<rect x="403.64" y="963.95" width="1.09" height="1.09" fill="#f3e52c" opacity="0.3"/>
<rect x="292.78" y="972.66" width="1.10" height="1.10" fill="#f3e52c" opacity="0.43"/>
<rect x="289.95" y="920.02" width="1.04" height="1.04" fill="#f3e52c" opacity="0.22"/>
<rect x="395.23" y="970.65" width="1.06" height="1.06" fill="#f3e52c" opacity="0.43"/>
<rect x="306.70" y="1062.28" width="0.90" height="0.90" fill="#f3e52c" opacity="0.31"/>
<rect x="268.83" y="921.07" width="1.05" height="1.05" fill="#f3e52c" opacity="0.33"/>
<rect x="248.43" y="951.04" width="0.88" height="0.88" fill="#f3e52c" opacity="0.21"/>
<rect x="244.13" y="990.78" width="0.77" height="0.77" fill="#f3e52c" opacity="0.24"/>
<rect x="441.78" y="957.03" width="0.82" height="0.82" fill="#f3e52c" opacity="0.21"/>
<rect x="288.07" y="1005.83" width="1.08" height="1.08" fill="#f3e52c" opacity="0.26"/>
<rect x="435.72" y="964.18" width="1.03" height="1.03" fill="#f3e52c" opacity="0.37"/>
<rect x="444.90" y="857.81" width="0.97" height="0.97" fill="#f3e52c" opacity="0.3"/>
<rect x="290.71" y="1043.14" width="0.84" height="0.84" fill="#f3e52c" opacity="0.38"/>
<rect x="318.44" y="955.43" width="1.08" height="1.08" fill="#f3e52c" opacity="0.42"/>
<rect x="438.98" y="903.21" width="0.84" height="0.84" fill="#f3e52c" opacity="0.21"/>
<rect x="384.45" y="1046.99" width="0.98" height="0.98" fill="#f3e52c" opacity="0.23"/>
<rect x="356.37" y="958.37" width="0.92" height="0.92" fill="#f3e52c" opacity="0.44"/>
<rect x="384.39" y="1029.76" width="0.93" height="0.93" fill="#f3e52c" opacity="0.32"/>
<rect x="311.63" y="1028.39" width="0.84" height="0.84" fill="#f3e52c" opacity="0.38"/>
<rect x="235.91" y="981.34" width="0.93" height="0.93" fill="#f3e52c" opacity="0.34"/>
<rect x="382.48" y="893.89" width="0.94" height="0.94" fill="#f3e52c" opacity="0.25"/>
<rect x="262.65" y="864.07" width="0.92" height="0.92" fill="#f3e52c" opacity="0.35"/>
<rect x="272.49" y="934.60" width="0.89" height="0.89" fill="#f3e52c" opacity="0.37"/>
<rect x="350.29" y="869.03" width="1.02" height="1.02" fill="#f3e52c" opacity="0.47"/>
<rect x="424.82" y="1059.80" width="0.97" height="0.97" fill="#f3e52c" opacity="0.28"/>
<rect x="300.96" y="961.59" width="0.94" height="0.94" fill="#f3e52c" opacity="0.37"/>
<rect x="323.45" y="1056.04" width="1.09" height="1.09" fill="#f3e52c" opacity="0.21"/>
<rect x="441.85" y="851.39" width="0.99" height="0.99" fill="#f3e52c" opacity="0.26"/>
<rect x="384.90" y="1003.53" width="0.88" height="0.88" fill="#f3e52c" opacity="0.45"/>
<rect x="390.32" y="1075.45" width="1.08" height="1.08" fill="#f3e52c" opacity="0.32"/>
<rect x="291.01" y="990.95" width="0.83" height="0.83" fill="#f3e52c" opacity="0.33"/>
<line x1="264.50" y1="904.06" x2="264.50" y2="848.30" stroke="#f3e52c" stroke-width="1.0" opacity="0.72"/>
<line x1="293.50" y1="904.06" x2="293.50" y2="848.30" stroke="#f3e52c" stroke-width="1.0" opacity="0.72"/>
<line x1="342.50" y1="904.06" x2="342.50" y2="848.30" stroke="#f3e52c" stroke-width="1.0" opacity="0.72"/>
<line x1="345.50" y1="904.06" x2="345.50" y2="848.30" stroke="#f3e52c" stroke-width="1.0" opacity="0.396"/>
<line x1="354.50" y1="904.06" x2="354.50" y2="848.30" stroke="#f3e52c" stroke-width="1.0" opacity="0.396"/>
<line x1="358.50" y1="904.06" x2="358.50" y2="848.30" stroke="#f3e52c" stroke-width="1.0" opacity="0.72"/>
<line x1="366.50" y1="904.06" x2="366.50" y2="848.30" stroke="#f3e52c" stroke-width="1.0" opacity="0.72"/>
<line x1="378.50" y1="904.06" x2="378.50" y2="848.30" stroke="#f3e52c" stroke-width="1.0" opacity="0.72"/>
<line x1="401.50" y1="904.06" x2="401.50" y2="848.30" stroke="#f3e52c" stroke-width="1.0" opacity="0.396"/>
<line x1="403.50" y1="904.06" x2="403.50" y2="848.30" stroke="#f3e52c" stroke-width="1.0" opacity="0.396"/>
<line x1="408.50" y1="904.06" x2="408.50" y2="848.30" stroke="#f3e52c" stroke-width="1.0" opacity="0.72"/>
<line x1="421.50" y1="904.06" x2="421.50" y2="848.30" stroke="#f3e52c" stroke-width="1.0" opacity="0.72"/>
<line x1="441.50" y1="904.06" x2="441.50" y2="848.30" stroke="#f3e52c" stroke-width="1.0" opacity="0.396"/>
<line x1="391.50" y1="1082.30" x2="391.50" y2="848.30" stroke="#f3e52c" stroke-width="1.1" opacity="0.85"/>
<line x1="393.50" y1="1082.30" x2="393.50" y2="848.30" stroke="#f3e52c" stroke-width="1.1" opacity="0.8"/>
<line x1="221.20" y1="857.94" x2="455.50" y2="857.94" stroke="#f3e52c" stroke-width="2.3" opacity="1.0"/>
<line x1="203.02" y1="856.49" x2="206.02" y2="859.39" stroke="#410a59" stroke-width="1.0" opacity="0.9"/>
<line x1="216.04" y1="856.49" x2="219.04" y2="859.39" stroke="#410a59" stroke-width="1.0" opacity="0.9"/>
<line x1="229.06" y1="856.49" x2="232.06" y2="859.39" stroke="#410a59" stroke-width="1.0" opacity="0.9"/>
<line x1="242.07" y1="856.49" x2="245.07" y2="859.39" stroke="#410a59" stroke-width="1.0" opacity="0.9"/>
<line x1="255.09" y1="856.49" x2="258.09" y2="859.39" stroke="#410a59" stroke-width="1.0" opacity="0.9"/>
<line x1="268.11" y1="856.49" x2="271.11" y2="859.39" stroke="#410a59" stroke-width="1.0" opacity="0.9"/>
<line x1="281.12" y1="856.49" x2="284.12" y2="859.39" stroke="#410a59" stroke-width="1.0" opacity="0.9"/>
<line x1="294.14" y1="856.49" x2="297.14" y2="859.39" stroke="#410a59" stroke-width="1.0" opacity="0.9"/>
<line x1="307.16" y1="856.49" x2="310.16" y2="859.39" stroke="#410a59" stroke-width="1.0" opacity="0.9"/>
<line x1="320.17" y1="856.49" x2="323.17" y2="859.39" stroke="#410a59" stroke-width="1.0" opacity="0.9"/>
<line x1="333.19" y1="856.49" x2="336.19" y2="859.39" stroke="#410a59" stroke-width="1.0" opacity="0.9"/>
<line x1="346.21" y1="856.49" x2="349.21" y2="859.39" stroke="#410a59" stroke-width="1.0" opacity="0.9"/>
<line x1="359.22" y1="856.49" x2="362.22" y2="859.39" stroke="#410a59" stroke-width="1.0" opacity="0.9"/>
<line x1="372.24" y1="856.49" x2="375.24" y2="859.39" stroke="#410a59" stroke-width="1.0" opacity="0.9"/>
<line x1="385.26" y1="856.49" x2="388.26" y2="859.39" stroke="#410a59" stroke-width="1.0" opacity="0.9"/>
<line x1="398.27" y1="856.49" x2="401.27" y2="859.39" stroke="#410a59" stroke-width="1.0" opacity="0.9"/>
<line x1="411.29" y1="856.49" x2="414.29" y2="859.39" stroke="#410a59" stroke-width="1.0" opacity="0.9"/>
<line x1="424.31" y1="856.49" x2="427.31" y2="859.39" stroke="#410a59" stroke-width="1.0" opacity="0.9"/>
<line x1="437.32" y1="856.49" x2="440.32" y2="859.39" stroke="#410a59" stroke-width="1.0" opacity="0.9"/>
<line x1="450.34" y1="856.49" x2="453.34" y2="859.39" stroke="#410a59" stroke-width="1.0" opacity="0.9"/>
<line x1="221.20" y1="863.50" x2="455.50" y2="863.50" stroke="#f3e52c" stroke-width="1.1" opacity="0.95" stroke-dasharray="10.75 2.26" stroke-dashoffset="1.37"/>
<line x1="221.20" y1="867.63" x2="455.50" y2="867.63" stroke="#f3e52c" stroke-width="1.7" opacity="0.62" stroke-dasharray="9.84 3.18" stroke-dashoffset="2.29"/>
<line x1="221.20" y1="879.50" x2="455.50" y2="879.50" stroke="#f3e52c" stroke-width="1.3" opacity="0.95" stroke-dasharray="10.07 2.95" stroke-dashoffset="-3.89"/>
<line x1="221.20" y1="900.63" x2="455.50" y2="900.63" stroke="#f3e52c" stroke-width="1.7" opacity="0.8" stroke-dasharray="10.75 2.26" stroke-dashoffset="1.83"/>
<line x1="221.20" y1="969.50" x2="455.50" y2="969.50" stroke="#f3e52c" stroke-width="1.3" opacity="0.8" stroke-dasharray="9.15 3.86" stroke-dashoffset="-2.97"/>
<line x1="221.20" y1="978.42" x2="455.50" y2="978.42" stroke="#f3e52c" stroke-width="1.5" opacity="0.92"/>
<line x1="221.20" y1="1000.72" x2="455.50" y2="1000.72" stroke="#f3e52c" stroke-width="2.4" opacity="1.0"/>
<line x1="221.20" y1="999.50" x2="455.50" y2="999.50" stroke="#f3e52c" stroke-width="1.0" opacity="0.6" stroke-dasharray="5.49 7.52" stroke-dashoffset="-0.92"/>
<line x1="221.20" y1="1003.78" x2="455.50" y2="1003.78" stroke="#f3e52c" stroke-width="1.7" opacity="0.62" stroke-dasharray="7.32 5.69" stroke-dashoffset="-8.69"/>
<line x1="221.20" y1="1016.03" x2="455.50" y2="1016.03" stroke="#f3e52c" stroke-width="1.8" opacity="0.62" stroke-dasharray="9.15 3.86" stroke-dashoffset="4.58"/>
<line x1="221.20" y1="1034.50" x2="455.50" y2="1034.50" stroke="#f3e52c" stroke-width="1.3" opacity="0.7" stroke-dasharray="7.09 5.92" stroke-dashoffset="-2.97"/>
<line x1="221.20" y1="1080.50" x2="455.50" y2="1080.50" stroke="#f3e52c" stroke-width="1.3" opacity="0.65" stroke-dasharray="8.69 4.32" stroke-dashoffset="3.66"/>
</g>
<rect x="221.20" y="848.30" width="234.30" height="234.00" fill="none" stroke="#222" stroke-width="0.9"/>
<line x1="221.43" y1="1082.30" x2="221.43" y2="1085.30" stroke="#222" stroke-width="0.9"/>
<line x1="218.20" y1="1082.07" x2="221.20" y2="1082.07" stroke="#222" stroke-width="0.9"/>
<text x="221.43" y="1094.70" font-size="8.6" text-anchor="middle" fill="#1a1a1a" textLength="4.95" lengthAdjust="spacingAndGlyphs">0</text>
<text x="214.50" y="1085.85" font-size="8.6" text-anchor="end" fill="#1a1a1a" textLength="4.95" lengthAdjust="spacingAndGlyphs">0</text>
<line x1="267.19" y1="1082.30" x2="267.19" y2="1085.30" stroke="#222" stroke-width="0.9"/>
<line x1="218.20" y1="1036.37" x2="221.20" y2="1036.37" stroke="#222" stroke-width="0.9"/>
<text x="267.19" y="1094.70" font-size="8.6" text-anchor="middle" fill="#1a1a1a" textLength="14.85" lengthAdjust="spacingAndGlyphs">100</text>
<text x="214.50" y="1040.15" font-size="8.6" text-anchor="end" fill="#1a1a1a" textLength="14.85" lengthAdjust="spacingAndGlyphs">100</text>
<line x1="312.95" y1="1082.30" x2="312.95" y2="1085.30" stroke="#222" stroke-width="0.9"/>
<line x1="218.20" y1="990.67" x2="221.20" y2="990.67" stroke="#222" stroke-width="0.9"/>
<text x="312.95" y="1094.70" font-size="8.6" text-anchor="middle" fill="#1a1a1a" textLength="14.85" lengthAdjust="spacingAndGlyphs">200</text>
<text x="214.50" y="994.44" font-size="8.6" text-anchor="end" fill="#1a1a1a" textLength="14.85" lengthAdjust="spacingAndGlyphs">200</text>
<line x1="358.71" y1="1082.30" x2="358.71" y2="1085.30" stroke="#222" stroke-width="0.9"/>
<line x1="218.20" y1="944.96" x2="221.20" y2="944.96" stroke="#222" stroke-width="0.9"/>
<text x="358.71" y="1094.70" font-size="8.6" text-anchor="middle" fill="#1a1a1a" textLength="14.85" lengthAdjust="spacingAndGlyphs">300</text>
<text x="214.50" y="948.74" font-size="8.6" text-anchor="end" fill="#1a1a1a" textLength="14.85" lengthAdjust="spacingAndGlyphs">300</text>
<line x1="404.48" y1="1082.30" x2="404.48" y2="1085.30" stroke="#222" stroke-width="0.9"/>
<line x1="218.20" y1="899.26" x2="221.20" y2="899.26" stroke="#222" stroke-width="0.9"/>
<text x="404.48" y="1094.70" font-size="8.6" text-anchor="middle" fill="#1a1a1a" textLength="14.85" lengthAdjust="spacingAndGlyphs">400</text>
<text x="214.50" y="903.04" font-size="8.6" text-anchor="end" fill="#1a1a1a" textLength="14.85" lengthAdjust="spacingAndGlyphs">400</text>
<line x1="450.24" y1="1082.30" x2="450.24" y2="1085.30" stroke="#222" stroke-width="0.9"/>
<line x1="218.20" y1="853.56" x2="221.20" y2="853.56" stroke="#222" stroke-width="0.9"/>
<text x="450.24" y="1094.70" font-size="8.6" text-anchor="middle" fill="#1a1a1a" textLength="14.85" lengthAdjust="spacingAndGlyphs">500</text>
<text x="214.50" y="857.33" font-size="8.6" text-anchor="end" fill="#1a1a1a" textLength="14.85" lengthAdjust="spacingAndGlyphs">500</text>
<text x="338.20" y="1106.50" font-size="9.2" text-anchor="middle" fill="#1a1a1a" textLength="34.10" lengthAdjust="spacingAndGlyphs">Time [s]</text>
<text x="194.00" y="965.50" font-size="9.2" text-anchor="middle" fill="#1a1a1a" textLength="63.80" lengthAdjust="spacingAndGlyphs" transform="rotate(-90 194.00 965.50)">Frequency Bins</text>
<text x="192.00" y="1095.30" font-size="16.8" text-anchor="start" fill="#111" font-weight="bold">g</text>
<rect x="466.10" y="853.60" width="11.30" height="221.90" fill="url(#vir)" stroke="#222" stroke-width="0.9"/>
<line x1="477.40" y1="1075.50" x2="481.00" y2="1075.50" stroke="#222" stroke-width="0.9"/>
<text x="484.60" y="1079.80" font-size="10.6" text-anchor="start" fill="#1a1a1a" textLength="15.90" lengthAdjust="spacingAndGlyphs">0.0</text>
<line x1="477.40" y1="1031.12" x2="481.00" y2="1031.12" stroke="#222" stroke-width="0.9"/>
<text x="484.60" y="1035.42" font-size="10.6" text-anchor="start" fill="#1a1a1a" textLength="15.90" lengthAdjust="spacingAndGlyphs">0.2</text>
<line x1="477.40" y1="986.74" x2="481.00" y2="986.74" stroke="#222" stroke-width="0.9"/>
<text x="484.60" y="991.04" font-size="10.6" text-anchor="start" fill="#1a1a1a" textLength="15.90" lengthAdjust="spacingAndGlyphs">0.4</text>
<line x1="477.40" y1="942.36" x2="481.00" y2="942.36" stroke="#222" stroke-width="0.9"/>
<text x="484.60" y="946.66" font-size="10.6" text-anchor="start" fill="#1a1a1a" textLength="15.90" lengthAdjust="spacingAndGlyphs">0.6</text>
<line x1="477.40" y1="897.98" x2="481.00" y2="897.98" stroke="#222" stroke-width="0.9"/>
<text x="484.60" y="902.28" font-size="10.6" text-anchor="start" fill="#1a1a1a" textLength="15.90" lengthAdjust="spacingAndGlyphs">0.8</text>
<line x1="477.40" y1="853.60" x2="481.00" y2="853.60" stroke="#222" stroke-width="0.9"/>
<text x="484.60" y="857.90" font-size="10.6" text-anchor="start" fill="#1a1a1a" textLength="15.90" lengthAdjust="spacingAndGlyphs">1.0</text>
</g>
<g id="pc">
<rect x="36.20" y="286.00" width="240.60" height="239.50" fill="#410a59"/>
<clipPath id="clipc"><rect x="36.20" y="286.00" width="240.60" height="239.50"/></clipPath>
<g clip-path="url(#clipc)">
<rect x="94.73" y="404.80" width="0.85" height="0.85" fill="#f3e52c" opacity="0.55"/>
<rect x="91.71" y="392.75" width="1.08" height="1.08" fill="#f3e52c" opacity="0.42"/>
<rect x="267.93" y="350.16" width="0.96" height="0.96" fill="#f3e52c" opacity="0.49"/>
<rect x="176.54" y="438.48" width="1.10" height="1.10" fill="#f3e52c" opacity="0.42"/>
<rect x="271.83" y="321.40" width="0.81" height="0.81" fill="#f3e52c" opacity="0.38"/>
<rect x="150.75" y="330.42" width="0.85" height="0.85" fill="#f3e52c" opacity="0.48"/>
<rect x="124.20" y="337.19" width="1.08" height="1.08" fill="#f3e52c" opacity="0.53"/>
<rect x="82.67" y="343.31" width="0.93" height="0.93" fill="#f3e52c" opacity="0.55"/>
<rect x="148.81" y="308.38" width="1.10" height="1.10" fill="#f3e52c" opacity="0.55"/>
<rect x="234.01" y="329.30" width="0.98" height="0.98" fill="#f3e52c" opacity="0.35"/>
<rect x="272.39" y="413.88" width="0.80" height="0.80" fill="#f3e52c" opacity="0.43"/>
<rect x="135.62" y="476.43" width="1.09" height="1.09" fill="#f3e52c" opacity="0.33"/>
<rect x="252.74" y="393.48" width="0.85" height="0.85" fill="#f3e52c" opacity="0.41"/>
<rect x="144.10" y="496.28" width="1.03" height="1.03" fill="#f3e52c" opacity="0.5"/>
<rect x="271.34" y="326.68" width="1.04" height="1.04" fill="#f3e52c" opacity="0.6"/>
<rect x="259.32" y="370.99" width="0.96" height="0.96" fill="#f3e52c" opacity="0.46"/>
<rect x="231.05" y="303.96" width="1.05" height="1.05" fill="#f3e52c" opacity="0.55"/>
<rect x="43.04" y="424.23" width="0.83" height="0.83" fill="#f3e52c" opacity="0.48"/>
<rect x="175.13" y="390.76" width="1.06" height="1.06" fill="#f3e52c" opacity="0.37"/>
<rect x="210.81" y="384.74" width="0.86" height="0.86" fill="#f3e52c" opacity="0.59"/>
<rect x="49.24" y="413.63" width="0.96" height="0.96" fill="#f3e52c" opacity="0.48"/>
<rect x="271.26" y="392.96" width="1.07" height="1.07" fill="#f3e52c" opacity="0.39"/>
<rect x="151.56" y="489.33" width="0.99" height="0.99" fill="#f3e52c" opacity="0.43"/>
<rect x="224.16" y="497.56" width="0.94" height="0.94" fill="#f3e52c" opacity="0.59"/>
<rect x="39.10" y="367.08" width="1.00" height="1.00" fill="#f3e52c" opacity="0.52"/>
<line x1="64.40" y1="287.40" x2="271.16" y2="287.40" stroke="#f3e52c" stroke-width="0.9" opacity="0.5" stroke-dasharray="1.2 6.7 0.6 2.4 1.1 5.7 1.0 3.5 1.0 5.0 0.9 2.8 0.9 4.0 1.0 7.0 1.2 4.7 0.9 3.3 0.6 2.1 0.9 3.6 0.8 6.5 0.9 4.8 0.7 2.1 0.8 2.7 0.9 7.0 1.0 2.9 1.1 6.0 1.0 6.5 1.1 5.9 0.8 6.9 1.2 2.8 1.1 5.6 0.9 4.7 0.9 6.6 0.9 6.2 0.8 6.4 1.1 4.3 0.9 6.6 1.0 4.4 0.7 3.6 1.0 2.8 1.1 3.3 1.1 3.5 1.2 5.5 0.9 4.6 1.0 4.9 0.8 3.0 0.9 6.7"/>
<line x1="64.40" y1="290.68" x2="271.16" y2="290.68" stroke="#f3e52c" stroke-width="0.9" opacity="0.45" stroke-dasharray="0.7 14.4 0.7 14.8 0.9 10.5 0.6 16.7 0.7 11.9 1.0 13.8 0.9 13.8 0.9 11.2 0.9 16.9 0.8 15.9 0.9 10.5 0.9 14.7 0.7 10.2 0.9 13.8 0.9 17.0 0.9 17.4 0.8 16.4 0.8 17.5 1.0 10.8 0.7 11.7 1.0 13.5 0.9 12.4 0.8 13.1 0.7 14.7 0.8 17.2 0.9 17.4 0.9 17.9 0.9 11.3 0.9 17.7 1.0 14.6 0.9 11.7 0.9 14.6 0.7 10.5 0.9 17.9 0.6 16.4 0.8 11.2 0.7 16.2 0.9 10.4 0.8 10.4 0.9 12.6"/>
<line x1="36.20" y1="295.96" x2="276.80" y2="295.96" stroke="#f3e52c" stroke-width="2.3" opacity="0.95"/>
<line x1="36.20" y1="294.89" x2="276.80" y2="294.89" stroke="#f3e52c" stroke-width="0.8" opacity="0.5" stroke-dasharray="1.7 1.3 2.2 1.5 1.2 2.2 3.8 3.4 3.3 1.7 2.6 1.8 1.5 1.3 1.6 3.8 3.5 3.4 3.4 1.6 1.9 2.9 3.2 3.6 3.6 1.3 2.8 3.0 2.5 1.5 2.4 1.3 3.8 3.6 2.6 1.9 3.7 2.7 3.6 3.5 2.5 2.2 2.8 2.3 1.5 1.9 3.4 1.1 1.1 2.9 1.8 2.6 2.4 2.0 4.0 1.6 2.2 1.6 2.9 1.8 2.1 3.2 2.0 2.7 3.7 1.3 1.2 1.7 3.3 2.8 1.7 2.0 1.5 2.4 1.1 3.1 3.7 3.9 3.2 3.9"/>
<line x1="64.40" y1="299.10" x2="271.16" y2="299.10" stroke="#f3e52c" stroke-width="0.9" opacity="0.45" stroke-dasharray="0.8 5.0 0.9 5.8 0.9 5.7 0.6 3.9 1.0 4.6 1.0 2.5 0.8 3.0 0.8 4.3 0.6 2.9 0.7 5.7 0.9 2.6 0.9 2.6 0.8 2.5 0.6 5.5 0.7 2.9 1.0 5.5 0.7 5.8 0.8 4.7 0.7 5.8 0.9 5.9 1.0 3.2 0.7 2.7 0.7 2.3 0.7 4.4 0.6 4.7 0.7 3.2 0.9 3.9 0.7 3.9 0.9 2.2 1.0 2.1 0.9 5.4 0.6 5.2 0.7 4.3 0.6 2.2 0.7 5.8 0.7 5.0 1.0 5.8 0.7 3.4 0.8 5.1 0.6 5.0"/>
<line x1="36.20" y1="301.39" x2="276.80" y2="301.39" stroke="#f3e52c" stroke-width="1.5" opacity="0.5" stroke-dasharray="2.6 1.1 2.0 0.6 1.0 0.9 1.9 1.0 1.7 1.0 1.5 1.0 2.5 0.7 2.1 0.9 1.4 0.8 2.6 0.6 2.6 0.9 2.7 0.7 1.2 1.0 2.6 0.8 1.2 0.6 2.3 0.6 2.9 0.9 1.4 0.9 1.7 1.1 2.8 0.8 2.3 1.0 2.6 1.2 1.1 0.7 2.2 0.6 2.2 0.5 2.8 0.8 1.2 0.9 1.6 0.6 2.0 0.5 1.4 1.1 2.4 0.4 2.6 0.4 1.7 1.1 2.2 0.6 1.8 0.7 1.3 1.2 1.1 0.7 2.5 0.7 3.0 0.6 3.0 1.1"/>
<line x1="36.20" y1="306.35" x2="276.80" y2="306.35" stroke="#f3e52c" stroke-width="1.0" opacity="0.75" stroke-dasharray="1.1 0.9 1.3 0.8 1.2 1.0 0.8 1.1 0.8 1.1 0.9 0.9 1.1 1.3 0.9 0.9 1.3 1.4 1.3 1.0 1.6 0.8 1.5 1.0 0.9 0.9 1.0 1.3 0.9 1.1 1.3 1.0 1.2 0.8 0.8 0.9 1.3 1.1 1.1 1.2 1.2 1.0 1.4 1.2 1.0 1.1 1.2 1.3 1.4 1.0 1.6 0.9 1.1 1.3 0.9 1.1 0.8 1.2 1.4 1.1 1.5 1.0 1.4 1.2 1.3 1.1 1.5 1.4 1.2 1.2 0.8 1.2 1.3 1.4 1.5 1.0 1.1 1.2 0.8 1.1"/>
<line x1="40.57" y1="317.62" x2="53.82" y2="317.62" stroke="#f3e52c" stroke-width="1.5" opacity="0.95"/>
<line x1="55.04" y1="317.62" x2="68.30" y2="317.62" stroke="#f3e52c" stroke-width="1.5" opacity="0.95"/>
<line x1="69.52" y1="317.62" x2="82.77" y2="317.62" stroke="#f3e52c" stroke-width="1.5" opacity="0.95"/>
<line x1="83.99" y1="317.62" x2="97.24" y2="317.62" stroke="#f3e52c" stroke-width="1.5" opacity="0.95"/>
<line x1="98.46" y1="317.62" x2="111.72" y2="317.62" stroke="#f3e52c" stroke-width="1.5" opacity="0.95"/>
<line x1="112.94" y1="317.62" x2="126.19" y2="317.62" stroke="#f3e52c" stroke-width="1.5" opacity="0.95"/>
<line x1="127.41" y1="317.62" x2="140.66" y2="317.62" stroke="#f3e52c" stroke-width="1.5" opacity="0.95"/>
<line x1="141.89" y1="317.62" x2="154.62" y2="317.62" stroke="#f3e52c" stroke-width="1.5" opacity="0.95"/>
<line x1="159.79" y1="317.62" x2="169.61" y2="317.62" stroke="#f3e52c" stroke-width="1.5" opacity="0.95"/>
<line x1="173.89" y1="317.62" x2="184.08" y2="317.62" stroke="#f3e52c" stroke-width="1.5" opacity="0.95"/>
<line x1="185.31" y1="317.62" x2="198.56" y2="317.62" stroke="#f3e52c" stroke-width="1.5" opacity="0.95"/>
<line x1="199.78" y1="317.62" x2="213.03" y2="317.62" stroke="#f3e52c" stroke-width="1.5" opacity="0.95"/>
<line x1="214.25" y1="317.62" x2="227.51" y2="317.62" stroke="#f3e52c" stroke-width="1.5" opacity="0.95"/>
<line x1="228.73" y1="317.62" x2="241.98" y2="317.62" stroke="#f3e52c" stroke-width="1.5" opacity="0.95"/>
<line x1="243.20" y1="317.62" x2="256.45" y2="317.62" stroke="#f3e52c" stroke-width="1.5" opacity="0.95"/>
<line x1="257.67" y1="317.62" x2="270.93" y2="317.62" stroke="#f3e52c" stroke-width="1.5" opacity="0.95"/>
<line x1="272.15" y1="317.62" x2="276.80" y2="317.62" stroke="#f3e52c" stroke-width="1.5" opacity="0.95"/>
<line x1="36.20" y1="335.54" x2="276.80" y2="335.54" stroke="#f3e52c" stroke-width="1.2" opacity="0.38" stroke-dasharray="0.9 1.9 0.8 1.6 0.7 0.9 2.0 0.9 1.5 1.2 1.2 1.3 0.9 1.8 0.7 0.9 0.6 1.0 1.2 1.9 1.1 0.8 1.0 2.0 0.7 1.5 1.1 1.5 1.1 1.6 1.3 1.5 1.9 1.4 0.8 0.7 1.9 1.3 0.9 1.9 1.4 1.6 1.8 1.0 1.1 1.8 0.8 1.7 0.7 1.6 1.6 1.9 1.8 1.3 0.9 0.8 1.3 1.3 0.7 1.9 1.3 1.6 0.9 0.9 0.6 1.1 1.0 1.2 1.1 1.8 1.8 0.8 1.2 0.8 1.5 2.0 0.9 1.7 1.0 0.6"/>
<line x1="36.20" y1="340.26" x2="37.26" y2="340.26" stroke="#f3e52c" stroke-width="1.4" opacity="0.95"/>
<line x1="37.96" y1="340.26" x2="51.73" y2="340.26" stroke="#f3e52c" stroke-width="1.4" opacity="0.95"/>
<line x1="52.44" y1="340.26" x2="66.20" y2="340.26" stroke="#f3e52c" stroke-width="1.4" opacity="0.95"/>
<line x1="66.91" y1="340.26" x2="80.68" y2="340.26" stroke="#f3e52c" stroke-width="1.4" opacity="0.95"/>
<line x1="81.38" y1="340.26" x2="95.15" y2="340.26" stroke="#f3e52c" stroke-width="1.4" opacity="0.95"/>
<line x1="95.86" y1="340.26" x2="109.63" y2="340.26" stroke="#f3e52c" stroke-width="1.4" opacity="0.95"/>
<line x1="110.33" y1="340.26" x2="124.10" y2="340.26" stroke="#f3e52c" stroke-width="1.4" opacity="0.95"/>
<line x1="124.80" y1="340.26" x2="138.57" y2="340.26" stroke="#f3e52c" stroke-width="1.4" opacity="0.95"/>
<line x1="139.28" y1="340.26" x2="153.05" y2="340.26" stroke="#f3e52c" stroke-width="1.4" opacity="0.95"/>
<line x1="153.75" y1="340.26" x2="167.52" y2="340.26" stroke="#f3e52c" stroke-width="1.4" opacity="0.95"/>
<line x1="168.22" y1="340.26" x2="181.99" y2="340.26" stroke="#f3e52c" stroke-width="1.4" opacity="0.95"/>
<line x1="182.70" y1="340.26" x2="196.47" y2="340.26" stroke="#f3e52c" stroke-width="1.4" opacity="0.95"/>
<line x1="197.17" y1="340.26" x2="210.94" y2="340.26" stroke="#f3e52c" stroke-width="1.4" opacity="0.95"/>
<line x1="211.65" y1="340.26" x2="225.41" y2="340.26" stroke="#f3e52c" stroke-width="1.4" opacity="0.95"/>
<line x1="226.12" y1="340.26" x2="239.89" y2="340.26" stroke="#f3e52c" stroke-width="1.4" opacity="0.95"/>
<line x1="240.59" y1="340.26" x2="254.36" y2="340.26" stroke="#f3e52c" stroke-width="1.4" opacity="0.95"/>
<line x1="255.07" y1="340.26" x2="268.83" y2="340.26" stroke="#f3e52c" stroke-width="1.4" opacity="0.95"/>
<line x1="269.54" y1="340.26" x2="276.80" y2="340.26" stroke="#f3e52c" stroke-width="1.4" opacity="0.95"/>
<line x1="36.20" y1="342.55" x2="276.80" y2="342.55" stroke="#f3e52c" stroke-width="0.9" opacity="0.45" stroke-dasharray="0.8 12.5 0.7 18.4 0.6 14.0 1.0 9.0 0.8 15.4 0.6 12.5 0.9 13.4 0.9 9.9 0.7 9.3 0.8 19.1 0.8 17.3 0.8 17.0 0.6 11.5 0.9 16.7 0.8 9.1 0.7 10.5 0.7 17.7 0.7 18.6 1.0 8.7 0.8 13.9 0.6 13.1 1.0 9.3 0.8 9.5 0.8 18.7 0.7 8.1 0.6 14.5 0.6 9.0 0.8 19.1 0.8 12.8 0.9 9.1 0.8 10.1 0.8 19.5 0.6 14.7 0.8 9.8 0.7 19.9 1.0 9.5 0.9 19.4 0.7 15.3 0.6 12.4 0.9 15.1"/>
<line x1="36.20" y1="410.90" x2="37.33" y2="410.90" stroke="#f3e52c" stroke-width="1.7" opacity="0.6"/>
<line x1="37.89" y1="410.90" x2="51.80" y2="410.90" stroke="#f3e52c" stroke-width="1.7" opacity="0.6"/>
<line x1="52.37" y1="410.90" x2="66.28" y2="410.90" stroke="#f3e52c" stroke-width="1.7" opacity="0.6"/>
<line x1="66.84" y1="410.90" x2="80.75" y2="410.90" stroke="#f3e52c" stroke-width="1.7" opacity="0.6"/>
<line x1="81.31" y1="410.90" x2="95.22" y2="410.90" stroke="#f3e52c" stroke-width="1.7" opacity="0.6"/>
<line x1="95.79" y1="410.90" x2="109.70" y2="410.90" stroke="#f3e52c" stroke-width="1.7" opacity="0.6"/>
<line x1="110.26" y1="410.90" x2="124.17" y2="410.90" stroke="#f3e52c" stroke-width="1.7" opacity="0.6"/>
<line x1="124.73" y1="410.90" x2="138.64" y2="410.90" stroke="#f3e52c" stroke-width="1.7" opacity="0.6"/>
<line x1="139.21" y1="410.90" x2="153.12" y2="410.90" stroke="#f3e52c" stroke-width="1.7" opacity="0.6"/>
<line x1="153.68" y1="410.90" x2="167.59" y2="410.90" stroke="#f3e52c" stroke-width="1.7" opacity="0.6"/>
<line x1="168.15" y1="410.90" x2="182.06" y2="410.90" stroke="#f3e52c" stroke-width="1.7" opacity="0.6"/>
<line x1="182.63" y1="410.90" x2="196.54" y2="410.90" stroke="#f3e52c" stroke-width="1.7" opacity="0.6"/>
<line x1="197.10" y1="410.90" x2="211.01" y2="410.90" stroke="#f3e52c" stroke-width="1.7" opacity="0.6"/>
<line x1="211.57" y1="410.90" x2="225.48" y2="410.90" stroke="#f3e52c" stroke-width="1.7" opacity="0.6"/>
<line x1="226.05" y1="410.90" x2="239.96" y2="410.90" stroke="#f3e52c" stroke-width="1.7" opacity="0.6"/>
<line x1="240.52" y1="410.90" x2="254.43" y2="410.90" stroke="#f3e52c" stroke-width="1.7" opacity="0.6"/>
<line x1="255.00" y1="410.90" x2="268.91" y2="410.90" stroke="#f3e52c" stroke-width="1.7" opacity="0.6"/>
<line x1="269.47" y1="410.90" x2="276.80" y2="410.90" stroke="#f3e52c" stroke-width="1.7" opacity="0.6"/>
<line x1="36.20" y1="420.11" x2="37.47" y2="420.11" stroke="#f3e52c" stroke-width="1.4" opacity="0.85"/>
<line x1="37.75" y1="420.11" x2="51.94" y2="420.11" stroke="#f3e52c" stroke-width="1.4" opacity="0.85"/>
<line x1="52.22" y1="420.11" x2="66.42" y2="420.11" stroke="#f3e52c" stroke-width="1.4" opacity="0.85"/>
<line x1="66.70" y1="420.11" x2="80.89" y2="420.11" stroke="#f3e52c" stroke-width="1.4" opacity="0.85"/>
<line x1="81.17" y1="420.11" x2="95.36" y2="420.11" stroke="#f3e52c" stroke-width="1.4" opacity="0.85"/>
<line x1="95.65" y1="420.11" x2="109.84" y2="420.11" stroke="#f3e52c" stroke-width="1.4" opacity="0.85"/>
<line x1="110.12" y1="420.11" x2="124.31" y2="420.11" stroke="#f3e52c" stroke-width="1.4" opacity="0.85"/>
<line x1="124.59" y1="420.11" x2="138.78" y2="420.11" stroke="#f3e52c" stroke-width="1.4" opacity="0.85"/>
<line x1="139.07" y1="420.11" x2="153.26" y2="420.11" stroke="#f3e52c" stroke-width="1.4" opacity="0.85"/>
<line x1="153.54" y1="420.11" x2="167.73" y2="420.11" stroke="#f3e52c" stroke-width="1.4" opacity="0.85"/>
<line x1="168.01" y1="420.11" x2="182.20" y2="420.11" stroke="#f3e52c" stroke-width="1.4" opacity="0.85"/>
<line x1="182.49" y1="420.11" x2="196.68" y2="420.11" stroke="#f3e52c" stroke-width="1.4" opacity="0.85"/>
<line x1="196.96" y1="420.11" x2="211.15" y2="420.11" stroke="#f3e52c" stroke-width="1.4" opacity="0.85"/>
<line x1="211.43" y1="420.11" x2="225.63" y2="420.11" stroke="#f3e52c" stroke-width="1.4" opacity="0.85"/>
<line x1="225.91" y1="420.11" x2="240.10" y2="420.11" stroke="#f3e52c" stroke-width="1.4" opacity="0.85"/>
<line x1="240.38" y1="420.11" x2="254.57" y2="420.11" stroke="#f3e52c" stroke-width="1.4" opacity="0.85"/>
<line x1="254.85" y1="420.11" x2="269.05" y2="420.11" stroke="#f3e52c" stroke-width="1.4" opacity="0.85"/>
<line x1="269.33" y1="420.11" x2="276.80" y2="420.11" stroke="#f3e52c" stroke-width="1.4" opacity="0.85"/>
<line x1="36.20" y1="442.47" x2="276.80" y2="442.47" stroke="#f3e52c" stroke-width="3.3" opacity="1.0"/>
<line x1="36.20" y1="446.12" x2="37.42" y2="446.12" stroke="#f3e52c" stroke-width="1.5" opacity="0.92"/>
<line x1="37.80" y1="446.12" x2="51.90" y2="446.12" stroke="#f3e52c" stroke-width="1.5" opacity="0.92"/>
<line x1="52.27" y1="446.12" x2="66.37" y2="446.12" stroke="#f3e52c" stroke-width="1.5" opacity="0.92"/>
<line x1="66.74" y1="446.12" x2="80.84" y2="446.12" stroke="#f3e52c" stroke-width="1.5" opacity="0.92"/>
<line x1="81.22" y1="446.12" x2="95.32" y2="446.12" stroke="#f3e52c" stroke-width="1.5" opacity="0.92"/>
<line x1="95.69" y1="446.12" x2="109.79" y2="446.12" stroke="#f3e52c" stroke-width="1.5" opacity="0.92"/>
<line x1="110.17" y1="446.12" x2="124.26" y2="446.12" stroke="#f3e52c" stroke-width="1.5" opacity="0.92"/>
<line x1="124.64" y1="446.12" x2="138.74" y2="446.12" stroke="#f3e52c" stroke-width="1.5" opacity="0.92"/>
<line x1="139.11" y1="446.12" x2="153.21" y2="446.12" stroke="#f3e52c" stroke-width="1.5" opacity="0.92"/>
<line x1="153.59" y1="446.12" x2="167.68" y2="446.12" stroke="#f3e52c" stroke-width="1.5" opacity="0.92"/>
<line x1="168.06" y1="446.12" x2="182.16" y2="446.12" stroke="#f3e52c" stroke-width="1.5" opacity="0.92"/>
<line x1="182.53" y1="446.12" x2="196.63" y2="446.12" stroke="#f3e52c" stroke-width="1.5" opacity="0.92"/>
<line x1="197.01" y1="446.12" x2="211.10" y2="446.12" stroke="#f3e52c" stroke-width="1.5" opacity="0.92"/>
<line x1="211.48" y1="446.12" x2="225.58" y2="446.12" stroke="#f3e52c" stroke-width="1.5" opacity="0.92"/>
<line x1="225.95" y1="446.12" x2="240.05" y2="446.12" stroke="#f3e52c" stroke-width="1.5" opacity="0.92"/>
<line x1="240.43" y1="446.12" x2="254.53" y2="446.12" stroke="#f3e52c" stroke-width="1.5" opacity="0.92"/>
<line x1="254.90" y1="446.12" x2="269.00" y2="446.12" stroke="#f3e52c" stroke-width="1.5" opacity="0.92"/>
<line x1="269.38" y1="446.12" x2="276.80" y2="446.12" stroke="#f3e52c" stroke-width="1.5" opacity="0.92"/>
<line x1="36.20" y1="458.50" x2="37.26" y2="458.50" stroke="#f3e52c" stroke-width="1.3" opacity="0.85"/>
<line x1="37.96" y1="458.50" x2="51.73" y2="458.50" stroke="#f3e52c" stroke-width="1.3" opacity="0.85"/>
<line x1="52.44" y1="458.50" x2="66.20" y2="458.50" stroke="#f3e52c" stroke-width="1.3" opacity="0.85"/>
<line x1="66.91" y1="458.50" x2="80.68" y2="458.50" stroke="#f3e52c" stroke-width="1.3" opacity="0.85"/>
<line x1="95.86" y1="458.50" x2="109.63" y2="458.50" stroke="#f3e52c" stroke-width="1.3" opacity="0.85"/>
<line x1="110.33" y1="458.50" x2="124.10" y2="458.50" stroke="#f3e52c" stroke-width="1.3" opacity="0.85"/>
<line x1="124.80" y1="458.50" x2="138.57" y2="458.50" stroke="#f3e52c" stroke-width="1.3" opacity="0.85"/>
<line x1="139.28" y1="458.50" x2="153.05" y2="458.50" stroke="#f3e52c" stroke-width="1.3" opacity="0.85"/>
<line x1="153.75" y1="458.50" x2="167.52" y2="458.50" stroke="#f3e52c" stroke-width="1.3" opacity="0.85"/>
<line x1="168.22" y1="458.50" x2="181.99" y2="458.50" stroke="#f3e52c" stroke-width="1.3" opacity="0.85"/>
<line x1="182.70" y1="458.50" x2="196.47" y2="458.50" stroke="#f3e52c" stroke-width="1.3" opacity="0.85"/>
<line x1="197.17" y1="458.50" x2="210.94" y2="458.50" stroke="#f3e52c" stroke-width="1.3" opacity="0.85"/>
<line x1="211.65" y1="458.50" x2="225.41" y2="458.50" stroke="#f3e52c" stroke-width="1.3" opacity="0.85"/>
<line x1="226.12" y1="458.50" x2="239.89" y2="458.50" stroke="#f3e52c" stroke-width="1.3" opacity="0.85"/>
<line x1="240.59" y1="458.50" x2="254.36" y2="458.50" stroke="#f3e52c" stroke-width="1.3" opacity="0.85"/>
<line x1="255.07" y1="458.50" x2="268.83" y2="458.50" stroke="#f3e52c" stroke-width="1.3" opacity="0.85"/>
<line x1="269.54" y1="458.50" x2="276.80" y2="458.50" stroke="#f3e52c" stroke-width="1.3" opacity="0.85"/>
<line x1="83.19" y1="458.50" x2="90.71" y2="458.50" stroke="#f3e52c" stroke-width="1.2" opacity="0.8"/>
<line x1="64.40" y1="466.56" x2="271.16" y2="466.56" stroke="#f3e52c" stroke-width="0.9" opacity="0.45" stroke-dasharray="0.9 12.9 0.9 9.3 1.1 19.2 1.0 8.6 0.9 11.2 0.7 21.2 1.2 6.7 1.1 15.7 0.8 10.5 1.0 13.3 1.0 16.6 0.7 18.3 1.2 21.5 1.0 6.7 0.6 8.1 1.2 10.8 0.8 20.4 0.8 14.8 0.9 7.0 1.0 19.5 0.7 9.6 0.8 6.6 0.9 19.1 1.0 14.5 1.1 8.4 0.9 12.0 1.0 7.8 1.1 7.5 0.7 18.9 1.2 12.9 0.8 9.9 0.8 15.9 0.7 7.9 0.9 8.6 1.0 19.1 1.1 13.7 0.8 13.0 0.6 17.4 0.8 11.1 0.6 13.2"/>
<line x1="41.37" y1="476.71" x2="51.24" y2="476.71" stroke="#f3e52c" stroke-width="1.4" opacity="0.6"/>
<line x1="54.53" y1="476.71" x2="65.81" y2="476.71" stroke="#f3e52c" stroke-width="1.4" opacity="0.6"/>
<line x1="68.62" y1="476.71" x2="80.84" y2="476.71" stroke="#f3e52c" stroke-width="1.4" opacity="0.6"/>
<line x1="82.72" y1="476.71" x2="96.58" y2="476.71" stroke="#f3e52c" stroke-width="1.4" opacity="0.6"/>
<line x1="97.29" y1="476.71" x2="111.39" y2="476.71" stroke="#f3e52c" stroke-width="1.4" opacity="0.6"/>
<line x1="114.21" y1="476.71" x2="126.43" y2="476.71" stroke="#f3e52c" stroke-width="1.4" opacity="0.6"/>
<line x1="133.47" y1="476.71" x2="141.23" y2="476.71" stroke="#f3e52c" stroke-width="1.4" opacity="0.6"/>
<line x1="147.38" y1="476.71" x2="156.03" y2="476.71" stroke="#f3e52c" stroke-width="1.4" opacity="0.6"/>
<line x1="159.65" y1="476.71" x2="170.50" y2="476.71" stroke="#f3e52c" stroke-width="1.4" opacity="0.6"/>
<line x1="174.12" y1="476.71" x2="184.98" y2="476.71" stroke="#f3e52c" stroke-width="1.4" opacity="0.6"/>
<line x1="187.70" y1="476.71" x2="200.39" y2="476.71" stroke="#f3e52c" stroke-width="1.4" opacity="0.6"/>
<line x1="203.02" y1="476.71" x2="213.83" y2="476.71" stroke="#f3e52c" stroke-width="1.4" opacity="0.6"/>
<line x1="217.59" y1="476.71" x2="230.28" y2="476.71" stroke="#f3e52c" stroke-width="1.4" opacity="0.6"/>
<line x1="232.16" y1="476.71" x2="245.60" y2="476.71" stroke="#f3e52c" stroke-width="1.4" opacity="0.6"/>
<line x1="254.71" y1="476.71" x2="261.76" y2="476.71" stroke="#f3e52c" stroke-width="1.4" opacity="0.6"/>
<line x1="266.46" y1="476.71" x2="275.39" y2="476.71" stroke="#f3e52c" stroke-width="1.4" opacity="0.6"/>
<line x1="37.50" y1="524.50" x2="47.74" y2="524.50" stroke="#f3e52c" stroke-width="1.3" opacity="0.6"/>
<line x1="37.50" y1="524.56" x2="37.50" y2="512.40" stroke="#f3e52c" stroke-width="0.9" opacity="0.6" stroke-dasharray="2.0 1.6 1.9 1.8 2.2 1.3 2.8 1.8 2.8 1.7 1.8 1.4 1.9 1.8 1.5 1.8 1.8 1.3 2.4 1.7 2.3 1.6 2.4 1.6 1.7 1.3 1.5 1.6 1.9 1.2 1.9 1.9 1.7 1.9 2.9 1.2 2.7 1.2 2.5 1.1"/>
<line x1="52.50" y1="524.50" x2="64.15" y2="524.50" stroke="#f3e52c" stroke-width="1.3" opacity="0.6"/>
<line x1="52.50" y1="524.56" x2="52.50" y2="512.40" stroke="#f3e52c" stroke-width="0.9" opacity="0.6" stroke-dasharray="2.2 1.6 2.7 1.3 2.0 1.7 2.2 1.4 2.1 1.3 1.8 1.6 2.8 1.7 2.5 1.3 2.2 1.1 2.6 1.3 1.9 2.0 2.0 2.0 2.4 1.8 2.4 1.2 2.6 1.3 2.1 1.1 1.6 1.4 1.5 1.4 2.8 2.0 2.1 1.1"/>
<line x1="67.50" y1="524.50" x2="77.74" y2="524.50" stroke="#f3e52c" stroke-width="1.3" opacity="0.6"/>
<line x1="67.50" y1="524.56" x2="67.50" y2="512.40" stroke="#f3e52c" stroke-width="0.9" opacity="0.6" stroke-dasharray="2.9 1.2 3.0 1.2 2.2 1.9 2.0 1.5 1.7 2.0 3.0 1.2 1.7 1.5 2.3 1.8 2.0 1.6 1.7 1.2 1.6 1.5 2.3 1.6 2.9 1.3 2.0 1.5 2.9 1.3 1.9 1.4 2.5 1.3 1.8 1.7 2.4 1.6 1.5 1.2"/>
<line x1="89.20" y1="524.50" x2="100.85" y2="524.50" stroke="#f3e52c" stroke-width="1.3" opacity="0.6"/>
<line x1="89.50" y1="524.56" x2="89.50" y2="512.40" stroke="#f3e52c" stroke-width="0.9" opacity="0.6" stroke-dasharray="2.2 1.3 2.9 1.5 1.6 1.7 1.6 1.2 1.6 1.6 2.8 1.6 1.8 1.8 2.8 1.3 1.9 1.7 3.0 1.9 2.8 1.7 1.8 1.6 2.1 1.6 2.2 1.2 2.8 1.0 2.0 1.3 2.9 1.1 2.4 1.9 2.4 1.9 2.1 1.4"/>
<line x1="102.50" y1="524.50" x2="112.74" y2="524.50" stroke="#f3e52c" stroke-width="1.3" opacity="0.6"/>
<line x1="102.50" y1="524.56" x2="102.50" y2="512.40" stroke="#f3e52c" stroke-width="0.9" opacity="0.6" stroke-dasharray="2.2 1.6 2.1 1.9 1.5 2.0 2.6 1.8 2.7 1.2 2.7 1.7 1.7 1.9 2.2 1.7 1.6 1.7 1.5 1.1 1.7 1.0 2.4 1.2 1.8 1.8 2.7 1.4 1.8 1.7 2.3 1.4 2.0 1.4 2.2 1.2 1.5 1.5 1.8 1.1"/>
<line x1="115.80" y1="524.50" x2="127.45" y2="524.50" stroke="#f3e52c" stroke-width="1.3" opacity="0.6"/>
<line x1="116.50" y1="524.56" x2="116.50" y2="512.40" stroke="#f3e52c" stroke-width="0.9" opacity="0.6" stroke-dasharray="2.1 1.3 2.8 1.4 2.3 1.6 2.0 1.6 2.9 1.1 2.3 1.3 2.5 1.6 1.6 1.1 2.3 1.9 2.7 1.8 1.7 1.4 2.4 1.4 1.8 1.9 2.5 1.4 2.2 1.7 2.6 1.8 2.0 2.0 2.6 1.3 1.8 1.4 1.9 1.9"/>
<line x1="129.00" y1="524.50" x2="139.24" y2="524.50" stroke="#f3e52c" stroke-width="1.3" opacity="0.6"/>
<line x1="129.50" y1="524.56" x2="129.50" y2="512.40" stroke="#f3e52c" stroke-width="0.9" opacity="0.6" stroke-dasharray="1.6 1.4 1.9 1.4 1.9 1.9 2.3 1.7 2.9 1.5 2.2 1.1 2.7 1.1 2.0 1.2 2.6 1.5 2.3 1.5 2.8 2.0 2.1 1.9 2.6 1.7 3.0 1.2 2.0 1.5 2.0 1.3 1.8 1.9 3.0 1.9 2.7 1.4 2.0 1.4"/>
<line x1="142.50" y1="524.50" x2="154.15" y2="524.50" stroke="#f3e52c" stroke-width="1.3" opacity="0.6"/>
<line x1="142.50" y1="524.56" x2="142.50" y2="512.40" stroke="#f3e52c" stroke-width="0.9" opacity="0.6" stroke-dasharray="1.6 1.8 3.0 1.4 2.9 1.4 2.4 1.9 1.8 1.0 1.8 1.0 2.2 1.1 1.6 1.3 2.1 1.9 1.5 1.6 2.9 1.7 1.7 1.2 2.1 1.0 3.0 1.8 2.7 1.7 3.0 1.4 1.6 1.4 2.2 1.8 1.5 1.9 2.0 1.0"/>
<line x1="157.60" y1="524.50" x2="167.84" y2="524.50" stroke="#f3e52c" stroke-width="1.3" opacity="0.6"/>
<line x1="157.50" y1="524.56" x2="157.50" y2="512.40" stroke="#f3e52c" stroke-width="0.9" opacity="0.6" stroke-dasharray="2.6 1.9 2.6 1.9 1.7 1.6 2.1 1.3 2.8 1.3 3.0 1.4 2.3 1.8 2.7 1.0 2.6 1.1 2.0 1.1 2.4 1.2 1.8 1.5 2.1 1.5 2.3 1.7 2.8 2.0 2.4 1.6 2.4 1.3 2.7 1.1 2.9 1.5 2.6 1.7"/>
<line x1="172.70" y1="524.50" x2="184.35" y2="524.50" stroke="#f3e52c" stroke-width="1.3" opacity="0.6"/>
<line x1="172.50" y1="524.56" x2="172.50" y2="512.40" stroke="#f3e52c" stroke-width="0.9" opacity="0.6" stroke-dasharray="2.5 1.1 1.8 1.6 2.0 1.9 2.7 1.9 2.1 1.8 2.4 1.8 2.0 1.5 2.2 1.4 2.1 1.4 1.7 1.1 2.0 1.7 2.5 1.8 2.6 1.8 1.7 1.4 2.4 1.1 2.8 1.7 2.1 1.0 1.6 1.0 1.9 1.2 1.7 1.5"/>
<line x1="187.70" y1="524.50" x2="197.94" y2="524.50" stroke="#f3e52c" stroke-width="1.3" opacity="0.6"/>
<line x1="187.50" y1="524.56" x2="187.50" y2="512.40" stroke="#f3e52c" stroke-width="0.9" opacity="0.6" stroke-dasharray="2.9 1.3 2.2 1.1 3.0 1.2 2.5 1.6 2.6 1.4 2.1 1.4 1.6 1.3 1.9 1.8 2.2 1.1 1.5 1.3 3.0 1.0 2.2 1.8 1.7 1.8 2.8 1.8 1.7 1.9 1.8 1.8 2.7 1.5 2.6 1.8 2.7 1.3 2.9 1.6"/>
<line x1="209.40" y1="524.50" x2="221.05" y2="524.50" stroke="#f3e52c" stroke-width="1.3" opacity="0.6"/>
<line x1="209.50" y1="524.56" x2="209.50" y2="512.40" stroke="#f3e52c" stroke-width="0.9" opacity="0.6" stroke-dasharray="2.0 1.6 1.5 2.0 2.7 2.0 1.9 1.2 1.6 1.2 1.5 1.7 2.0 1.8 2.6 1.3 1.8 1.3 1.5 1.6 1.8 1.1 2.8 1.4 2.9 2.0 2.5 1.2 1.7 1.2 2.6 1.5 1.9 1.0 2.0 1.4 1.6 1.2 1.9 1.4"/>
<line x1="222.60" y1="524.50" x2="232.84" y2="524.50" stroke="#f3e52c" stroke-width="1.3" opacity="0.6"/>
<line x1="222.50" y1="524.56" x2="222.50" y2="512.40" stroke="#f3e52c" stroke-width="0.9" opacity="0.6" stroke-dasharray="1.6 1.6 3.0 1.3 2.3 1.4 2.6 1.7 2.4 2.0 2.6 1.3 2.1 1.6 2.5 1.2 2.7 1.4 2.7 1.1 2.0 1.0 2.1 1.3 2.0 1.2 2.8 1.6 2.0 1.5 1.8 1.9 2.9 1.6 1.7 2.0 1.8 1.1 2.1 1.4"/>
<line x1="235.70" y1="524.50" x2="247.35" y2="524.50" stroke="#f3e52c" stroke-width="1.3" opacity="0.6"/>
<line x1="235.50" y1="524.56" x2="235.50" y2="512.40" stroke="#f3e52c" stroke-width="0.9" opacity="0.6" stroke-dasharray="1.9 1.5 2.3 1.5 2.4 1.5 2.3 1.2 1.7 1.3 2.7 1.0 2.0 1.4 2.3 1.4 2.8 1.9 2.4 1.2 2.8 1.9 2.2 1.8 2.8 2.0 1.8 1.2 2.7 1.3 1.9 1.0 2.6 1.2 1.8 1.6 1.6 1.8 1.6 2.0"/>
<line x1="248.70" y1="524.50" x2="258.94" y2="524.50" stroke="#f3e52c" stroke-width="1.3" opacity="0.6"/>
<line x1="248.50" y1="524.56" x2="248.50" y2="512.40" stroke="#f3e52c" stroke-width="0.9" opacity="0.6" stroke-dasharray="2.8 1.5 1.7 1.1 2.0 1.9 2.9 1.4 2.2 1.5 2.9 1.4 2.0 1.5 1.5 1.5 1.7 1.8 2.2 2.0 2.1 1.3 3.0 1.9 1.5 2.0 2.8 1.9 2.4 1.7 2.6 1.3 1.5 1.7 2.9 1.1 2.5 1.5 2.1 1.7"/>
<line x1="262.40" y1="524.50" x2="274.05" y2="524.50" stroke="#f3e52c" stroke-width="1.3" opacity="0.6"/>
<line x1="262.50" y1="524.56" x2="262.50" y2="512.40" stroke="#f3e52c" stroke-width="0.9" opacity="0.6" stroke-dasharray="2.2 1.4 1.6 1.8 2.5 1.7 2.2 1.7 2.8 1.7 2.0 1.9 2.0 1.1 1.9 1.5 2.8 1.3 2.5 1.3 1.5 2.0 2.4 1.5 2.5 1.1 2.8 1.3 2.9 1.2 2.2 1.3 2.4 1.1 1.6 1.3 1.6 1.8 1.7 1.3"/>
<line x1="211.50" y1="436.62" x2="211.50" y2="345.41" stroke="#f3e52c" stroke-width="0.9" opacity="0.6" stroke-dasharray="3.4 4.0 1.7 6.9 1.3 4.9 2.7 5.7 1.4 5.8 2.5 7.1 1.1 7.7 1.5 6.9 2.5 7.0 1.5 3.9 1.3 6.7 2.6 3.2 1.6 2.5 1.6 5.4 2.3 6.2 1.2 7.0 3.9 6.4 3.2 7.1 1.3 4.8 1.2 6.7"/>
<line x1="211.50" y1="513.81" x2="211.50" y2="467.03" stroke="#f3e52c" stroke-width="0.9" opacity="0.55" stroke-dasharray="3.4 2.6 3.8 6.4 1.8 4.6 1.1 2.9 3.0 6.6 1.6 6.2 2.1 5.3 3.5 3.4 1.5 4.5 3.9 4.4 3.5 3.0 3.3 7.2 2.1 3.2 1.3 2.9 1.9 5.6 3.6 3.5 3.8 3.0 2.5 6.5 3.7 7.5 3.9 2.5"/>
</g>
<rect x="36.20" y="286.00" width="240.60" height="239.50" fill="none" stroke="#222" stroke-width="0.9"/>
<line x1="36.43" y1="525.50" x2="36.43" y2="528.50" stroke="#222" stroke-width="0.9"/>
<line x1="33.20" y1="525.27" x2="36.20" y2="525.27" stroke="#222" stroke-width="0.9"/>
<text x="36.43" y="539.20" font-size="8.9" text-anchor="middle" fill="#1a1a1a" textLength="5.15" lengthAdjust="spacingAndGlyphs">0</text>
<text x="29.70" y="529.15" font-size="8.9" text-anchor="end" fill="#1a1a1a" textLength="5.15" lengthAdjust="spacingAndGlyphs">0</text>
<line x1="83.43" y1="525.50" x2="83.43" y2="528.50" stroke="#222" stroke-width="0.9"/>
<line x1="33.20" y1="478.49" x2="36.20" y2="478.49" stroke="#222" stroke-width="0.9"/>
<text x="83.43" y="539.20" font-size="8.9" text-anchor="middle" fill="#1a1a1a" textLength="15.45" lengthAdjust="spacingAndGlyphs">100</text>
<text x="29.70" y="482.37" font-size="8.9" text-anchor="end" fill="#1a1a1a" textLength="15.45" lengthAdjust="spacingAndGlyphs">100</text>
<line x1="130.42" y1="525.50" x2="130.42" y2="528.50" stroke="#222" stroke-width="0.9"/>
<line x1="33.20" y1="431.71" x2="36.20" y2="431.71" stroke="#222" stroke-width="0.9"/>
<text x="130.42" y="539.20" font-size="8.9" text-anchor="middle" fill="#1a1a1a" textLength="15.45" lengthAdjust="spacingAndGlyphs">200</text>
<text x="29.70" y="435.60" font-size="8.9" text-anchor="end" fill="#1a1a1a" textLength="15.45" lengthAdjust="spacingAndGlyphs">200</text>
<line x1="177.41" y1="525.50" x2="177.41" y2="528.50" stroke="#222" stroke-width="0.9"/>
<line x1="33.20" y1="384.93" x2="36.20" y2="384.93" stroke="#222" stroke-width="0.9"/>
<text x="177.41" y="539.20" font-size="8.9" text-anchor="middle" fill="#1a1a1a" textLength="15.45" lengthAdjust="spacingAndGlyphs">300</text>
<text x="29.70" y="388.82" font-size="8.9" text-anchor="end" fill="#1a1a1a" textLength="15.45" lengthAdjust="spacingAndGlyphs">300</text>
<line x1="224.40" y1="525.50" x2="224.40" y2="528.50" stroke="#222" stroke-width="0.9"/>
<line x1="33.20" y1="338.16" x2="36.20" y2="338.16" stroke="#222" stroke-width="0.9"/>
<text x="224.40" y="539.20" font-size="8.9" text-anchor="middle" fill="#1a1a1a" textLength="15.45" lengthAdjust="spacingAndGlyphs">400</text>
<text x="29.70" y="342.04" font-size="8.9" text-anchor="end" fill="#1a1a1a" textLength="15.45" lengthAdjust="spacingAndGlyphs">400</text>
<line x1="271.40" y1="525.50" x2="271.40" y2="528.50" stroke="#222" stroke-width="0.9"/>
<line x1="33.20" y1="291.38" x2="36.20" y2="291.38" stroke="#222" stroke-width="0.9"/>
<text x="271.40" y="539.20" font-size="8.9" text-anchor="middle" fill="#1a1a1a" textLength="15.45" lengthAdjust="spacingAndGlyphs">500</text>
<text x="29.70" y="295.27" font-size="8.9" text-anchor="end" fill="#1a1a1a" textLength="15.45" lengthAdjust="spacingAndGlyphs">500</text>
<text x="156.00" y="551.50" font-size="9.3" text-anchor="middle" fill="#1a1a1a" textLength="34.30" lengthAdjust="spacingAndGlyphs">Time [s]</text>
<text x="8.40" y="406.50" font-size="9.3" text-anchor="middle" fill="#1a1a1a" textLength="65.00" lengthAdjust="spacingAndGlyphs" transform="rotate(-90 8.40 406.50)">Frequency Bins</text>
<text x="5.60" y="538.30" font-size="16.8" text-anchor="start" fill="#111" font-weight="bold">c</text>
<rect x="287.40" y="291.50" width="11.60" height="227.90" fill="url(#vir)" stroke="#222" stroke-width="0.9"/>
<line x1="299.00" y1="519.40" x2="302.60" y2="519.40" stroke="#222" stroke-width="0.9"/>
<text x="306.20" y="523.70" font-size="10.6" text-anchor="start" fill="#1a1a1a" textLength="15.90" lengthAdjust="spacingAndGlyphs">0.0</text>
<line x1="299.00" y1="473.82" x2="302.60" y2="473.82" stroke="#222" stroke-width="0.9"/>
<text x="306.20" y="478.12" font-size="10.6" text-anchor="start" fill="#1a1a1a" textLength="15.90" lengthAdjust="spacingAndGlyphs">0.2</text>
<line x1="299.00" y1="428.24" x2="302.60" y2="428.24" stroke="#222" stroke-width="0.9"/>
<text x="306.20" y="432.54" font-size="10.6" text-anchor="start" fill="#1a1a1a" textLength="15.90" lengthAdjust="spacingAndGlyphs">0.4</text>
<line x1="299.00" y1="382.66" x2="302.60" y2="382.66" stroke="#222" stroke-width="0.9"/>
<text x="306.20" y="386.96" font-size="10.6" text-anchor="start" fill="#1a1a1a" textLength="15.90" lengthAdjust="spacingAndGlyphs">0.6</text>
<line x1="299.00" y1="337.08" x2="302.60" y2="337.08" stroke="#222" stroke-width="0.9"/>
<text x="306.20" y="341.38" font-size="10.6" text-anchor="start" fill="#1a1a1a" textLength="15.90" lengthAdjust="spacingAndGlyphs">0.8</text>
<line x1="299.00" y1="291.50" x2="302.60" y2="291.50" stroke="#222" stroke-width="0.9"/>
<text x="306.20" y="295.80" font-size="10.6" text-anchor="start" fill="#1a1a1a" textLength="15.90" lengthAdjust="spacingAndGlyphs">1.0</text>
</g>
<g id="pd">
<rect x="397.40" y="286.00" width="240.50" height="239.60" fill="#410a59"/>
<clipPath id="clipd"><rect x="397.40" y="286.00" width="240.50" height="239.60"/></clipPath>
<g clip-path="url(#clipd)">
<rect x="515.77" y="391.73" width="1.12" height="1.12" fill="#f3e52c" opacity="0.41"/>
<rect x="474.35" y="359.29" width="0.99" height="0.99" fill="#f3e52c" opacity="0.43"/>
<rect x="494.62" y="445.91" width="0.87" height="0.87" fill="#f3e52c" opacity="0.52"/>
<rect x="611.27" y="360.30" width="1.05" height="1.05" fill="#f3e52c" opacity="0.42"/>
<rect x="501.21" y="490.01" width="1.09" height="1.09" fill="#f3e52c" opacity="0.4"/>
<rect x="467.40" y="290.82" width="0.94" height="0.94" fill="#f3e52c" opacity="0.64"/>
<rect x="545.33" y="343.07" width="1.05" height="1.05" fill="#f3e52c" opacity="0.36"/>
<rect x="568.07" y="462.78" width="0.96" height="0.96" fill="#f3e52c" opacity="0.35"/>
<rect x="411.67" y="436.94" width="0.81" height="0.81" fill="#f3e52c" opacity="0.43"/>
<rect x="600.88" y="286.58" width="0.97" height="0.97" fill="#f3e52c" opacity="0.34"/>
<rect x="480.43" y="509.27" width="0.89" height="0.89" fill="#f3e52c" opacity="0.52"/>
<rect x="545.09" y="516.93" width="1.00" height="1.00" fill="#f3e52c" opacity="0.45"/>
<rect x="492.75" y="492.27" width="0.96" height="0.96" fill="#f3e52c" opacity="0.34"/>
<rect x="561.63" y="369.68" width="1.05" height="1.05" fill="#f3e52c" opacity="0.44"/>
<rect x="626.43" y="436.63" width="0.88" height="0.88" fill="#f3e52c" opacity="0.43"/>
<rect x="615.78" y="486.75" width="1.11" height="1.11" fill="#f3e52c" opacity="0.63"/>
<rect x="601.30" y="413.50" width="0.98" height="0.98" fill="#f3e52c" opacity="0.61"/>
<rect x="567.50" y="332.28" width="0.87" height="0.87" fill="#f3e52c" opacity="0.51"/>
<rect x="574.16" y="467.71" width="0.88" height="0.88" fill="#f3e52c" opacity="0.59"/>
<rect x="533.45" y="426.79" width="0.99" height="0.99" fill="#f3e52c" opacity="0.39"/>
<rect x="456.89" y="499.04" width="0.96" height="0.96" fill="#f3e52c" opacity="0.35"/>
<rect x="612.01" y="296.68" width="1.04" height="1.04" fill="#f3e52c" opacity="0.33"/>
<rect x="540.74" y="487.39" width="0.95" height="0.95" fill="#f3e52c" opacity="0.34"/>
<rect x="516.57" y="506.52" width="0.91" height="0.91" fill="#f3e52c" opacity="0.38"/>
<rect x="509.04" y="302.74" width="1.03" height="1.03" fill="#f3e52c" opacity="0.57"/>
<rect x="571.11" y="397.99" width="0.83" height="0.83" fill="#f3e52c" opacity="0.32"/>
<rect x="429.79" y="401.46" width="0.94" height="0.94" fill="#f3e52c" opacity="0.63"/>
<rect x="445.29" y="493.02" width="1.06" height="1.06" fill="#f3e52c" opacity="0.51"/>
<rect x="410.30" y="442.43" width="0.98" height="0.98" fill="#f3e52c" opacity="0.59"/>
<rect x="583.86" y="316.33" width="1.01" height="1.01" fill="#f3e52c" opacity="0.63"/>
<rect x="510.12" y="455.63" width="0.86" height="0.86" fill="#f3e52c" opacity="0.59"/>
<rect x="552.99" y="377.44" width="1.19" height="1.19" fill="#f3e52c" opacity="0.52"/>
<rect x="471.68" y="358.79" width="1.17" height="1.17" fill="#f3e52c" opacity="0.36"/>
<rect x="623.29" y="425.34" width="0.85" height="0.85" fill="#f3e52c" opacity="0.48"/>
<rect x="584.36" y="407.42" width="0.91" height="0.91" fill="#f3e52c" opacity="0.57"/>
<rect x="421.99" y="364.54" width="0.94" height="0.94" fill="#f3e52c" opacity="0.51"/>
<rect x="518.85" y="457.72" width="0.88" height="0.88" fill="#f3e52c" opacity="0.59"/>
<rect x="506.82" y="456.78" width="1.04" height="1.04" fill="#f3e52c" opacity="0.57"/>
<rect x="418.93" y="415.31" width="0.86" height="0.86" fill="#f3e52c" opacity="0.57"/>
<rect x="408.44" y="326.07" width="1.02" height="1.02" fill="#f3e52c" opacity="0.48"/>
<rect x="526.04" y="458.05" width="0.98" height="0.98" fill="#f3e52c" opacity="0.36"/>
<rect x="482.85" y="382.45" width="1.04" height="1.04" fill="#f3e52c" opacity="0.41"/>
<rect x="544.84" y="337.41" width="1.11" height="1.11" fill="#f3e52c" opacity="0.3"/>
<rect x="517.23" y="483.71" width="1.13" height="1.13" fill="#f3e52c" opacity="0.5"/>
<rect x="503.16" y="379.15" width="1.00" height="1.00" fill="#f3e52c" opacity="0.37"/>
<rect x="616.26" y="511.06" width="0.81" height="0.81" fill="#f3e52c" opacity="0.4"/>
<rect x="431.55" y="435.40" width="1.05" height="1.05" fill="#f3e52c" opacity="0.44"/>
<rect x="629.38" y="446.50" width="1.18" height="1.18" fill="#f3e52c" opacity="0.64"/>
<rect x="528.76" y="332.45" width="0.83" height="0.83" fill="#f3e52c" opacity="0.63"/>
<rect x="503.12" y="443.88" width="1.17" height="1.17" fill="#f3e52c" opacity="0.44"/>
<rect x="418.79" y="517.82" width="1.12" height="1.12" fill="#f3e52c" opacity="0.36"/>
<rect x="549.58" y="503.64" width="1.13" height="1.13" fill="#f3e52c" opacity="0.64"/>
<rect x="485.54" y="334.84" width="1.16" height="1.16" fill="#f3e52c" opacity="0.38"/>
<rect x="510.81" y="286.58" width="1.18" height="1.18" fill="#f3e52c" opacity="0.5"/>
<rect x="528.75" y="519.37" width="1.13" height="1.13" fill="#f3e52c" opacity="0.63"/>
<rect x="532.58" y="469.27" width="0.85" height="0.85" fill="#f3e52c" opacity="0.52"/>
<rect x="563.55" y="381.93" width="1.14" height="1.14" fill="#f3e52c" opacity="0.31"/>
<rect x="399.17" y="500.02" width="0.92" height="0.92" fill="#f3e52c" opacity="0.32"/>
<rect x="455.28" y="474.93" width="1.13" height="1.13" fill="#f3e52c" opacity="0.48"/>
<rect x="445.45" y="403.75" width="0.86" height="0.86" fill="#f3e52c" opacity="0.65"/>
<rect x="419.29" y="467.56" width="1.03" height="1.03" fill="#f3e52c" opacity="0.61"/>
<rect x="554.34" y="491.89" width="1.04" height="1.04" fill="#f3e52c" opacity="0.56"/>
<rect x="620.67" y="372.52" width="0.90" height="0.90" fill="#f3e52c" opacity="0.59"/>
<rect x="564.81" y="312.00" width="0.88" height="0.88" fill="#f3e52c" opacity="0.59"/>
<rect x="512.45" y="471.71" width="0.90" height="0.90" fill="#f3e52c" opacity="0.33"/>
<rect x="612.05" y="490.36" width="1.05" height="1.05" fill="#f3e52c" opacity="0.39"/>
<rect x="457.32" y="440.40" width="1.14" height="1.14" fill="#f3e52c" opacity="0.32"/>
<rect x="490.92" y="446.37" width="0.99" height="0.99" fill="#f3e52c" opacity="0.52"/>
<rect x="604.43" y="372.95" width="1.14" height="1.14" fill="#f3e52c" opacity="0.61"/>
<rect x="592.18" y="518.44" width="0.83" height="0.83" fill="#f3e52c" opacity="0.48"/>
<rect x="444.64" y="438.02" width="1.01" height="1.01" fill="#f3e52c" opacity="0.49"/>
<rect x="580.92" y="340.45" width="0.89" height="0.89" fill="#f3e52c" opacity="0.5"/>
<rect x="510.57" y="418.50" width="1.09" height="1.09" fill="#f3e52c" opacity="0.55"/>
<rect x="566.78" y="433.05" width="0.83" height="0.83" fill="#f3e52c" opacity="0.5"/>
<rect x="458.38" y="450.56" width="0.84" height="0.84" fill="#f3e52c" opacity="0.33"/>
<rect x="503.72" y="295.46" width="1.05" height="1.05" fill="#f3e52c" opacity="0.39"/>
<rect x="624.96" y="477.74" width="1.07" height="1.07" fill="#f3e52c" opacity="0.33"/>
<rect x="626.28" y="307.33" width="1.13" height="1.13" fill="#f3e52c" opacity="0.43"/>
<rect x="505.67" y="406.04" width="1.17" height="1.17" fill="#f3e52c" opacity="0.5"/>
<rect x="456.86" y="308.45" width="0.97" height="0.97" fill="#f3e52c" opacity="0.56"/>
<rect x="623.05" y="340.31" width="0.85" height="0.85" fill="#f3e52c" opacity="0.59"/>
<rect x="505.57" y="286.89" width="0.95" height="0.95" fill="#f3e52c" opacity="0.36"/>
<rect x="425.75" y="286.89" width="0.97" height="0.97" fill="#f3e52c" opacity="0.3"/>
<rect x="517.54" y="296.03" width="0.88" height="0.88" fill="#f3e52c" opacity="0.62"/>
<rect x="635.96" y="475.79" width="0.88" height="0.88" fill="#f3e52c" opacity="0.35"/>
<rect x="421.43" y="524.31" width="0.89" height="0.89" fill="#f3e52c" opacity="0.58"/>
<rect x="501.38" y="426.31" width="1.05" height="1.05" fill="#f3e52c" opacity="0.35"/>
<rect x="583.38" y="464.70" width="1.01" height="1.01" fill="#f3e52c" opacity="0.38"/>
<rect x="459.48" y="489.11" width="0.96" height="0.96" fill="#f3e52c" opacity="0.45"/>
<rect x="421.13" y="326.15" width="0.93" height="0.93" fill="#f3e52c" opacity="0.54"/>
<rect x="442.96" y="514.21" width="1.19" height="1.19" fill="#f3e52c" opacity="0.38"/>
<rect x="400.43" y="303.24" width="0.97" height="0.97" fill="#f3e52c" opacity="0.3"/>
<rect x="550.52" y="443.80" width="1.19" height="1.19" fill="#f3e52c" opacity="0.59"/>
<rect x="555.85" y="357.34" width="0.93" height="0.93" fill="#f3e52c" opacity="0.62"/>
<rect x="620.69" y="465.84" width="0.82" height="0.82" fill="#f3e52c" opacity="0.32"/>
<rect x="523.39" y="376.99" width="1.12" height="1.12" fill="#f3e52c" opacity="0.62"/>
<rect x="489.28" y="418.73" width="0.96" height="0.96" fill="#f3e52c" opacity="0.62"/>
<rect x="449.84" y="493.72" width="0.88" height="0.88" fill="#f3e52c" opacity="0.62"/>
<rect x="438.33" y="287.47" width="0.90" height="0.90" fill="#f3e52c" opacity="0.43"/>
<rect x="440.91" y="292.56" width="0.83" height="0.83" fill="#f3e52c" opacity="0.36"/>
<rect x="563.11" y="408.86" width="0.96" height="0.96" fill="#f3e52c" opacity="0.46"/>
<rect x="611.20" y="488.78" width="1.02" height="1.02" fill="#f3e52c" opacity="0.37"/>
<rect x="516.48" y="432.44" width="0.97" height="0.97" fill="#f3e52c" opacity="0.41"/>
<rect x="400.58" y="476.78" width="1.09" height="1.09" fill="#f3e52c" opacity="0.44"/>
<rect x="427.20" y="498.85" width="1.09" height="1.09" fill="#f3e52c" opacity="0.37"/>
<rect x="622.77" y="399.84" width="0.83" height="0.83" fill="#f3e52c" opacity="0.41"/>
<rect x="546.21" y="289.23" width="1.17" height="1.17" fill="#f3e52c" opacity="0.38"/>
<rect x="543.68" y="387.49" width="1.15" height="1.15" fill="#f3e52c" opacity="0.36"/>
<rect x="521.08" y="386.48" width="0.99" height="0.99" fill="#f3e52c" opacity="0.47"/>
<rect x="402.00" y="482.82" width="1.18" height="1.18" fill="#f3e52c" opacity="0.41"/>
<line x1="398.50" y1="315.01" x2="398.50" y2="286.00" stroke="#f3e52c" stroke-width="1.2" opacity="0.95"/>
<line x1="398.50" y1="452.13" x2="398.50" y2="437.62" stroke="#f3e52c" stroke-width="1.2" opacity="0.9"/>
<line x1="463.50" y1="300.98" x2="463.50" y2="286.00" stroke="#f3e52c" stroke-width="1.0" opacity="0.42"/>
<line x1="484.50" y1="301.91" x2="484.50" y2="286.00" stroke="#f3e52c" stroke-width="1.0" opacity="0.42"/>
<line x1="500.50" y1="344.50" x2="500.50" y2="286.00" stroke="#f3e52c" stroke-width="1.3" opacity="0.45"/>
<line x1="502.50" y1="361.81" x2="502.50" y2="345.43" stroke="#f3e52c" stroke-width="0.9" opacity="0.6" stroke-dasharray="1.5 2.1 1.7 2.2 2.3 1.1 1.0 2.7 1.5 1.5 3.0 1.9 2.7 2.0 2.3 1.3 2.3 2.7 2.0 2.5 2.3 1.1 2.5 2.2 1.6 1.1 2.7 1.9 2.4 2.8 2.4 2.8 1.8 2.6 1.9 2.9 2.8 1.2 1.3 1.4"/>
<line x1="416.50" y1="331.39" x2="416.50" y2="316.42" stroke="#f3e52c" stroke-width="1.0" opacity="0.6"/>
<line x1="421.50" y1="361.34" x2="421.50" y2="346.37" stroke="#f3e52c" stroke-width="1.0" opacity="0.55"/>
<line x1="478.50" y1="376.79" x2="478.50" y2="361.34" stroke="#f3e52c" stroke-width="1.0" opacity="0.75"/>
<line x1="403.50" y1="315.01" x2="403.50" y2="305.65" stroke="#f3e52c" stroke-width="0.9" opacity="0.5" stroke-dasharray="1.5 1.2 1.8 1.3 1.1 1.8 2.8 2.6 2.5 1.4 2.1 1.6 1.3 1.2 1.4 2.9 2.7 2.6 2.6 1.4 1.6 2.3 2.5 2.7 2.8 1.2 2.2 2.3 2.0 1.4 1.9 1.2 2.9 2.7 2.1 1.6 2.8 2.1 2.8 2.7"/>
<line x1="418.50" y1="315.01" x2="418.50" y2="305.65" stroke="#f3e52c" stroke-width="0.9" opacity="0.5" stroke-dasharray="2.2 2.5 2.6 2.9 2.5 2.8 1.1 1.9 2.9 2.3 2.8 1.2 1.9 1.5 2.1 2.1 1.0 1.4 1.6 2.8 2.5 1.3 2.6 1.3 2.2 1.3 1.0 2.7 1.4 1.4 3.0 2.7 1.6 2.9 2.1 2.4 1.4 2.9 2.4 2.9"/>
<line x1="486.50" y1="315.01" x2="486.50" y2="297.23" stroke="#f3e52c" stroke-width="0.9" opacity="0.6" stroke-dasharray="2.6 2.6 2.0 1.5 1.0 2.3 1.9 2.5 1.7 2.5 1.5 2.6 2.5 1.8 2.1 2.4 1.4 2.1 2.6 1.5 2.6 2.4 2.7 1.7 1.2 2.6 2.6 1.9 1.2 1.4 2.3 1.6 2.9 2.2 1.4 2.3 1.7 2.9 2.8 2.0"/>
<line x1="530.50" y1="300.98" x2="530.50" y2="286.00" stroke="#f3e52c" stroke-width="1.0" opacity="0.9"/>
<line x1="535.50" y1="300.98" x2="535.50" y2="286.00" stroke="#f3e52c" stroke-width="1.0" opacity="0.8"/>
<line x1="530.33" y1="300.50" x2="535.03" y2="300.50" stroke="#f3e52c" stroke-width="1.0" opacity="0.8"/>
<line x1="535.50" y1="329.05" x2="535.50" y2="300.98" stroke="#f3e52c" stroke-width="0.9" opacity="0.45" stroke-dasharray="1.6 1.3 2.3 1.1 2.1 1.7 1.1 2.0 1.1 1.9 1.1 1.2 1.8 2.7 1.2 1.4 2.3 2.9 2.2 1.8 3.0 1.1 2.7 1.6 1.3 1.2 1.6 2.6 1.4 2.2 2.3 1.7 2.1 1.1 1.1 1.4 2.4 1.9 1.6 2.2"/>
<line x1="541.50" y1="345.43" x2="541.50" y2="286.00" stroke="#f3e52c" stroke-width="1.0" opacity="0.85"/>
<line x1="537.50" y1="329.05" x2="537.50" y2="315.01" stroke="#f3e52c" stroke-width="1.0" opacity="0.7"/>
<line x1="559.50" y1="329.05" x2="559.50" y2="314.08" stroke="#f3e52c" stroke-width="0.9" opacity="0.6" stroke-dasharray="1.5 2.9 1.3 2.4 1.2 1.5 3.0 1.4 2.3 1.9 1.9 2.0 1.4 2.7 1.2 1.5 1.0 1.5 1.8 2.8 1.8 1.2 1.5 3.0 1.1 2.2 1.8 2.3 1.7 2.4 2.0 2.3 2.8 2.2 1.3 1.1 2.9 2.0 1.4 2.9"/>
<line x1="559.50" y1="406.27" x2="559.50" y2="345.43" stroke="#f3e52c" stroke-width="1.2" opacity="0.6"/>
<line x1="559.50" y1="450.73" x2="559.50" y2="421.71" stroke="#f3e52c" stroke-width="1.1" opacity="0.55"/>
<line x1="559.50" y1="482.55" x2="559.50" y2="467.10" stroke="#f3e52c" stroke-width="0.9" opacity="0.5" stroke-dasharray="1.9 1.7 1.3 2.7 1.0 2.0 2.8 1.2 2.1 2.2 1.1 1.8 2.4 1.9 2.5 1.3 1.5 1.2 2.0 2.8 2.2 2.5 1.8 2.5 1.2 1.6 2.3 2.5 1.8 1.2 1.5 1.4 1.6 2.6 1.4 2.8 2.8 1.1 1.8 2.0"/>
<line x1="559.50" y1="512.96" x2="559.50" y2="482.08" stroke="#f3e52c" stroke-width="1.1" opacity="0.6"/>
<line x1="565.50" y1="329.05" x2="565.50" y2="286.00" stroke="#f3e52c" stroke-width="1.2" opacity="0.85"/>
<line x1="569.50" y1="300.98" x2="569.50" y2="286.00" stroke="#f3e52c" stroke-width="1.0" opacity="0.75"/>
<line x1="584.50" y1="315.01" x2="584.50" y2="300.98" stroke="#f3e52c" stroke-width="1.0" opacity="0.9"/>
<line x1="584.50" y1="342.16" x2="584.50" y2="315.01" stroke="#f3e52c" stroke-width="0.9" opacity="0.5" stroke-dasharray="2.1 1.9 2.2 1.4 2.6 2.6 2.3 1.3 2.0 1.7 1.5 2.9 3.0 1.1 2.7 2.2 1.8 1.6 2.3 1.9 2.4 2.3 1.3 2.5 3.0 2.9 2.2 1.1 1.0 1.3 2.9 1.6 1.7 2.8 1.6 2.1 1.9 1.1 2.2 2.7"/>
<line x1="587.50" y1="329.05" x2="587.50" y2="286.00" stroke="#f3e52c" stroke-width="0.9" opacity="0.55" stroke-dasharray="1.9 2.1 2.8 1.9 2.0 2.2 1.4 2.0 2.3 2.6 1.2 1.6 1.2 2.6 2.4 1.1 3.0 2.9 2.3 2.2 1.3 1.0 2.1 1.1 1.4 1.5 1.1 1.9 1.9 2.7 2.0 2.3 2.0 2.3 1.9 1.6 3.0 3.0 2.7 2.4"/>
<line x1="589.50" y1="329.05" x2="589.50" y2="286.00" stroke="#f3e52c" stroke-width="1.0" opacity="0.5"/>
<line x1="592.50" y1="300.98" x2="592.50" y2="286.00" stroke="#f3e52c" stroke-width="1.0" opacity="0.7"/>
<line x1="594.50" y1="300.98" x2="594.50" y2="286.00" stroke="#f3e52c" stroke-width="1.0" opacity="0.7"/>
<line x1="634.50" y1="329.05" x2="634.50" y2="286.00" stroke="#f3e52c" stroke-width="0.9" opacity="0.5" stroke-dasharray="1.9 2.3 2.3 1.3 1.0 1.7 1.5 2.6 2.4 2.2 2.1 2.3 1.3 1.9 1.3 2.8 1.1 2.6 1.1 2.4 1.7 1.8 2.7 1.0 1.1 2.8 2.0 1.2 3.0 2.9 1.2 1.8 1.3 1.6 2.2 1.3 2.4 1.1 1.3 2.6"/>
<line x1="636.50" y1="329.05" x2="636.50" y2="286.00" stroke="#f3e52c" stroke-width="0.9" opacity="0.55" stroke-dasharray="1.5 2.4 2.4 2.7 1.4 1.5 1.3 1.5 2.5 1.3 2.1 1.4 1.6 1.9 2.7 2.2 1.0 1.6 1.3 2.7 2.6 2.6 2.7 2.5 2.9 2.6 1.5 2.7 2.0 2.5 2.1 1.9 1.7 1.9 1.6 1.2 2.6 2.6 3.0 2.4"/>
<line x1="493.50" y1="496.12" x2="493.50" y2="481.61" stroke="#f3e52c" stroke-width="1.2" opacity="0.6"/>
<line x1="485.50" y1="511.56" x2="485.50" y2="496.59" stroke="#f3e52c" stroke-width="0.9" opacity="0.35" stroke-dasharray="1.2 2.4 2.3 2.9 1.5 1.5 2.5 2.3 1.6 2.4 1.8 2.6 1.2 1.4 2.8 1.7 1.5 2.6 2.3 1.3 2.1 2.3 1.3 2.3 1.2 1.7 1.2 1.4 3.0 1.8 3.0 1.9 2.2 2.7 2.4 1.2 2.2 2.3 1.4 1.2"/>
<line x1="430.50" y1="473.19" x2="430.50" y2="457.74" stroke="#f3e52c" stroke-width="0.9" opacity="0.5" stroke-dasharray="2.9 1.0 2.5 1.3 3.0 1.0 2.8 2.4 2.7 3.0 1.5 1.7 2.4 1.6 1.5 1.5 2.7 2.7 2.6 1.4 2.8 2.0 1.5 1.9 1.8 1.2 2.1 1.7 2.1 2.9 2.3 1.8 2.7 3.0 2.0 2.9 1.0 1.3 1.3 2.9"/>
<line x1="591.50" y1="473.19" x2="591.50" y2="459.15" stroke="#f3e52c" stroke-width="0.9" opacity="0.5" stroke-dasharray="1.7 2.0 1.8 1.9 1.8 2.3 1.5 2.3 1.0 1.6 1.7 1.3 2.5 1.6 2.6 2.9 1.5 2.8 2.6 2.3 1.1 1.9 2.3 1.6 1.4 1.6 1.5 2.6 1.7 1.8 2.3 2.9 1.6 1.1 2.9 2.7 2.6 2.0 1.5 1.3"/>
<line x1="589.50" y1="512.96" x2="589.50" y2="497.99" stroke="#f3e52c" stroke-width="1.0" opacity="0.5"/>
<line x1="592.50" y1="512.96" x2="592.50" y2="497.99" stroke="#f3e52c" stroke-width="1.0" opacity="0.55"/>
<line x1="594.50" y1="512.96" x2="594.50" y2="497.99" stroke="#f3e52c" stroke-width="0.9" opacity="0.9" stroke-dasharray="2.0 2.6 2.9 1.6 2.5 2.4 2.3 1.2 1.1 1.8 2.5 1.5 2.0 1.6 2.7 2.9 1.8 3.0 1.1 2.6 2.8 1.3 2.4 2.1 2.9 1.4 2.1 2.8 2.3 1.6 1.2 2.9 1.9 3.0 1.3 2.6 2.6 2.8 1.0 1.7"/>
<line x1="508.50" y1="359.47" x2="508.50" y2="343.09" stroke="#f3e52c" stroke-width="0.9" opacity="0.5" stroke-dasharray="1.4 2.3 1.7 1.4 2.0 2.0 2.0 1.9 1.5 1.5 2.4 1.6 2.3 2.6 2.7 2.9 1.5 1.5 2.5 2.2 1.4 2.4 2.7 2.7 1.4 1.6 1.0 3.0 1.4 2.5 2.1 2.2 2.1 2.7 2.2 1.6 1.2 2.0 2.8 1.3"/>
<line x1="454.50" y1="478.80" x2="454.50" y2="464.76" stroke="#f3e52c" stroke-width="0.9" opacity="0.4" stroke-dasharray="2.4 2.6 2.0 2.0 1.8 3.0 1.6 1.3 1.5 1.5 1.7 1.5 1.2 1.7 1.6 2.1 1.4 1.1 1.4 2.1 1.8 2.5 2.6 1.8 1.2 2.5 2.5 1.8 2.3 1.6 2.8 2.7 2.6 2.9 1.5 2.1 2.5 2.6 1.8 1.3"/>
<line x1="397.40" y1="295.83" x2="637.90" y2="295.83" stroke="#f3e52c" stroke-width="2.3" opacity="0.97"/>
<line x1="397.40" y1="301.40" x2="637.90" y2="301.40" stroke="#f3e52c" stroke-width="1.6" opacity="0.62" stroke-dasharray="10.57 2.79" stroke-dashoffset="1.88"/>
<line x1="397.40" y1="306.50" x2="637.90" y2="306.50" stroke="#f3e52c" stroke-width="1.2" opacity="0.9" stroke-dasharray="7.05 1.03 1.17 1.03 1.88 1.19" stroke-dashoffset="-0.94"/>
<line x1="397.40" y1="317.63" x2="637.90" y2="317.63" stroke="#f3e52c" stroke-width="1.5" opacity="0.95" stroke-dasharray="10.33 3.03" stroke-dashoffset="2.82"/>
<line x1="397.40" y1="340.28" x2="637.90" y2="340.28" stroke="#f3e52c" stroke-width="1.4" opacity="0.9" stroke-dasharray="2.7 0.6 4.5 0.5 2.9 0.7 5.2 0.6 4.0 0.4 2.0 0.5 4.3 0.3 5.2 0.4 2.9 0.3 6.0 0.7 5.5 0.6 2.1 0.5 4.0 0.4 5.8 0.5 2.6 0.7 2.5 0.8 3.8 0.6 3.4 0.5 2.7 0.3 5.5 0.4 5.1 0.4 5.9 0.7 5.0 0.7 4.3 0.7 2.5 0.5 5.3 0.4 5.7 0.7 3.6 0.5 3.8 0.5 6.0 0.5 2.1 0.3 4.9 0.8 4.0 0.5 4.2 0.7 2.9 0.6 4.2 0.6 2.7 0.4 3.4 0.8 3.4 0.6 3.2 0.4"/>
<line x1="397.40" y1="410.90" x2="637.90" y2="410.90" stroke="#f3e52c" stroke-width="1.6" opacity="0.6" stroke-dasharray="10.10 3.26" stroke-dashoffset="4.70"/>
<line x1="397.40" y1="420.07" x2="637.90" y2="420.07" stroke="#f3e52c" stroke-width="1.4" opacity="0.8" stroke-dasharray="4.9 0.4 1.6 0.9 2.1 0.4 3.8 0.5 4.6 0.4 4.9 0.5 3.6 0.9 3.9 0.9 4.0 0.3 4.6 0.7 2.6 0.4 4.5 0.6 4.8 0.8 4.9 0.6 3.9 0.7 2.4 0.9 2.6 0.8 4.8 0.7 2.0 0.8 3.8 0.4 1.7 0.6 1.6 0.9 3.3 0.6 2.9 0.7 4.7 0.5 2.8 0.6 2.5 0.7 3.4 0.6 3.9 0.6 1.8 0.9 2.7 0.6 2.9 0.9 4.8 0.6 2.9 0.4 4.6 0.4 3.4 0.5 2.6 0.5 2.2 0.3 3.4 0.8 3.8 0.4"/>
<line x1="397.40" y1="442.54" x2="637.90" y2="442.54" stroke="#f3e52c" stroke-width="2.0" opacity="0.9"/>
<line x1="397.40" y1="442.54" x2="637.90" y2="442.54" stroke="#f3e52c" stroke-width="3.0" opacity="0.7" stroke-dasharray="5.7 1.9 5.6 0.6 4.4 1.1 4.1 0.7 2.8 1.2 2.9 1.2 2.1 0.6 4.8 1.1 4.1 1.6 3.4 0.6 5.1 1.4 4.6 1.4 5.9 1.0 5.0 1.1 4.3 1.5 3.3 0.6 3.9 1.6 4.4 1.2 4.6 0.8 2.7 1.0 5.3 0.8 2.5 0.6 2.2 0.9 4.3 1.7 3.3 1.1 3.2 1.0 5.1 1.3 3.0 0.7 5.1 1.6 5.3 0.9 4.2 1.9 4.4 1.9 2.7 2.0 2.2 1.1 2.1 1.7 4.7 2.0 5.2 1.9 4.2 2.0 5.0 1.0 5.9 1.1"/>
<line x1="397.40" y1="446.50" x2="637.90" y2="446.50" stroke="#f3e52c" stroke-width="1.3" opacity="0.7" stroke-dasharray="8.69 4.67" stroke-dashoffset="7.52"/>
<line x1="397.40" y1="458.12" x2="637.90" y2="458.12" stroke="#f3e52c" stroke-width="1.2" opacity="0.85" stroke-dasharray="4.8 0.7 2.7 0.8 2.8 0.6 2.4 0.7 2.6 0.7 4.9 0.7 3.8 0.7 6.0 0.4 4.1 0.8 5.0 0.5 3.2 0.8 2.3 0.7 5.4 0.4 3.3 0.5 4.2 0.5 5.6 0.8 3.3 0.7 2.3 0.3 4.7 0.7 5.3 0.8 5.4 0.4 5.0 0.8 2.4 0.5 2.6 0.4 3.9 0.6 5.9 0.4 4.0 0.8 5.1 0.6 3.0 0.6 3.0 0.6 4.6 0.5 5.2 0.5 3.9 0.7 3.0 0.4 4.3 0.5 5.5 0.4 3.5 0.3 3.8 0.5 3.8 0.7 2.1 0.8"/>
<line x1="397.40" y1="471.55" x2="637.90" y2="471.55" stroke="#f3e52c" stroke-width="1.0" opacity="0.5" stroke-dasharray="1.0 12.3 1.1 12.3 1.1 12.3 0.8 12.3 0.9 12.3 1.0 12.3 0.8 12.3 1.1 12.3 1.1 12.3 1.1 12.3 0.9 12.3 0.8 12.3 1.1 12.3 1.0 12.3 0.9 12.3 1.0 12.3 1.0 12.3 0.9 12.3 0.8 12.3 1.1 12.3 1.0 12.3 1.0 12.3 1.0 12.3 0.8 12.3 0.9 12.3 1.0 12.3 1.1 12.3 1.0 12.3 1.0 12.3 0.8 12.3 0.8 12.3 1.2 12.3 0.9 12.3 1.2 12.3 0.9 12.3 1.0 12.3 1.0 12.3 1.0 12.3 1.1 12.3 0.9 12.3"/>
<line x1="397.40" y1="476.70" x2="637.90" y2="476.70" stroke="#f3e52c" stroke-width="1.6" opacity="0.55" stroke-dasharray="7.05 6.31" stroke-dashoffset="5.64"/>
<line x1="397.40" y1="524.66" x2="637.90" y2="524.66" stroke="#f3e52c" stroke-width="1.4" opacity="0.6" stroke-dasharray="8.92 4.43" stroke-dashoffset="1.88"/>
</g>
<rect x="397.40" y="286.00" width="240.50" height="239.60" fill="none" stroke="#222" stroke-width="0.9"/>
<line x1="397.63" y1="525.60" x2="397.63" y2="528.60" stroke="#222" stroke-width="0.9"/>
<line x1="394.40" y1="525.37" x2="397.40" y2="525.37" stroke="#222" stroke-width="0.9"/>
<text x="397.63" y="539.30" font-size="8.9" text-anchor="middle" fill="#1a1a1a" textLength="5.15" lengthAdjust="spacingAndGlyphs">0</text>
<text x="390.90" y="529.25" font-size="8.9" text-anchor="end" fill="#1a1a1a" textLength="5.15" lengthAdjust="spacingAndGlyphs">0</text>
<line x1="444.61" y1="525.60" x2="444.61" y2="528.60" stroke="#222" stroke-width="0.9"/>
<line x1="394.40" y1="478.57" x2="397.40" y2="478.57" stroke="#222" stroke-width="0.9"/>
<text x="444.61" y="539.30" font-size="8.9" text-anchor="middle" fill="#1a1a1a" textLength="15.45" lengthAdjust="spacingAndGlyphs">100</text>
<text x="390.90" y="482.46" font-size="8.9" text-anchor="end" fill="#1a1a1a" textLength="15.45" lengthAdjust="spacingAndGlyphs">100</text>
<line x1="491.58" y1="525.60" x2="491.58" y2="528.60" stroke="#222" stroke-width="0.9"/>
<line x1="394.40" y1="431.77" x2="397.40" y2="431.77" stroke="#222" stroke-width="0.9"/>
<text x="491.58" y="539.30" font-size="8.9" text-anchor="middle" fill="#1a1a1a" textLength="15.45" lengthAdjust="spacingAndGlyphs">200</text>
<text x="390.90" y="435.66" font-size="8.9" text-anchor="end" fill="#1a1a1a" textLength="15.45" lengthAdjust="spacingAndGlyphs">200</text>
<line x1="538.55" y1="525.60" x2="538.55" y2="528.60" stroke="#222" stroke-width="0.9"/>
<line x1="394.40" y1="384.98" x2="397.40" y2="384.98" stroke="#222" stroke-width="0.9"/>
<text x="538.55" y="539.30" font-size="8.9" text-anchor="middle" fill="#1a1a1a" textLength="15.45" lengthAdjust="spacingAndGlyphs">300</text>
<text x="390.90" y="388.86" font-size="8.9" text-anchor="end" fill="#1a1a1a" textLength="15.45" lengthAdjust="spacingAndGlyphs">300</text>
<line x1="585.53" y1="525.60" x2="585.53" y2="528.60" stroke="#222" stroke-width="0.9"/>
<line x1="394.40" y1="338.18" x2="397.40" y2="338.18" stroke="#222" stroke-width="0.9"/>
<text x="585.53" y="539.30" font-size="8.9" text-anchor="middle" fill="#1a1a1a" textLength="15.45" lengthAdjust="spacingAndGlyphs">400</text>
<text x="390.90" y="342.06" font-size="8.9" text-anchor="end" fill="#1a1a1a" textLength="15.45" lengthAdjust="spacingAndGlyphs">400</text>
<line x1="632.50" y1="525.60" x2="632.50" y2="528.60" stroke="#222" stroke-width="0.9"/>
<line x1="394.40" y1="291.38" x2="397.40" y2="291.38" stroke="#222" stroke-width="0.9"/>
<text x="632.50" y="539.30" font-size="8.9" text-anchor="middle" fill="#1a1a1a" textLength="15.45" lengthAdjust="spacingAndGlyphs">500</text>
<text x="390.90" y="295.27" font-size="8.9" text-anchor="end" fill="#1a1a1a" textLength="15.45" lengthAdjust="spacingAndGlyphs">500</text>
<text x="518.00" y="551.50" font-size="9.3" text-anchor="middle" fill="#1a1a1a" textLength="34.50" lengthAdjust="spacingAndGlyphs">Time [s]</text>
<text x="369.80" y="406.50" font-size="9.3" text-anchor="middle" fill="#1a1a1a" textLength="65.00" lengthAdjust="spacingAndGlyphs" transform="rotate(-90 369.80 406.50)">Frequency Bins</text>
<text x="367.60" y="538.30" font-size="16.8" text-anchor="start" fill="#111" font-weight="bold">d</text>
<rect x="648.80" y="291.50" width="12.10" height="228.00" fill="url(#vir)" stroke="#222" stroke-width="0.9"/>
<line x1="660.90" y1="519.50" x2="664.50" y2="519.50" stroke="#222" stroke-width="0.9"/>
<text x="668.10" y="523.80" font-size="10.6" text-anchor="start" fill="#1a1a1a" textLength="15.90" lengthAdjust="spacingAndGlyphs">0.0</text>
<line x1="660.90" y1="473.90" x2="664.50" y2="473.90" stroke="#222" stroke-width="0.9"/>
<text x="668.10" y="478.20" font-size="10.6" text-anchor="start" fill="#1a1a1a" textLength="15.90" lengthAdjust="spacingAndGlyphs">0.2</text>
<line x1="660.90" y1="428.30" x2="664.50" y2="428.30" stroke="#222" stroke-width="0.9"/>
<text x="668.10" y="432.60" font-size="10.6" text-anchor="start" fill="#1a1a1a" textLength="15.90" lengthAdjust="spacingAndGlyphs">0.4</text>
<line x1="660.90" y1="382.70" x2="664.50" y2="382.70" stroke="#222" stroke-width="0.9"/>
<text x="668.10" y="387.00" font-size="10.6" text-anchor="start" fill="#1a1a1a" textLength="15.90" lengthAdjust="spacingAndGlyphs">0.6</text>
<line x1="660.90" y1="337.10" x2="664.50" y2="337.10" stroke="#222" stroke-width="0.9"/>
<text x="668.10" y="341.40" font-size="10.6" text-anchor="start" fill="#1a1a1a" textLength="15.90" lengthAdjust="spacingAndGlyphs">0.8</text>
<line x1="660.90" y1="291.50" x2="664.50" y2="291.50" stroke="#222" stroke-width="0.9"/>
<text x="668.10" y="295.80" font-size="10.6" text-anchor="start" fill="#1a1a1a" textLength="15.90" lengthAdjust="spacingAndGlyphs">1.0</text>
</g>
<g id="pf">
<rect x="408.30" y="573.10" width="223.70" height="223.20" fill="#410a59"/>
<clipPath id="clipf"><rect x="408.30" y="573.10" width="223.70" height="223.20"/></clipPath>
<g clip-path="url(#clipf)">
<rect x="480.60" y="657.71" width="0.70" height="0.70" fill="#f3e52c" opacity="0.49"/>
<rect x="591.39" y="573.57" width="0.81" height="0.81" fill="#f3e52c" opacity="0.26"/>
<rect x="420.77" y="752.29" width="0.71" height="0.71" fill="#f3e52c" opacity="0.41"/>
<rect x="489.77" y="614.18" width="1.00" height="1.00" fill="#f3e52c" opacity="0.3"/>
<rect x="445.69" y="718.14" width="0.71" height="0.71" fill="#f3e52c" opacity="0.39"/>
<rect x="450.64" y="762.12" width="1.06" height="1.06" fill="#f3e52c" opacity="0.33"/>
<rect x="618.87" y="577.65" width="0.97" height="0.97" fill="#f3e52c" opacity="0.27"/>
<rect x="441.31" y="740.43" width="0.99" height="0.99" fill="#f3e52c" opacity="0.35"/>
<rect x="474.79" y="791.36" width="0.84" height="0.84" fill="#f3e52c" opacity="0.32"/>
<rect x="423.96" y="739.88" width="0.82" height="0.82" fill="#f3e52c" opacity="0.32"/>
<rect x="518.27" y="669.62" width="1.04" height="1.04" fill="#f3e52c" opacity="0.29"/>
<rect x="429.66" y="727.98" width="0.79" height="0.79" fill="#f3e52c" opacity="0.37"/>
<rect x="514.50" y="724.04" width="0.74" height="0.74" fill="#f3e52c" opacity="0.43"/>
<rect x="547.23" y="656.87" width="0.98" height="0.98" fill="#f3e52c" opacity="0.46"/>
<rect x="416.31" y="753.32" width="0.89" height="0.89" fill="#f3e52c" opacity="0.41"/>
<rect x="520.67" y="683.16" width="0.82" height="0.82" fill="#f3e52c" opacity="0.27"/>
<rect x="602.87" y="577.12" width="0.90" height="0.90" fill="#f3e52c" opacity="0.34"/>
<rect x="437.12" y="661.85" width="0.78" height="0.78" fill="#f3e52c" opacity="0.39"/>
<rect x="470.37" y="691.44" width="1.05" height="1.05" fill="#f3e52c" opacity="0.29"/>
<rect x="527.47" y="724.50" width="0.89" height="0.89" fill="#f3e52c" opacity="0.46"/>
<rect x="518.03" y="581.17" width="0.86" height="0.86" fill="#f3e52c" opacity="0.34"/>
<rect x="551.91" y="683.97" width="0.97" height="0.97" fill="#f3e52c" opacity="0.29"/>
<rect x="411.61" y="701.52" width="0.73" height="0.73" fill="#f3e52c" opacity="0.27"/>
<rect x="541.39" y="641.94" width="1.06" height="1.06" fill="#f3e52c" opacity="0.4"/>
<rect x="532.00" y="718.80" width="0.89" height="0.89" fill="#f3e52c" opacity="0.29"/>
<rect x="431.28" y="676.50" width="0.95" height="0.95" fill="#f3e52c" opacity="0.29"/>
<rect x="573.05" y="677.65" width="0.82" height="0.82" fill="#f3e52c" opacity="0.46"/>
<rect x="413.45" y="735.60" width="0.83" height="0.83" fill="#f3e52c" opacity="0.4"/>
<rect x="464.77" y="577.30" width="0.74" height="0.74" fill="#f3e52c" opacity="0.34"/>
<rect x="513.01" y="630.07" width="0.80" height="0.80" fill="#f3e52c" opacity="0.25"/>
<rect x="573.98" y="620.51" width="0.93" height="0.93" fill="#f3e52c" opacity="0.47"/>
<rect x="496.33" y="695.53" width="0.90" height="0.90" fill="#f3e52c" opacity="0.24"/>
<rect x="592.69" y="781.57" width="0.73" height="0.73" fill="#f3e52c" opacity="0.47"/>
<rect x="508.92" y="762.73" width="1.06" height="1.06" fill="#f3e52c" opacity="0.26"/>
<rect x="509.39" y="792.05" width="0.76" height="0.76" fill="#f3e52c" opacity="0.34"/>
<rect x="564.32" y="766.45" width="1.00" height="1.00" fill="#f3e52c" opacity="0.39"/>
<rect x="558.11" y="581.04" width="0.89" height="0.89" fill="#f3e52c" opacity="0.2"/>
<rect x="421.07" y="601.98" width="0.74" height="0.74" fill="#f3e52c" opacity="0.28"/>
<rect x="553.68" y="631.59" width="1.00" height="1.00" fill="#f3e52c" opacity="0.37"/>
<rect x="481.29" y="595.27" width="0.71" height="0.71" fill="#f3e52c" opacity="0.28"/>
<rect x="627.95" y="753.38" width="1.04" height="1.04" fill="#f3e52c" opacity="0.38"/>
<rect x="549.09" y="654.74" width="0.88" height="0.88" fill="#f3e52c" opacity="0.45"/>
<rect x="421.69" y="731.77" width="1.01" height="1.01" fill="#f3e52c" opacity="0.42"/>
<rect x="551.24" y="642.19" width="0.82" height="0.82" fill="#f3e52c" opacity="0.38"/>
<rect x="535.33" y="614.55" width="0.79" height="0.79" fill="#f3e52c" opacity="0.29"/>
<rect x="479.80" y="749.33" width="0.99" height="0.99" fill="#f3e52c" opacity="0.35"/>
<rect x="423.55" y="597.15" width="0.91" height="0.91" fill="#f3e52c" opacity="0.45"/>
<rect x="574.09" y="706.90" width="0.83" height="0.83" fill="#f3e52c" opacity="0.36"/>
<rect x="617.57" y="617.22" width="1.08" height="1.08" fill="#f3e52c" opacity="0.37"/>
<rect x="529.69" y="728.54" width="0.92" height="0.92" fill="#f3e52c" opacity="0.37"/>
<rect x="577.92" y="609.23" width="1.06" height="1.06" fill="#f3e52c" opacity="0.28"/>
<rect x="552.42" y="780.54" width="0.81" height="0.81" fill="#f3e52c" opacity="0.38"/>
<rect x="408.76" y="603.60" width="0.92" height="0.92" fill="#f3e52c" opacity="0.27"/>
<rect x="502.38" y="628.29" width="0.74" height="0.74" fill="#f3e52c" opacity="0.47"/>
<rect x="554.80" y="677.91" width="0.78" height="0.78" fill="#f3e52c" opacity="0.39"/>
<rect x="457.81" y="779.70" width="1.04" height="1.04" fill="#f3e52c" opacity="0.31"/>
<rect x="579.90" y="687.80" width="0.93" height="0.93" fill="#f3e52c" opacity="0.32"/>
<rect x="590.77" y="622.12" width="0.86" height="0.86" fill="#f3e52c" opacity="0.37"/>
<rect x="469.69" y="593.22" width="0.88" height="0.88" fill="#f3e52c" opacity="0.38"/>
<rect x="536.33" y="773.47" width="0.83" height="0.83" fill="#f3e52c" opacity="0.43"/>
<rect x="539.57" y="740.87" width="0.77" height="0.77" fill="#f3e52c" opacity="0.46"/>
<rect x="589.20" y="598.96" width="0.77" height="0.77" fill="#f3e52c" opacity="0.36"/>
<rect x="505.95" y="700.77" width="0.84" height="0.84" fill="#f3e52c" opacity="0.39"/>
<rect x="535.97" y="779.00" width="0.72" height="0.72" fill="#f3e52c" opacity="0.25"/>
<rect x="588.68" y="604.12" width="0.97" height="0.97" fill="#f3e52c" opacity="0.31"/>
<rect x="526.83" y="653.11" width="0.77" height="0.77" fill="#f3e52c" opacity="0.49"/>
<rect x="612.56" y="787.39" width="0.80" height="0.80" fill="#f3e52c" opacity="0.28"/>
<rect x="599.70" y="593.42" width="1.08" height="1.08" fill="#f3e52c" opacity="0.33"/>
<rect x="529.60" y="751.49" width="0.71" height="0.71" fill="#f3e52c" opacity="0.39"/>
<rect x="530.17" y="600.48" width="1.07" height="1.07" fill="#f3e52c" opacity="0.36"/>
<rect x="420.82" y="668.59" width="1.07" height="1.07" fill="#f3e52c" opacity="0.34"/>
<rect x="551.95" y="681.17" width="0.88" height="0.88" fill="#f3e52c" opacity="0.33"/>
<rect x="460.13" y="695.87" width="1.02" height="1.02" fill="#f3e52c" opacity="0.42"/>
<rect x="415.58" y="747.19" width="0.73" height="0.73" fill="#f3e52c" opacity="0.23"/>
<rect x="410.59" y="634.02" width="0.78" height="0.78" fill="#f3e52c" opacity="0.4"/>
<rect x="593.34" y="760.86" width="0.80" height="0.80" fill="#f3e52c" opacity="0.24"/>
<rect x="437.84" y="577.31" width="1.05" height="1.05" fill="#f3e52c" opacity="0.49"/>
<rect x="449.50" y="700.82" width="0.92" height="0.92" fill="#f3e52c" opacity="0.22"/>
<rect x="552.29" y="601.24" width="1.07" height="1.07" fill="#f3e52c" opacity="0.46"/>
<rect x="476.15" y="617.49" width="0.78" height="0.78" fill="#f3e52c" opacity="0.34"/>
<rect x="424.88" y="774.08" width="0.73" height="0.73" fill="#f3e52c" opacity="0.31"/>
<rect x="573.97" y="671.24" width="0.77" height="0.77" fill="#f3e52c" opacity="0.29"/>
<rect x="489.25" y="769.54" width="0.77" height="0.77" fill="#f3e52c" opacity="0.48"/>
<rect x="582.33" y="643.98" width="0.74" height="0.74" fill="#f3e52c" opacity="0.35"/>
<rect x="583.91" y="613.15" width="0.79" height="0.79" fill="#f3e52c" opacity="0.31"/>
<rect x="544.19" y="761.71" width="0.94" height="0.94" fill="#f3e52c" opacity="0.22"/>
<rect x="590.04" y="745.70" width="0.85" height="0.85" fill="#f3e52c" opacity="0.41"/>
<rect x="541.59" y="575.78" width="0.96" height="0.96" fill="#f3e52c" opacity="0.28"/>
<rect x="439.59" y="622.47" width="0.99" height="0.99" fill="#f3e52c" opacity="0.26"/>
<rect x="590.66" y="711.39" width="0.77" height="0.77" fill="#f3e52c" opacity="0.25"/>
<rect x="507.08" y="620.59" width="0.91" height="0.91" fill="#f3e52c" opacity="0.29"/>
<rect x="551.43" y="790.87" width="0.99" height="0.99" fill="#f3e52c" opacity="0.41"/>
<rect x="510.30" y="780.35" width="0.86" height="0.86" fill="#f3e52c" opacity="0.47"/>
<rect x="615.67" y="627.03" width="0.98" height="0.98" fill="#f3e52c" opacity="0.49"/>
<rect x="468.67" y="599.99" width="1.07" height="1.07" fill="#f3e52c" opacity="0.45"/>
<rect x="460.33" y="651.68" width="0.71" height="0.71" fill="#f3e52c" opacity="0.27"/>
<rect x="594.78" y="763.15" width="0.96" height="0.96" fill="#f3e52c" opacity="0.26"/>
<rect x="624.23" y="588.11" width="1.09" height="1.09" fill="#f3e52c" opacity="0.38"/>
<rect x="630.52" y="761.18" width="0.93" height="0.93" fill="#f3e52c" opacity="0.23"/>
<rect x="541.51" y="575.83" width="0.99" height="0.99" fill="#f3e52c" opacity="0.44"/>
<rect x="609.76" y="602.32" width="0.95" height="0.95" fill="#f3e52c" opacity="0.43"/>
<rect x="443.00" y="739.67" width="0.99" height="0.99" fill="#f3e52c" opacity="0.42"/>
<rect x="497.58" y="691.22" width="0.83" height="0.83" fill="#f3e52c" opacity="0.44"/>
<rect x="508.24" y="722.18" width="0.79" height="0.79" fill="#f3e52c" opacity="0.34"/>
<rect x="605.31" y="741.19" width="0.71" height="0.71" fill="#f3e52c" opacity="0.31"/>
<rect x="487.51" y="595.79" width="0.91" height="0.91" fill="#f3e52c" opacity="0.37"/>
<rect x="475.66" y="705.36" width="0.91" height="0.91" fill="#f3e52c" opacity="0.35"/>
<rect x="513.36" y="581.35" width="0.94" height="0.94" fill="#f3e52c" opacity="0.31"/>
<rect x="571.35" y="762.75" width="0.75" height="0.75" fill="#f3e52c" opacity="0.32"/>
<rect x="526.69" y="656.74" width="0.75" height="0.75" fill="#f3e52c" opacity="0.39"/>
<rect x="616.17" y="740.49" width="0.86" height="0.86" fill="#f3e52c" opacity="0.35"/>
<rect x="584.25" y="606.59" width="0.96" height="0.96" fill="#f3e52c" opacity="0.37"/>
<rect x="450.41" y="679.36" width="0.73" height="0.73" fill="#f3e52c" opacity="0.21"/>
<rect x="437.90" y="605.87" width="0.81" height="0.81" fill="#f3e52c" opacity="0.25"/>
<rect x="578.38" y="698.50" width="0.75" height="0.75" fill="#f3e52c" opacity="0.4"/>
<rect x="623.94" y="790.43" width="1.09" height="1.09" fill="#f3e52c" opacity="0.37"/>
<rect x="573.44" y="660.59" width="0.86" height="0.86" fill="#f3e52c" opacity="0.3"/>
<rect x="574.33" y="696.99" width="0.99" height="0.99" fill="#f3e52c" opacity="0.37"/>
<rect x="592.22" y="699.22" width="0.82" height="0.82" fill="#f3e52c" opacity="0.31"/>
<rect x="531.93" y="637.06" width="0.94" height="0.94" fill="#f3e52c" opacity="0.22"/>
<rect x="629.00" y="698.53" width="0.74" height="0.74" fill="#f3e52c" opacity="0.43"/>
<rect x="440.23" y="794.01" width="1.05" height="1.05" fill="#f3e52c" opacity="0.36"/>
<rect x="544.62" y="709.18" width="0.74" height="0.74" fill="#f3e52c" opacity="0.47"/>
<rect x="414.15" y="712.55" width="1.00" height="1.00" fill="#f3e52c" opacity="0.41"/>
<rect x="441.76" y="709.80" width="0.79" height="0.79" fill="#f3e52c" opacity="0.3"/>
<rect x="453.31" y="773.33" width="1.04" height="1.04" fill="#f3e52c" opacity="0.46"/>
<rect x="495.88" y="744.89" width="1.00" height="1.00" fill="#f3e52c" opacity="0.37"/>
<rect x="602.91" y="677.64" width="0.87" height="0.87" fill="#f3e52c" opacity="0.39"/>
<rect x="580.67" y="578.73" width="0.96" height="0.96" fill="#f3e52c" opacity="0.35"/>
<rect x="520.26" y="746.66" width="0.77" height="0.77" fill="#f3e52c" opacity="0.42"/>
<rect x="509.91" y="716.64" width="0.90" height="0.90" fill="#f3e52c" opacity="0.26"/>
<rect x="423.26" y="733.05" width="0.90" height="0.90" fill="#f3e52c" opacity="0.35"/>
<rect x="584.15" y="722.75" width="0.97" height="0.97" fill="#f3e52c" opacity="0.29"/>
<rect x="628.03" y="642.74" width="0.89" height="0.89" fill="#f3e52c" opacity="0.32"/>
<rect x="533.31" y="758.61" width="0.96" height="0.96" fill="#f3e52c" opacity="0.47"/>
<rect x="583.78" y="760.46" width="0.97" height="0.97" fill="#f3e52c" opacity="0.26"/>
<rect x="589.56" y="709.43" width="0.88" height="0.88" fill="#f3e52c" opacity="0.32"/>
<rect x="570.60" y="606.79" width="0.80" height="0.80" fill="#f3e52c" opacity="0.48"/>
<rect x="458.77" y="786.90" width="1.02" height="1.02" fill="#f3e52c" opacity="0.47"/>
<rect x="445.52" y="793.24" width="0.83" height="0.83" fill="#f3e52c" opacity="0.21"/>
<rect x="611.07" y="725.08" width="0.70" height="0.70" fill="#f3e52c" opacity="0.36"/>
<rect x="487.27" y="773.01" width="0.71" height="0.71" fill="#f3e52c" opacity="0.33"/>
<rect x="528.96" y="583.41" width="0.93" height="0.93" fill="#f3e52c" opacity="0.47"/>
<rect x="496.83" y="603.47" width="0.77" height="0.77" fill="#f3e52c" opacity="0.45"/>
<rect x="502.65" y="675.03" width="1.03" height="1.03" fill="#f3e52c" opacity="0.23"/>
<rect x="541.98" y="679.54" width="0.90" height="0.90" fill="#f3e52c" opacity="0.27"/>
<rect x="612.89" y="717.64" width="0.92" height="0.92" fill="#f3e52c" opacity="0.27"/>
<rect x="437.90" y="718.92" width="0.72" height="0.72" fill="#f3e52c" opacity="0.5"/>
<rect x="441.77" y="746.06" width="0.88" height="0.88" fill="#f3e52c" opacity="0.31"/>
<rect x="470.05" y="791.56" width="0.77" height="0.77" fill="#f3e52c" opacity="0.44"/>
<rect x="477.58" y="623.23" width="0.96" height="0.96" fill="#f3e52c" opacity="0.48"/>
<rect x="446.79" y="667.02" width="0.73" height="0.73" fill="#f3e52c" opacity="0.31"/>
<rect x="582.67" y="691.95" width="1.08" height="1.08" fill="#f3e52c" opacity="0.43"/>
<rect x="425.07" y="672.67" width="0.81" height="0.81" fill="#f3e52c" opacity="0.21"/>
<rect x="562.96" y="623.41" width="0.77" height="0.77" fill="#f3e52c" opacity="0.46"/>
<rect x="588.98" y="661.57" width="0.91" height="0.91" fill="#f3e52c" opacity="0.36"/>
<rect x="599.81" y="613.41" width="0.83" height="0.83" fill="#f3e52c" opacity="0.42"/>
<rect x="447.46" y="588.80" width="1.02" height="1.02" fill="#f3e52c" opacity="0.45"/>
<rect x="604.00" y="756.05" width="0.96" height="0.96" fill="#f3e52c" opacity="0.41"/>
<rect x="554.84" y="638.86" width="1.04" height="1.04" fill="#f3e52c" opacity="0.37"/>
<rect x="568.95" y="784.84" width="0.97" height="0.97" fill="#f3e52c" opacity="0.39"/>
<rect x="609.33" y="680.76" width="0.82" height="0.82" fill="#f3e52c" opacity="0.49"/>
<rect x="459.76" y="666.42" width="1.00" height="1.00" fill="#f3e52c" opacity="0.5"/>
<rect x="489.93" y="624.46" width="1.00" height="1.00" fill="#f3e52c" opacity="0.23"/>
<rect x="614.35" y="777.69" width="1.05" height="1.05" fill="#f3e52c" opacity="0.46"/>
<rect x="520.74" y="618.17" width="0.74" height="0.74" fill="#f3e52c" opacity="0.21"/>
<rect x="473.73" y="743.21" width="0.89" height="0.89" fill="#f3e52c" opacity="0.48"/>
<rect x="543.71" y="649.63" width="0.96" height="0.96" fill="#f3e52c" opacity="0.21"/>
<rect x="533.11" y="703.35" width="0.84" height="0.84" fill="#f3e52c" opacity="0.29"/>
<rect x="493.51" y="673.54" width="0.92" height="0.92" fill="#f3e52c" opacity="0.24"/>
<rect x="433.33" y="629.63" width="0.84" height="0.84" fill="#f3e52c" opacity="0.44"/>
<rect x="480.68" y="696.91" width="0.98" height="0.98" fill="#f3e52c" opacity="0.31"/>
<rect x="536.68" y="577.14" width="0.73" height="0.73" fill="#f3e52c" opacity="0.41"/>
<rect x="578.94" y="583.26" width="1.08" height="1.08" fill="#f3e52c" opacity="0.29"/>
<rect x="485.55" y="692.75" width="0.96" height="0.96" fill="#f3e52c" opacity="0.27"/>
<rect x="466.27" y="710.34" width="0.84" height="0.84" fill="#f3e52c" opacity="0.34"/>
<rect x="510.84" y="644.47" width="1.01" height="1.01" fill="#f3e52c" opacity="0.4"/>
<rect x="581.81" y="781.28" width="1.00" height="1.00" fill="#f3e52c" opacity="0.33"/>
<rect x="527.46" y="637.07" width="0.90" height="0.90" fill="#f3e52c" opacity="0.27"/>
<rect x="536.77" y="729.11" width="0.86" height="0.86" fill="#f3e52c" opacity="0.38"/>
<rect x="526.68" y="754.19" width="0.86" height="0.86" fill="#f3e52c" opacity="0.21"/>
<rect x="499.91" y="584.17" width="0.97" height="0.97" fill="#f3e52c" opacity="0.26"/>
<rect x="535.93" y="650.17" width="0.98" height="0.98" fill="#f3e52c" opacity="0.39"/>
<rect x="432.92" y="603.09" width="1.05" height="1.05" fill="#f3e52c" opacity="0.24"/>
<rect x="547.27" y="783.32" width="0.75" height="0.75" fill="#f3e52c" opacity="0.39"/>
<rect x="554.81" y="666.48" width="0.88" height="0.88" fill="#f3e52c" opacity="0.49"/>
<rect x="630.77" y="745.69" width="0.90" height="0.90" fill="#f3e52c" opacity="0.3"/>
<rect x="458.23" y="596.61" width="1.09" height="1.09" fill="#f3e52c" opacity="0.23"/>
<rect x="485.00" y="587.77" width="1.06" height="1.06" fill="#f3e52c" opacity="0.42"/>
<rect x="520.79" y="631.26" width="1.02" height="1.02" fill="#f3e52c" opacity="0.39"/>
<rect x="597.63" y="579.72" width="0.76" height="0.76" fill="#f3e52c" opacity="0.24"/>
<rect x="543.74" y="707.53" width="1.00" height="1.00" fill="#f3e52c" opacity="0.46"/>
<rect x="462.08" y="767.21" width="0.79" height="0.79" fill="#f3e52c" opacity="0.21"/>
<rect x="565.07" y="670.66" width="0.92" height="0.92" fill="#f3e52c" opacity="0.5"/>
<rect x="454.41" y="589.81" width="1.02" height="1.02" fill="#f3e52c" opacity="0.33"/>
<rect x="452.64" y="575.22" width="1.07" height="1.07" fill="#f3e52c" opacity="0.26"/>
<rect x="570.98" y="686.47" width="0.94" height="0.94" fill="#f3e52c" opacity="0.41"/>
<rect x="607.90" y="763.53" width="1.00" height="1.00" fill="#f3e52c" opacity="0.27"/>
<rect x="439.89" y="783.65" width="0.74" height="0.74" fill="#f3e52c" opacity="0.34"/>
<rect x="536.61" y="654.28" width="0.83" height="0.83" fill="#f3e52c" opacity="0.39"/>
<rect x="608.74" y="675.59" width="0.87" height="0.87" fill="#f3e52c" opacity="0.21"/>
<rect x="450.79" y="590.10" width="0.96" height="0.96" fill="#f3e52c" opacity="0.37"/>
<rect x="513.80" y="698.56" width="0.81" height="0.81" fill="#f3e52c" opacity="0.46"/>
<rect x="418.10" y="754.98" width="0.89" height="0.89" fill="#f3e52c" opacity="0.38"/>
<rect x="536.75" y="603.31" width="0.97" height="0.97" fill="#f3e52c" opacity="0.36"/>
<rect x="557.74" y="750.34" width="0.94" height="0.94" fill="#f3e52c" opacity="0.37"/>
<rect x="592.32" y="606.71" width="1.04" height="1.04" fill="#f3e52c" opacity="0.3"/>
<rect x="574.14" y="598.18" width="0.91" height="0.91" fill="#f3e52c" opacity="0.29"/>
<rect x="586.78" y="662.62" width="0.76" height="0.76" fill="#f3e52c" opacity="0.45"/>
<rect x="551.21" y="720.12" width="0.71" height="0.71" fill="#f3e52c" opacity="0.47"/>
<rect x="504.41" y="780.45" width="0.72" height="0.72" fill="#f3e52c" opacity="0.27"/>
<rect x="509.98" y="643.15" width="0.83" height="0.83" fill="#f3e52c" opacity="0.41"/>
<rect x="514.01" y="724.87" width="0.94" height="0.94" fill="#f3e52c" opacity="0.25"/>
<rect x="608.50" y="790.47" width="0.99" height="0.99" fill="#f3e52c" opacity="0.5"/>
<rect x="551.79" y="620.68" width="1.08" height="1.08" fill="#f3e52c" opacity="0.25"/>
<rect x="414.94" y="647.08" width="1.03" height="1.03" fill="#f3e52c" opacity="0.29"/>
<rect x="567.13" y="725.24" width="0.72" height="0.72" fill="#f3e52c" opacity="0.34"/>
<rect x="533.55" y="715.19" width="0.75" height="0.75" fill="#f3e52c" opacity="0.43"/>
<rect x="583.54" y="675.97" width="0.90" height="0.90" fill="#f3e52c" opacity="0.24"/>
<rect x="504.60" y="655.40" width="1.04" height="1.04" fill="#f3e52c" opacity="0.43"/>
<rect x="598.84" y="749.82" width="0.93" height="0.93" fill="#f3e52c" opacity="0.22"/>
<rect x="514.67" y="734.54" width="0.71" height="0.71" fill="#f3e52c" opacity="0.24"/>
<rect x="566.95" y="713.47" width="0.91" height="0.91" fill="#f3e52c" opacity="0.24"/>
<rect x="519.12" y="740.92" width="1.06" height="1.06" fill="#f3e52c" opacity="0.31"/>
<rect x="552.45" y="735.89" width="0.99" height="0.99" fill="#f3e52c" opacity="0.42"/>
<rect x="556.28" y="794.15" width="0.97" height="0.97" fill="#f3e52c" opacity="0.47"/>
<rect x="629.99" y="645.98" width="0.71" height="0.71" fill="#f3e52c" opacity="0.45"/>
<rect x="594.64" y="683.00" width="0.83" height="0.83" fill="#f3e52c" opacity="0.33"/>
<rect x="567.43" y="594.33" width="1.03" height="1.03" fill="#f3e52c" opacity="0.48"/>
<rect x="479.86" y="599.70" width="0.71" height="0.71" fill="#f3e52c" opacity="0.28"/>
<rect x="615.85" y="624.47" width="0.81" height="0.81" fill="#f3e52c" opacity="0.27"/>
<rect x="567.90" y="600.54" width="0.89" height="0.89" fill="#f3e52c" opacity="0.43"/>
<rect x="474.60" y="587.36" width="0.75" height="0.75" fill="#f3e52c" opacity="0.29"/>
<rect x="567.12" y="776.42" width="0.89" height="0.89" fill="#f3e52c" opacity="0.35"/>
<rect x="528.91" y="672.17" width="0.92" height="0.92" fill="#f3e52c" opacity="0.46"/>
<rect x="570.32" y="627.42" width="0.93" height="0.93" fill="#f3e52c" opacity="0.43"/>
<rect x="493.30" y="650.71" width="1.06" height="1.06" fill="#f3e52c" opacity="0.35"/>
<rect x="551.51" y="714.72" width="0.98" height="0.98" fill="#f3e52c" opacity="0.22"/>
<rect x="505.00" y="652.52" width="0.95" height="0.95" fill="#f3e52c" opacity="0.28"/>
<rect x="476.60" y="687.61" width="0.92" height="0.92" fill="#f3e52c" opacity="0.47"/>
<rect x="609.00" y="672.29" width="0.78" height="0.78" fill="#f3e52c" opacity="0.44"/>
<rect x="469.47" y="711.98" width="0.88" height="0.88" fill="#f3e52c" opacity="0.2"/>
<rect x="501.27" y="575.24" width="0.71" height="0.71" fill="#f3e52c" opacity="0.27"/>
<rect x="534.91" y="575.36" width="1.04" height="1.04" fill="#f3e52c" opacity="0.24"/>
<rect x="605.42" y="788.44" width="0.83" height="0.83" fill="#f3e52c" opacity="0.35"/>
<rect x="573.19" y="689.56" width="0.81" height="0.81" fill="#f3e52c" opacity="0.26"/>
<rect x="590.21" y="719.47" width="0.91" height="0.91" fill="#f3e52c" opacity="0.35"/>
<rect x="559.90" y="771.97" width="0.91" height="0.91" fill="#f3e52c" opacity="0.44"/>
<rect x="424.23" y="671.39" width="0.88" height="0.88" fill="#f3e52c" opacity="0.42"/>
<rect x="558.12" y="724.65" width="0.98" height="0.98" fill="#f3e52c" opacity="0.35"/>
<rect x="488.11" y="619.79" width="0.77" height="0.77" fill="#f3e52c" opacity="0.2"/>
<rect x="505.77" y="692.29" width="0.74" height="0.74" fill="#f3e52c" opacity="0.22"/>
<rect x="569.89" y="604.48" width="0.71" height="0.71" fill="#f3e52c" opacity="0.47"/>
<rect x="412.54" y="635.92" width="0.96" height="0.96" fill="#f3e52c" opacity="0.28"/>
<rect x="573.68" y="760.94" width="1.00" height="1.00" fill="#f3e52c" opacity="0.31"/>
<rect x="548.27" y="753.56" width="0.74" height="0.74" fill="#f3e52c" opacity="0.47"/>
<rect x="516.43" y="734.10" width="0.74" height="0.74" fill="#f3e52c" opacity="0.23"/>
<rect x="496.74" y="777.99" width="0.74" height="0.74" fill="#f3e52c" opacity="0.35"/>
<rect x="562.93" y="707.53" width="1.07" height="1.07" fill="#f3e52c" opacity="0.34"/>
<rect x="524.24" y="652.92" width="0.91" height="0.91" fill="#f3e52c" opacity="0.44"/>
<rect x="458.33" y="729.91" width="0.90" height="0.90" fill="#f3e52c" opacity="0.45"/>
<rect x="618.99" y="719.06" width="1.00" height="1.00" fill="#f3e52c" opacity="0.31"/>
<rect x="455.68" y="602.20" width="1.03" height="1.03" fill="#f3e52c" opacity="0.35"/>
<rect x="436.93" y="701.67" width="0.75" height="0.75" fill="#f3e52c" opacity="0.33"/>
<rect x="604.63" y="784.26" width="1.06" height="1.06" fill="#f3e52c" opacity="0.31"/>
<rect x="594.59" y="736.21" width="0.87" height="0.87" fill="#f3e52c" opacity="0.26"/>
<rect x="606.97" y="725.79" width="1.08" height="1.08" fill="#f3e52c" opacity="0.49"/>
<rect x="610.47" y="760.28" width="0.97" height="0.97" fill="#f3e52c" opacity="0.49"/>
<rect x="598.01" y="663.70" width="0.82" height="0.82" fill="#f3e52c" opacity="0.37"/>
<rect x="512.94" y="615.63" width="1.02" height="1.02" fill="#f3e52c" opacity="0.25"/>
<rect x="573.35" y="633.60" width="0.98" height="0.98" fill="#f3e52c" opacity="0.4"/>
<rect x="448.67" y="687.82" width="0.89" height="0.89" fill="#f3e52c" opacity="0.31"/>
<rect x="526.57" y="745.52" width="1.10" height="1.10" fill="#f3e52c" opacity="0.31"/>
<rect x="623.24" y="735.05" width="0.95" height="0.95" fill="#f3e52c" opacity="0.36"/>
<rect x="472.29" y="720.59" width="1.02" height="1.02" fill="#f3e52c" opacity="0.37"/>
<rect x="503.53" y="743.34" width="1.04" height="1.04" fill="#f3e52c" opacity="0.37"/>
<rect x="599.74" y="707.17" width="0.81" height="0.81" fill="#f3e52c" opacity="0.3"/>
<rect x="411.68" y="683.05" width="0.80" height="0.80" fill="#f3e52c" opacity="0.41"/>
<rect x="417.02" y="671.62" width="0.99" height="0.99" fill="#f3e52c" opacity="0.39"/>
<rect x="412.09" y="720.42" width="0.83" height="0.83" fill="#f3e52c" opacity="0.23"/>
<rect x="627.28" y="575.31" width="0.95" height="0.95" fill="#f3e52c" opacity="0.44"/>
<rect x="534.98" y="646.66" width="0.90" height="0.90" fill="#f3e52c" opacity="0.25"/>
<rect x="618.35" y="750.09" width="0.94" height="0.94" fill="#f3e52c" opacity="0.49"/>
<rect x="628.96" y="716.00" width="0.95" height="0.95" fill="#f3e52c" opacity="0.3"/>
<rect x="455.41" y="619.70" width="0.99" height="0.99" fill="#f3e52c" opacity="0.4"/>
<rect x="600.47" y="691.51" width="0.81" height="0.81" fill="#f3e52c" opacity="0.43"/>
<rect x="453.87" y="620.51" width="1.04" height="1.04" fill="#f3e52c" opacity="0.3"/>
<rect x="461.14" y="584.42" width="0.89" height="0.89" fill="#f3e52c" opacity="0.39"/>
<rect x="565.31" y="635.80" width="0.85" height="0.85" fill="#f3e52c" opacity="0.4"/>
<rect x="443.24" y="583.25" width="1.04" height="1.04" fill="#f3e52c" opacity="0.2"/>
<rect x="482.77" y="642.10" width="0.90" height="0.90" fill="#f3e52c" opacity="0.46"/>
<rect x="484.90" y="746.32" width="0.80" height="0.80" fill="#f3e52c" opacity="0.31"/>
<rect x="442.50" y="751.10" width="0.89" height="0.89" fill="#f3e52c" opacity="0.48"/>
<rect x="525.53" y="720.79" width="0.92" height="0.92" fill="#f3e52c" opacity="0.49"/>
<rect x="541.14" y="787.48" width="0.88" height="0.88" fill="#f3e52c" opacity="0.44"/>
<rect x="436.66" y="792.91" width="1.03" height="1.03" fill="#f3e52c" opacity="0.25"/>
<rect x="536.20" y="745.66" width="0.79" height="0.79" fill="#f3e52c" opacity="0.37"/>
<rect x="484.21" y="770.62" width="0.88" height="0.88" fill="#f3e52c" opacity="0.2"/>
<rect x="541.51" y="579.47" width="0.75" height="0.75" fill="#f3e52c" opacity="0.5"/>
<rect x="489.42" y="638.22" width="0.78" height="0.78" fill="#f3e52c" opacity="0.39"/>
<rect x="424.74" y="594.40" width="1.10" height="1.10" fill="#f3e52c" opacity="0.3"/>
<rect x="529.43" y="605.00" width="1.00" height="1.00" fill="#f3e52c" opacity="0.41"/>
<rect x="541.62" y="576.15" width="0.98" height="0.98" fill="#f3e52c" opacity="0.3"/>
<rect x="492.96" y="592.58" width="0.98" height="0.98" fill="#f3e52c" opacity="0.27"/>
<rect x="588.37" y="601.51" width="1.01" height="1.01" fill="#f3e52c" opacity="0.23"/>
<rect x="479.15" y="622.16" width="0.87" height="0.87" fill="#f3e52c" opacity="0.28"/>
<rect x="485.58" y="612.35" width="1.04" height="1.04" fill="#f3e52c" opacity="0.39"/>
<rect x="486.36" y="599.21" width="0.77" height="0.77" fill="#f3e52c" opacity="0.48"/>
<rect x="609.94" y="595.67" width="0.76" height="0.76" fill="#f3e52c" opacity="0.49"/>
<rect x="456.70" y="620.38" width="0.87" height="0.87" fill="#f3e52c" opacity="0.31"/>
<rect x="597.67" y="616.06" width="0.72" height="0.72" fill="#f3e52c" opacity="0.33"/>
<rect x="417.71" y="591.21" width="0.90" height="0.90" fill="#f3e52c" opacity="0.46"/>
<rect x="616.46" y="611.71" width="1.01" height="1.01" fill="#f3e52c" opacity="0.35"/>
<rect x="619.88" y="619.20" width="0.88" height="0.88" fill="#f3e52c" opacity="0.49"/>
<rect x="420.97" y="608.44" width="0.82" height="0.82" fill="#f3e52c" opacity="0.31"/>
<rect x="629.18" y="613.78" width="1.03" height="1.03" fill="#f3e52c" opacity="0.28"/>
<rect x="603.07" y="616.04" width="0.74" height="0.74" fill="#f3e52c" opacity="0.5"/>
<rect x="411.51" y="592.27" width="0.78" height="0.78" fill="#f3e52c" opacity="0.37"/>
<rect x="479.13" y="593.03" width="0.97" height="0.97" fill="#f3e52c" opacity="0.42"/>
<rect x="435.63" y="583.29" width="0.80" height="0.80" fill="#f3e52c" opacity="0.38"/>
<rect x="588.54" y="585.98" width="0.91" height="0.91" fill="#f3e52c" opacity="0.35"/>
<rect x="442.77" y="580.81" width="0.94" height="0.94" fill="#f3e52c" opacity="0.43"/>
<rect x="623.43" y="589.46" width="0.82" height="0.82" fill="#f3e52c" opacity="0.34"/>
<rect x="446.83" y="609.63" width="1.04" height="1.04" fill="#f3e52c" opacity="0.4"/>
<rect x="445.65" y="598.01" width="0.86" height="0.86" fill="#f3e52c" opacity="0.44"/>
<rect x="593.53" y="606.15" width="0.73" height="0.73" fill="#f3e52c" opacity="0.26"/>
<rect x="534.12" y="605.63" width="0.71" height="0.71" fill="#f3e52c" opacity="0.42"/>
<rect x="545.27" y="607.44" width="0.71" height="0.71" fill="#f3e52c" opacity="0.31"/>
<rect x="538.87" y="620.04" width="0.74" height="0.74" fill="#f3e52c" opacity="0.21"/>
<rect x="415.44" y="593.60" width="0.99" height="0.99" fill="#f3e52c" opacity="0.39"/>
<rect x="479.43" y="606.10" width="0.70" height="0.70" fill="#f3e52c" opacity="0.44"/>
<rect x="526.11" y="613.97" width="0.75" height="0.75" fill="#f3e52c" opacity="0.28"/>
<rect x="494.12" y="589.53" width="0.73" height="0.73" fill="#f3e52c" opacity="0.43"/>
<rect x="461.01" y="615.59" width="0.95" height="0.95" fill="#f3e52c" opacity="0.24"/>
<rect x="627.95" y="590.45" width="0.99" height="0.99" fill="#f3e52c" opacity="0.36"/>
<rect x="603.80" y="582.07" width="0.92" height="0.92" fill="#f3e52c" opacity="0.24"/>
<rect x="556.59" y="575.37" width="0.80" height="0.80" fill="#f3e52c" opacity="0.41"/>
<rect x="433.28" y="583.44" width="0.92" height="0.92" fill="#f3e52c" opacity="0.37"/>
<rect x="538.55" y="597.72" width="0.97" height="0.97" fill="#f3e52c" opacity="0.38"/>
<rect x="473.62" y="581.40" width="0.75" height="0.75" fill="#f3e52c" opacity="0.42"/>
<rect x="502.90" y="618.17" width="0.81" height="0.81" fill="#f3e52c" opacity="0.35"/>
<rect x="438.50" y="592.86" width="1.08" height="1.08" fill="#f3e52c" opacity="0.42"/>
<rect x="531.43" y="594.53" width="0.90" height="0.90" fill="#f3e52c" opacity="0.43"/>
<rect x="564.12" y="598.53" width="1.00" height="1.00" fill="#f3e52c" opacity="0.39"/>
<rect x="425.00" y="616.11" width="0.86" height="0.86" fill="#f3e52c" opacity="0.29"/>
<rect x="562.41" y="600.35" width="0.97" height="0.97" fill="#f3e52c" opacity="0.41"/>
<rect x="620.26" y="597.38" width="0.81" height="0.81" fill="#f3e52c" opacity="0.49"/>
<rect x="482.64" y="587.10" width="0.80" height="0.80" fill="#f3e52c" opacity="0.32"/>
<rect x="550.84" y="578.98" width="1.08" height="1.08" fill="#f3e52c" opacity="0.49"/>
<rect x="521.23" y="587.31" width="1.00" height="1.00" fill="#f3e52c" opacity="0.35"/>
<rect x="573.41" y="604.58" width="0.88" height="0.88" fill="#f3e52c" opacity="0.3"/>
<rect x="439.08" y="578.13" width="0.91" height="0.91" fill="#f3e52c" opacity="0.35"/>
<rect x="564.64" y="609.73" width="0.74" height="0.74" fill="#f3e52c" opacity="0.39"/>
<rect x="464.51" y="614.38" width="0.90" height="0.90" fill="#f3e52c" opacity="0.32"/>
<rect x="614.63" y="599.37" width="1.07" height="1.07" fill="#f3e52c" opacity="0.43"/>
<rect x="555.62" y="595.59" width="0.76" height="0.76" fill="#f3e52c" opacity="0.46"/>
<rect x="441.72" y="583.89" width="1.09" height="1.09" fill="#f3e52c" opacity="0.46"/>
<rect x="601.79" y="585.36" width="0.90" height="0.90" fill="#f3e52c" opacity="0.43"/>
<rect x="566.26" y="592.19" width="0.89" height="0.89" fill="#f3e52c" opacity="0.39"/>
<rect x="579.02" y="617.57" width="0.96" height="0.96" fill="#f3e52c" opacity="0.48"/>
<rect x="428.39" y="575.14" width="1.05" height="1.05" fill="#f3e52c" opacity="0.34"/>
<rect x="537.43" y="602.96" width="0.80" height="0.80" fill="#f3e52c" opacity="0.3"/>
<rect x="620.17" y="619.45" width="0.89" height="0.89" fill="#f3e52c" opacity="0.28"/>
<rect x="549.36" y="577.83" width="0.95" height="0.95" fill="#f3e52c" opacity="0.26"/>
<rect x="625.64" y="603.57" width="1.04" height="1.04" fill="#f3e52c" opacity="0.47"/>
<rect x="476.93" y="615.19" width="1.08" height="1.08" fill="#f3e52c" opacity="0.46"/>
<rect x="456.81" y="580.80" width="1.03" height="1.03" fill="#f3e52c" opacity="0.26"/>
<rect x="431.43" y="595.40" width="0.83" height="0.83" fill="#f3e52c" opacity="0.26"/>
<rect x="409.37" y="608.68" width="0.71" height="0.71" fill="#f3e52c" opacity="0.21"/>
<rect x="457.96" y="598.60" width="0.94" height="0.94" fill="#f3e52c" opacity="0.31"/>
<rect x="455.50" y="597.45" width="0.94" height="0.94" fill="#f3e52c" opacity="0.32"/>
<rect x="519.21" y="594.28" width="1.09" height="1.09" fill="#f3e52c" opacity="0.23"/>
<rect x="598.54" y="584.44" width="0.86" height="0.86" fill="#f3e52c" opacity="0.39"/>
<rect x="606.80" y="585.53" width="1.01" height="1.01" fill="#f3e52c" opacity="0.23"/>
<rect x="460.77" y="615.60" width="1.09" height="1.09" fill="#f3e52c" opacity="0.26"/>
<rect x="499.31" y="588.62" width="1.04" height="1.04" fill="#f3e52c" opacity="0.28"/>
<rect x="608.77" y="606.68" width="1.04" height="1.04" fill="#f3e52c" opacity="0.24"/>
<rect x="613.83" y="621.22" width="1.05" height="1.05" fill="#f3e52c" opacity="0.32"/>
<rect x="556.36" y="584.36" width="1.08" height="1.08" fill="#f3e52c" opacity="0.47"/>
<rect x="587.69" y="618.04" width="1.09" height="1.09" fill="#f3e52c" opacity="0.33"/>
<rect x="457.89" y="610.10" width="1.00" height="1.00" fill="#f3e52c" opacity="0.5"/>
<rect x="544.99" y="579.79" width="0.92" height="0.92" fill="#f3e52c" opacity="0.36"/>
<rect x="420.47" y="587.18" width="1.08" height="1.08" fill="#f3e52c" opacity="0.21"/>
<rect x="537.50" y="597.18" width="0.71" height="0.71" fill="#f3e52c" opacity="0.49"/>
<rect x="564.09" y="618.14" width="1.09" height="1.09" fill="#f3e52c" opacity="0.24"/>
<rect x="539.19" y="615.13" width="0.81" height="0.81" fill="#f3e52c" opacity="0.49"/>
<rect x="591.50" y="622.24" width="1.02" height="1.02" fill="#f3e52c" opacity="0.39"/>
<rect x="613.72" y="620.33" width="0.89" height="0.89" fill="#f3e52c" opacity="0.21"/>
<rect x="544.03" y="610.98" width="1.10" height="1.10" fill="#f3e52c" opacity="0.32"/>
<rect x="629.98" y="576.23" width="1.02" height="1.02" fill="#f3e52c" opacity="0.25"/>
<rect x="629.17" y="581.75" width="0.99" height="0.99" fill="#f3e52c" opacity="0.49"/>
<rect x="535.85" y="600.03" width="1.03" height="1.03" fill="#f3e52c" opacity="0.32"/>
<rect x="507.76" y="615.74" width="1.05" height="1.05" fill="#f3e52c" opacity="0.21"/>
<rect x="479.87" y="597.79" width="0.96" height="0.96" fill="#f3e52c" opacity="0.28"/>
<rect x="600.59" y="586.77" width="0.78" height="0.78" fill="#f3e52c" opacity="0.35"/>
<rect x="574.89" y="600.73" width="0.87" height="0.87" fill="#f3e52c" opacity="0.34"/>
<rect x="446.56" y="589.77" width="0.91" height="0.91" fill="#f3e52c" opacity="0.42"/>
<rect x="497.91" y="594.97" width="1.02" height="1.02" fill="#f3e52c" opacity="0.21"/>
<rect x="428.51" y="587.90" width="0.82" height="0.82" fill="#f3e52c" opacity="0.24"/>
<rect x="513.84" y="580.70" width="0.72" height="0.72" fill="#f3e52c" opacity="0.49"/>
<rect x="554.01" y="605.20" width="0.73" height="0.73" fill="#f3e52c" opacity="0.29"/>
<rect x="483.45" y="581.29" width="0.94" height="0.94" fill="#f3e52c" opacity="0.46"/>
<rect x="521.57" y="612.64" width="0.94" height="0.94" fill="#f3e52c" opacity="0.24"/>
<rect x="542.78" y="606.86" width="0.71" height="0.71" fill="#f3e52c" opacity="0.44"/>
<rect x="416.68" y="593.83" width="0.77" height="0.77" fill="#f3e52c" opacity="0.48"/>
<rect x="528.13" y="600.54" width="0.94" height="0.94" fill="#f3e52c" opacity="0.49"/>
<rect x="560.28" y="620.23" width="1.07" height="1.07" fill="#f3e52c" opacity="0.39"/>
<rect x="581.78" y="611.84" width="0.84" height="0.84" fill="#f3e52c" opacity="0.34"/>
<rect x="456.32" y="585.98" width="0.85" height="0.85" fill="#f3e52c" opacity="0.36"/>
<rect x="589.08" y="588.14" width="0.71" height="0.71" fill="#f3e52c" opacity="0.49"/>
<rect x="455.35" y="614.47" width="0.84" height="0.84" fill="#f3e52c" opacity="0.45"/>
<rect x="537.60" y="582.04" width="0.97" height="0.97" fill="#f3e52c" opacity="0.39"/>
<rect x="500.98" y="595.66" width="0.73" height="0.73" fill="#f3e52c" opacity="0.48"/>
<rect x="571.72" y="575.80" width="0.99" height="0.99" fill="#f3e52c" opacity="0.38"/>
<rect x="453.34" y="608.50" width="0.96" height="0.96" fill="#f3e52c" opacity="0.29"/>
<rect x="445.12" y="620.39" width="1.06" height="1.06" fill="#f3e52c" opacity="0.41"/>
<rect x="462.80" y="597.00" width="1.02" height="1.02" fill="#f3e52c" opacity="0.26"/>
<rect x="446.72" y="617.40" width="0.87" height="0.87" fill="#f3e52c" opacity="0.5"/>
<rect x="509.05" y="614.34" width="0.88" height="0.88" fill="#f3e52c" opacity="0.49"/>
<rect x="583.16" y="599.16" width="0.79" height="0.79" fill="#f3e52c" opacity="0.28"/>
<rect x="491.98" y="592.19" width="0.84" height="0.84" fill="#f3e52c" opacity="0.2"/>
<rect x="427.95" y="611.63" width="0.93" height="0.93" fill="#f3e52c" opacity="0.47"/>
<rect x="498.86" y="586.79" width="0.86" height="0.86" fill="#f3e52c" opacity="0.42"/>
<rect x="554.94" y="586.99" width="0.94" height="0.94" fill="#f3e52c" opacity="0.35"/>
<rect x="430.82" y="583.96" width="0.87" height="0.87" fill="#f3e52c" opacity="0.43"/>
<rect x="447.37" y="589.71" width="1.06" height="1.06" fill="#f3e52c" opacity="0.29"/>
<rect x="620.59" y="612.61" width="0.76" height="0.76" fill="#f3e52c" opacity="0.22"/>
<rect x="530.89" y="578.33" width="0.90" height="0.90" fill="#f3e52c" opacity="0.49"/>
<rect x="492.02" y="606.21" width="0.75" height="0.75" fill="#f3e52c" opacity="0.42"/>
<rect x="490.62" y="577.58" width="0.87" height="0.87" fill="#f3e52c" opacity="0.29"/>
<line x1="408.30" y1="581.16" x2="632.00" y2="581.16" stroke="#f3e52c" stroke-width="1.0" opacity="0.38" stroke-dasharray="0.6 1.4 1.1 3.7 0.8 1.4 0.9 4.0 0.8 4.0 1.5 1.5 1.3 2.8 1.2 5.0 0.7 1.1 1.9 2.6 0.9 2.3 1.1 4.8 0.9 1.9 1.4 3.2 1.9 4.4 1.1 1.8 1.8 5.0 0.6 3.9 1.8 3.6 0.9 4.2 1.6 1.8 1.5 1.9 0.7 2.3 1.1 2.6 1.5 4.3 1.9 4.9 2.0 4.2 1.0 1.7 1.5 3.2 1.5 1.4 0.9 4.7 1.4 3.8 0.7 2.6 1.9 3.6 2.0 1.8 1.2 4.2 1.2 4.2 1.4 1.5 0.7 4.9 0.8 1.8"/>
<line x1="408.30" y1="587.27" x2="632.00" y2="587.27" stroke="#f3e52c" stroke-width="1.0" opacity="0.4" stroke-dasharray="0.6 6.1 0.8 13.0 0.9 11.2 0.7 9.1 1.1 9.2 1.2 12.8 0.8 4.0 1.1 5.3 0.6 11.3 1.1 12.4 1.2 6.0 0.6 5.2 1.2 5.1 0.7 4.2 0.6 4.4 0.8 5.6 0.8 13.3 0.7 12.1 1.0 9.7 0.9 11.7 1.0 6.3 0.8 6.4 0.8 13.9 0.9 4.7 0.9 12.1 0.9 11.0 0.7 4.6 1.0 4.5 0.8 7.8 0.7 4.4 0.6 13.5 1.0 13.5 0.9 13.5 1.1 10.2 0.9 9.1 0.7 7.8 1.0 6.0 1.1 9.1 1.0 12.2 1.0 5.4"/>
<line x1="408.30" y1="591.63" x2="632.00" y2="591.63" stroke="#f3e52c" stroke-width="1.0" opacity="0.5" stroke-dasharray="1.1 9.1 1.3 6.2 1.1 11.1 1.3 5.5 1.1 8.9 1.0 11.7 1.0 7.6 1.4 9.1 0.8 6.5 1.0 4.4 1.1 9.9 0.9 10.8 1.3 8.4 1.1 4.9 0.6 11.8 0.8 5.7 1.3 10.0 0.7 6.6 0.8 6.2 0.6 8.2 0.8 7.2 0.7 4.9 0.6 11.0 1.2 8.5 0.7 5.2 0.7 6.5 0.6 6.2 0.8 5.5 1.1 7.7 1.0 6.9 1.0 10.3 0.8 4.6 1.0 7.0 1.2 4.9 1.3 4.1 1.0 7.5 0.9 11.1 1.2 5.3 1.0 8.9 0.6 4.7"/>
<line x1="408.30" y1="602.53" x2="632.00" y2="602.53" stroke="#f3e52c" stroke-width="1.0" opacity="0.45" stroke-dasharray="0.9 11.4 1.1 14.9 1.1 9.0 1.2 9.7 0.8 6.0 0.9 6.7 0.8 11.7 1.1 13.3 0.7 5.7 0.8 11.1 1.1 13.8 1.2 11.5 1.0 8.2 0.8 7.3 0.9 11.7 0.9 9.3 0.9 7.7 1.1 11.4 1.0 13.9 0.8 6.3 0.8 15.0 1.1 9.5 1.1 8.8 1.1 6.0 1.0 15.8 0.9 10.1 0.7 8.0 0.7 8.3 0.6 8.3 0.7 10.8 0.8 7.5 1.2 8.4 0.9 14.8 1.1 15.6 1.0 14.6 0.6 13.1 0.8 8.5 1.1 13.2 0.8 9.0 0.8 15.3"/>
<line x1="408.30" y1="623.15" x2="632.00" y2="623.15" stroke="#f3e52c" stroke-width="1.0" opacity="0.48" stroke-dasharray="1.4 4.0 1.6 4.5 1.0 4.9 1.4 4.0 1.7 4.7 1.0 2.5 1.6 3.3 1.7 2.5 1.9 1.0 1.6 2.5 0.6 3.7 0.7 1.9 1.1 1.6 0.8 1.3 1.8 1.3 0.8 1.3 1.9 3.2 1.8 4.9 1.3 2.6 1.1 2.1 1.4 4.9 1.3 4.0 1.8 4.3 1.5 3.2 0.7 2.5 1.8 2.8 1.6 2.0 1.4 1.9 1.7 4.3 0.6 3.7 0.7 4.8 0.8 1.5 1.8 3.5 0.6 2.9 1.8 1.7 1.7 2.2 1.2 2.6 0.7 2.6 1.3 3.5 1.4 1.7"/>
<line x1="408.30" y1="697.34" x2="632.00" y2="697.34" stroke="#f3e52c" stroke-width="1.0" opacity="0.48" stroke-dasharray="1.1 3.0 1.9 2.8 1.7 2.7 0.6 2.2 0.9 2.4 1.2 2.0 1.4 2.1 1.8 3.0 1.1 2.6 1.8 1.7 0.8 1.9 1.7 2.0 0.9 2.4 1.1 2.7 0.8 2.1 1.1 3.0 0.8 2.7 1.2 1.6 0.9 1.9 1.9 3.0 1.9 2.1 0.9 1.9 1.5 1.5 2.0 1.0 0.9 1.2 0.8 0.9 0.9 1.6 1.9 2.0 1.5 1.6 0.8 2.0 1.6 1.0 1.5 1.3 1.6 1.6 0.8 1.1 1.7 2.0 0.7 2.8 1.0 1.4 0.6 1.5 1.4 2.8 1.0 1.9"/>
<line x1="408.30" y1="718.92" x2="632.00" y2="718.92" stroke="#f3e52c" stroke-width="1.0" opacity="0.55" stroke-dasharray="1.6 1.1 1.5 3.5 1.8 2.4 1.5 2.0 1.3 1.1 1.6 2.7 1.0 2.0 1.6 2.2 1.9 3.9 1.8 1.1 0.7 1.7 1.1 3.1 1.8 2.6 1.5 2.6 0.6 2.5 0.9 2.1 0.6 2.9 1.9 1.0 1.4 0.9 1.1 1.3 1.8 3.1 1.9 1.5 1.6 3.0 1.3 3.7 1.5 1.7 1.6 2.3 0.9 2.8 0.7 2.2 1.4 0.8 1.5 1.1 1.5 1.9 0.6 4.0 0.7 1.3 1.3 1.6 1.3 2.3 1.4 2.5 1.0 1.5 1.6 2.2 1.3 3.7 0.6 1.7"/>
<line x1="408.30" y1="717.83" x2="632.00" y2="717.83" stroke="#f3e52c" stroke-width="0.9" opacity="0.45" stroke-dasharray="1.2 6.9 1.3 3.6 1.2 6.4 1.1 4.5 0.9 5.4 0.9 9.5 1.0 11.7 1.1 5.0 1.2 7.8 0.7 7.7 0.6 6.4 1.1 9.2 1.5 8.5 0.6 7.3 0.8 9.7 1.4 3.8 1.3 5.6 0.8 7.1 1.0 5.6 0.8 6.9 1.2 4.5 0.9 5.2 1.3 5.2 1.3 3.3 1.4 6.8 1.4 10.2 1.4 3.3 1.3 7.7 1.4 8.1 0.9 11.1 1.5 5.0 0.7 7.0 1.2 4.5 1.1 7.9 1.3 4.3 0.7 7.7 1.3 8.3 1.3 5.4 0.6 9.2 1.2 3.2"/>
<line x1="408.30" y1="732.61" x2="632.00" y2="732.61" stroke="#f3e52c" stroke-width="1.0" opacity="0.42" stroke-dasharray="0.9 2.2 0.9 2.2 1.4 2.9 1.0 2.1 0.8 3.4 1.0 3.6 0.7 1.0 1.2 2.3 1.7 3.6 1.3 1.9 1.6 2.4 1.0 2.0 0.6 3.1 0.7 1.6 1.5 2.9 1.5 2.9 1.7 3.8 2.0 2.2 1.1 1.4 1.2 1.5 1.9 3.3 0.9 3.1 1.6 1.3 1.7 3.2 1.3 3.8 0.7 1.1 1.6 3.0 0.6 2.8 1.4 2.1 0.8 3.5 1.8 2.7 0.9 2.6 1.5 2.5 1.7 1.7 1.8 3.2 0.8 1.3 1.7 2.0 1.9 3.8 1.0 3.2 0.9 2.5"/>
<line x1="408.30" y1="750.61" x2="632.00" y2="750.61" stroke="#f3e52c" stroke-width="1.0" opacity="0.42" stroke-dasharray="1.2 3.6 0.6 1.8 1.9 3.0 0.8 2.0 1.8 2.3 0.6 3.7 0.8 2.9 1.5 2.4 1.9 1.5 1.4 1.3 2.0 1.4 1.3 3.5 1.8 1.3 1.8 3.5 1.0 3.3 0.9 1.5 0.8 1.9 1.8 2.4 2.0 3.7 0.9 2.3 0.7 2.8 1.5 2.8 0.7 2.8 0.8 3.5 1.2 1.3 2.0 3.8 1.1 3.8 1.0 2.6 1.4 3.4 0.7 1.1 0.8 2.2 1.7 3.2 0.8 3.2 0.9 1.1 1.3 3.7 1.9 2.3 1.7 1.6 0.8 3.9 1.5 1.5 1.1 3.3"/>
<line x1="504.50" y1="628.46" x2="504.50" y2="573.10" stroke="#f3e52c" stroke-width="0.9" opacity="0.45" stroke-dasharray="1.8 1.5 1.3 2.8 2.2 2.4 2.1 1.8 2.5 2.2 2.6 2.3 2.7 1.9 1.3 1.3 2.4 1.3 2.3 2.2 1.1 2.6 1.1 2.7 2.7 1.4 2.5 2.5 1.3 2.3 1.2 2.8 2.4 3.0 1.1 1.6 2.2 2.2 1.4 2.8"/>
<line x1="536.50" y1="626.28" x2="536.50" y2="573.10" stroke="#f3e52c" stroke-width="0.9" opacity="0.8" stroke-dasharray="9.1 0.5 6.2 0.7 9.9 1.2 11.1 0.6 7.4 0.5 5.7 1.0 4.2 0.7 9.2 1.0 5.8 1.1 10.5 0.5 10.4 1.2 6.7 0.7 11.7 0.8 4.7 0.6 10.8 1.1 10.5 1.2 8.3 1.5 7.0 1.1 10.6 1.1 10.9 1.1"/>
<line x1="541.50" y1="604.49" x2="541.50" y2="573.10" stroke="#f3e52c" stroke-width="0.9" opacity="0.4" stroke-dasharray="1.1 2.4 1.3 1.9 2.3 2.6 1.9 2.0 1.0 1.9 1.7 2.7 2.1 2.5 1.9 1.4 2.7 2.6 1.8 1.2 2.0 2.0 2.5 2.2 2.0 2.2 1.8 1.1 1.1 2.9 2.7 1.6 2.8 2.0 1.2 2.7 2.2 2.9 2.4 1.2"/>
<line x1="558.50" y1="628.46" x2="558.50" y2="573.10" stroke="#f3e52c" stroke-width="0.9" opacity="0.4" stroke-dasharray="1.8 2.1 2.7 1.4 1.5 1.1 1.2 1.0 1.3 2.0 3.0 2.4 1.8 1.8 2.4 1.7 1.1 2.7 2.2 1.2 1.1 1.2 2.9 1.2 2.3 2.9 1.1 1.8 2.0 2.8 1.4 1.5 1.5 1.1 2.3 2.6 1.9 1.1 2.4 2.5"/>
<line x1="558.50" y1="696.91" x2="558.50" y2="685.14" stroke="#f3e52c" stroke-width="0.9" opacity="0.5" stroke-dasharray="4.4 1.0 3.4 0.8 3.4 0.5 4.4 0.6 4.6 1.2 3.2 1.1 3.7 1.3 6.7 0.7 7.2 1.2 3.4 0.9 6.5 1.4 3.9 0.8 6.9 1.5 3.5 0.6 6.8 0.8 4.9 1.4 6.7 1.2 7.3 1.2 7.1 1.1 6.0 0.6"/>
<line x1="558.50" y1="750.53" x2="558.50" y2="713.47" stroke="#f3e52c" stroke-width="0.9" opacity="0.5" stroke-dasharray="9.2 0.9 7.1 1.4 4.6 1.0 7.1 1.4 3.2 0.6 5.2 1.3 8.9 0.6 9.4 1.0 9.8 1.4 3.7 1.5 6.4 0.7 6.3 0.6 8.2 1.0 3.8 0.7 6.5 1.3 4.9 0.6 5.5 0.6 5.3 1.4 4.3 0.8 8.4 0.7"/>
<line x1="558.50" y1="796.30" x2="558.50" y2="782.35" stroke="#f3e52c" stroke-width="0.9" opacity="0.6" stroke-dasharray="6.1 0.7 6.7 0.7 7.1 0.7 4.2 0.7 4.1 0.6 5.6 1.0 6.9 0.8 9.5 0.9 7.4 0.6 7.1 0.7 9.7 0.5 6.2 0.8 7.6 0.8 8.6 0.6 9.0 1.0 4.2 0.7 6.2 0.7 7.2 0.6 7.9 0.9 9.6 0.9"/>
<line x1="565.37" y1="626.28" x2="565.37" y2="573.10" stroke="#f3e52c" stroke-width="1.5" opacity="0.9"/>
<line x1="582.50" y1="621.92" x2="582.50" y2="573.10" stroke="#f3e52c" stroke-width="0.9" opacity="0.3" stroke-dasharray="2.1 1.3 2.4 1.6 2.9 1.4 2.5 1.3 2.9 2.7 1.2 2.3 1.4 2.0 2.7 1.3 1.4 1.1 1.1 2.0 1.3 1.3 2.4 1.6 1.7 1.7 2.7 1.5 2.3 2.9 2.1 1.6 1.3 2.3 1.4 1.8 2.6 2.6 1.6 1.7"/>
<line x1="585.50" y1="604.49" x2="585.50" y2="573.10" stroke="#f3e52c" stroke-width="0.9" opacity="0.6" stroke-dasharray="1.1 1.8 1.2 2.5 2.0 1.1 1.1 2.5 1.3 2.5 2.3 2.0 2.7 2.2 2.1 1.8 1.5 1.3 1.8 1.8 2.5 1.5 1.8 2.9 2.2 2.3 2.4 2.8 1.4 2.5 1.1 1.5 2.2 1.6 2.0 1.4 1.5 1.9 2.2 2.4"/>
<line x1="585.50" y1="626.28" x2="585.50" y2="604.49" stroke="#f3e52c" stroke-width="1.0" opacity="0.85"/>
<line x1="628.50" y1="582.69" x2="628.50" y2="573.10" stroke="#f3e52c" stroke-width="0.9" opacity="0.6" stroke-dasharray="2.0 1.5 2.3 1.5 1.9 2.9 1.2 1.6 2.4 1.2 1.3 2.7 3.0 1.6 1.4 2.9 1.7 2.2 2.2 2.3 2.8 2.9 2.4 2.6 2.6 2.3 1.9 1.5 1.5 2.9 2.4 1.2 2.8 1.5 2.4 1.9 1.5 1.4 2.2 1.8"/>
<line x1="628.50" y1="600.13" x2="628.50" y2="587.05" stroke="#f3e52c" stroke-width="1.0" opacity="0.8"/>
<line x1="628.50" y1="626.28" x2="628.50" y2="614.08" stroke="#f3e52c" stroke-width="1.0" opacity="0.8"/>
</g>
<rect x="408.30" y="573.10" width="223.70" height="223.20" fill="none" stroke="#222" stroke-width="0.9"/>
<line x1="408.52" y1="796.30" x2="408.52" y2="799.90" stroke="#222" stroke-width="0.9"/>
<line x1="404.70" y1="796.08" x2="408.30" y2="796.08" stroke="#222" stroke-width="0.9"/>
<text x="408.52" y="811.50" font-size="10.2" text-anchor="middle" fill="#1a1a1a" textLength="5.90" lengthAdjust="spacingAndGlyphs">0</text>
<text x="400.70" y="800.43" font-size="10.2" text-anchor="end" fill="#1a1a1a" textLength="5.90" lengthAdjust="spacingAndGlyphs">0</text>
<line x1="452.21" y1="796.30" x2="452.21" y2="799.90" stroke="#222" stroke-width="0.9"/>
<line x1="404.70" y1="752.49" x2="408.30" y2="752.49" stroke="#222" stroke-width="0.9"/>
<text x="452.21" y="811.50" font-size="10.2" text-anchor="middle" fill="#1a1a1a" textLength="17.70" lengthAdjust="spacingAndGlyphs">100</text>
<text x="400.70" y="756.84" font-size="10.2" text-anchor="end" fill="#1a1a1a" textLength="17.70" lengthAdjust="spacingAndGlyphs">100</text>
<line x1="495.90" y1="796.30" x2="495.90" y2="799.90" stroke="#222" stroke-width="0.9"/>
<line x1="404.70" y1="708.89" x2="408.30" y2="708.89" stroke="#222" stroke-width="0.9"/>
<text x="495.90" y="811.50" font-size="10.2" text-anchor="middle" fill="#1a1a1a" textLength="17.70" lengthAdjust="spacingAndGlyphs">200</text>
<text x="400.70" y="713.25" font-size="10.2" text-anchor="end" fill="#1a1a1a" textLength="17.70" lengthAdjust="spacingAndGlyphs">200</text>
<line x1="539.59" y1="796.30" x2="539.59" y2="799.90" stroke="#222" stroke-width="0.9"/>
<line x1="404.70" y1="665.30" x2="408.30" y2="665.30" stroke="#222" stroke-width="0.9"/>
<text x="539.59" y="811.50" font-size="10.2" text-anchor="middle" fill="#1a1a1a" textLength="17.70" lengthAdjust="spacingAndGlyphs">300</text>
<text x="400.70" y="669.65" font-size="10.2" text-anchor="end" fill="#1a1a1a" textLength="17.70" lengthAdjust="spacingAndGlyphs">300</text>
<line x1="583.28" y1="796.30" x2="583.28" y2="799.90" stroke="#222" stroke-width="0.9"/>
<line x1="404.70" y1="621.71" x2="408.30" y2="621.71" stroke="#222" stroke-width="0.9"/>
<text x="583.28" y="811.50" font-size="10.2" text-anchor="middle" fill="#1a1a1a" textLength="17.70" lengthAdjust="spacingAndGlyphs">400</text>
<text x="400.70" y="626.06" font-size="10.2" text-anchor="end" fill="#1a1a1a" textLength="17.70" lengthAdjust="spacingAndGlyphs">400</text>
<line x1="626.98" y1="796.30" x2="626.98" y2="799.90" stroke="#222" stroke-width="0.9"/>
<line x1="404.70" y1="578.11" x2="408.30" y2="578.11" stroke="#222" stroke-width="0.9"/>
<text x="626.98" y="811.50" font-size="10.2" text-anchor="middle" fill="#1a1a1a" textLength="17.70" lengthAdjust="spacingAndGlyphs">500</text>
<text x="400.70" y="582.46" font-size="10.2" text-anchor="end" fill="#1a1a1a" textLength="17.70" lengthAdjust="spacingAndGlyphs">500</text>
<text x="520.40" y="825.50" font-size="10.7" text-anchor="middle" fill="#1a1a1a" textLength="39.90" lengthAdjust="spacingAndGlyphs">Time [s]</text>
<text x="376.00" y="685.20" font-size="10.7" text-anchor="middle" fill="#1a1a1a" textLength="75.30" lengthAdjust="spacingAndGlyphs" transform="rotate(-90 376.00 685.20)">Frequency Bins</text>
<text x="369.60" y="808.30" font-size="17.2" text-anchor="start" fill="#111" font-weight="bold">f</text>
<rect x="646.00" y="574.10" width="11.50" height="221.80" fill="url(#vir)" stroke="#222" stroke-width="0.9"/>
<line x1="657.50" y1="795.90" x2="661.10" y2="795.90" stroke="#222" stroke-width="0.9"/>
<text x="664.70" y="800.20" font-size="10.6" text-anchor="start" fill="#1a1a1a" textLength="15.90" lengthAdjust="spacingAndGlyphs">0.0</text>
<line x1="657.50" y1="751.54" x2="661.10" y2="751.54" stroke="#222" stroke-width="0.9"/>
<text x="664.70" y="755.84" font-size="10.6" text-anchor="start" fill="#1a1a1a" textLength="15.90" lengthAdjust="spacingAndGlyphs">0.2</text>
<line x1="657.50" y1="707.18" x2="661.10" y2="707.18" stroke="#222" stroke-width="0.9"/>
<text x="664.70" y="711.48" font-size="10.6" text-anchor="start" fill="#1a1a1a" textLength="15.90" lengthAdjust="spacingAndGlyphs">0.4</text>
<line x1="657.50" y1="662.82" x2="661.10" y2="662.82" stroke="#222" stroke-width="0.9"/>
<text x="664.70" y="667.12" font-size="10.6" text-anchor="start" fill="#1a1a1a" textLength="15.90" lengthAdjust="spacingAndGlyphs">0.6</text>
<line x1="657.50" y1="618.46" x2="661.10" y2="618.46" stroke="#222" stroke-width="0.9"/>
<text x="664.70" y="622.76" font-size="10.6" text-anchor="start" fill="#1a1a1a" textLength="15.90" lengthAdjust="spacingAndGlyphs">0.8</text>
<line x1="657.50" y1="574.10" x2="661.10" y2="574.10" stroke="#222" stroke-width="0.9"/>
<text x="664.70" y="578.40" font-size="10.6" text-anchor="start" fill="#1a1a1a" textLength="15.90" lengthAdjust="spacingAndGlyphs">1.0</text>
</g>
<g style="mix-blend-mode:multiply"><rect x="0" y="0" width="1" height="1" fill="#fff"/></g>
</svg>
</body></html>
